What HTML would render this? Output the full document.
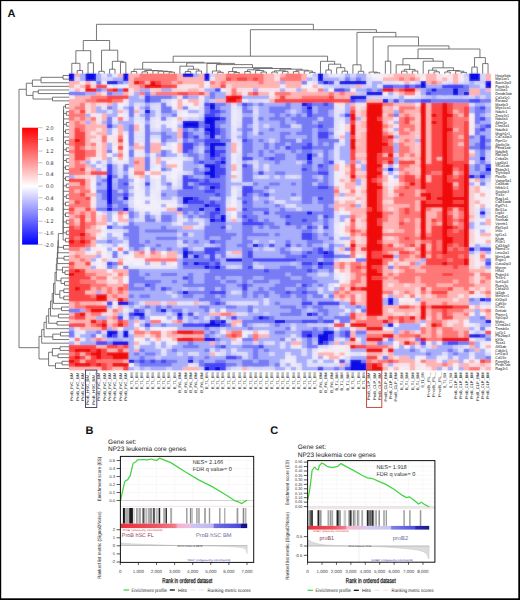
<!DOCTYPE html>
<html><head><meta charset="utf-8"><style>
html,body{margin:0;padding:0;background:#fff;}
body{width:520px;height:600px;overflow:hidden;position:relative;}
svg{position:absolute;left:0;top:0;}
text{font-family:"Liberation Sans",sans-serif;text-rendering:geometricPrecision;}
</style></head><body>
<svg width="520" height="600" viewBox="0 0 520 600">
<rect x="0" y="0" width="520" height="600" fill="#fff"/>
<defs><filter id="bl" x="-1%" y="-1%" width="102%" height="102%"><feGaussianBlur stdDeviation="0.8"/></filter></defs>
<g id="hm">
<path fill="#0a0ae6" d="M69.10 73.70h5.41v3.62h-5.41zM85.32 73.70h10.81v3.62h-10.81zM123.16 73.70h5.41v3.62h-5.41zM182.63 73.70h10.81v3.62h-10.81zM204.25 73.70h5.41v3.62h-5.41zM317.78 73.70h5.41v3.62h-5.41zM469.14 73.70h10.81v3.62h-10.81zM69.10 77.32h5.41v3.62h-5.41zM85.32 77.32h10.81v3.62h-10.81zM123.16 77.32h5.41v3.62h-5.41zM204.25 77.32h5.41v3.62h-5.41zM317.78 77.32h5.41v3.62h-5.41zM469.14 77.32h10.81v3.62h-10.81zM106.94 80.93h10.81v3.62h-10.81zM323.18 80.93h5.41v3.62h-5.41zM339.40 80.93h27.03v3.62h-27.03zM420.49 80.93h5.41v3.62h-5.41zM485.36 80.93h5.41v3.62h-5.41zM420.49 84.55h5.41v3.62h-5.41zM485.36 84.55h5.41v3.62h-5.41zM431.30 88.17h5.41v3.62h-5.41zM452.93 88.17h5.41v3.62h-5.41zM366.43 91.78h16.22v3.62h-16.22zM452.93 91.78h5.41v3.62h-5.41zM463.74 91.78h5.41v3.62h-5.41zM350.21 95.40h16.22v3.62h-16.22zM382.65 99.02h5.41v3.62h-5.41zM209.66 102.64h5.41v3.62h-5.41zM301.56 102.64h5.41v3.62h-5.41zM209.66 106.25h5.41v3.62h-5.41zM306.96 106.25h5.41v3.62h-5.41zM144.78 109.87h5.41v3.62h-5.41zM204.25 117.10h16.22v3.62h-16.22zM182.63 120.72h16.22v3.62h-16.22zM204.25 120.72h10.81v3.62h-10.81zM182.63 124.34h16.22v3.62h-16.22zM209.66 124.34h5.41v3.62h-5.41zM204.25 127.96h10.81v3.62h-10.81zM209.66 131.57h5.41v3.62h-5.41zM209.66 135.19h5.41v3.62h-5.41zM209.66 142.42h16.22v3.62h-16.22zM209.66 146.04h5.41v3.62h-5.41zM209.66 149.66h5.41v3.62h-5.41zM209.66 153.27h5.41v3.62h-5.41zM306.96 153.27h5.41v3.62h-5.41zM306.96 156.89h5.41v3.62h-5.41zM479.96 156.89h5.41v3.62h-5.41zM220.47 160.51h5.41v3.62h-5.41zM204.25 164.12h10.81v3.62h-10.81zM209.66 167.74h5.41v3.62h-5.41zM388.05 167.74h5.41v3.62h-5.41zM485.36 167.74h5.41v3.62h-5.41zM204.25 171.36h10.81v3.62h-10.81zM106.94 174.98h5.41v3.62h-5.41zM209.66 174.98h5.41v3.62h-5.41zM469.14 174.98h5.41v3.62h-5.41zM479.96 174.98h5.41v3.62h-5.41zM106.94 178.59h5.41v3.62h-5.41zM106.94 182.21h5.41v3.62h-5.41zM106.94 185.83h5.41v3.62h-5.41zM209.66 185.83h5.41v3.62h-5.41zM106.94 189.44h5.41v3.62h-5.41zM106.94 193.06h5.41v3.62h-5.41zM106.94 196.68h5.41v3.62h-5.41zM123.16 196.68h5.41v3.62h-5.41zM182.63 196.68h10.81v3.62h-10.81zM106.94 200.30h5.41v3.62h-5.41zM182.63 200.30h5.41v3.62h-5.41zM204.25 203.91h5.41v3.62h-5.41zM106.94 207.53h5.41v3.62h-5.41zM123.16 207.53h5.41v3.62h-5.41zM198.84 207.53h5.41v3.62h-5.41zM215.06 207.53h5.41v3.62h-5.41zM306.96 211.15h5.41v3.62h-5.41zM479.96 211.15h5.41v3.62h-5.41zM220.47 214.76h5.41v3.62h-5.41zM209.66 218.38h5.41v3.62h-5.41zM220.47 218.38h5.41v3.62h-5.41zM252.90 243.70h5.41v3.62h-5.41zM469.14 247.32h5.41v3.62h-5.41zM182.63 250.93h5.41v3.62h-5.41zM323.18 250.93h5.41v3.62h-5.41zM182.63 254.55h5.41v3.62h-5.41zM193.44 254.55h5.41v3.62h-5.41zM225.87 258.17h16.22v3.62h-16.22zM193.44 261.78h5.41v3.62h-5.41zM317.78 261.78h5.41v3.62h-5.41zM204.25 265.40h5.41v3.62h-5.41zM215.06 265.40h5.41v3.62h-5.41zM182.63 290.72h5.41v3.62h-5.41zM388.05 297.95h5.41v3.62h-5.41zM479.96 297.95h5.41v3.62h-5.41zM117.75 301.57h10.81v3.62h-10.81zM388.05 301.57h5.41v3.62h-5.41zM161.00 308.81h5.41v3.62h-5.41zM133.97 312.42h10.81v3.62h-10.81zM177.22 312.42h5.41v3.62h-5.41zM306.96 312.42h5.41v3.62h-5.41zM258.31 316.04h5.41v3.62h-5.41zM209.66 319.66h5.41v3.62h-5.41zM220.47 319.66h5.41v3.62h-5.41zM274.53 319.66h10.81v3.62h-10.81zM485.36 319.66h5.41v3.62h-5.41zM204.25 323.27h16.22v3.62h-16.22zM388.05 323.27h5.41v3.62h-5.41zM106.94 330.51h10.81v3.62h-10.81zM123.16 330.51h5.41v3.62h-5.41zM323.18 330.51h10.81v3.62h-10.81zM106.94 334.12h5.41v3.62h-5.41zM123.16 334.12h5.41v3.62h-5.41zM306.96 334.12h5.41v3.62h-5.41zM317.78 334.12h10.81v3.62h-10.81zM469.14 334.12h10.81v3.62h-10.81zM204.25 337.74h10.81v3.62h-10.81zM317.78 337.74h10.81v3.62h-10.81zM112.35 341.36h16.22v3.62h-16.22zM317.78 341.36h5.41v3.62h-5.41zM128.57 359.44h5.41v3.62h-5.41zM188.03 359.44h5.41v3.62h-5.41zM350.21 359.44h10.81v3.62h-10.81zM350.21 363.06h16.22v3.62h-16.22zM204.25 366.68h5.41v3.62h-5.41zM215.06 366.68h5.41v3.62h-5.41zM350.21 366.68h16.22v3.62h-16.22z"/>
<path fill="#ffb3b3" d="M74.51 73.70h5.41v3.62h-5.41zM117.75 73.70h5.41v3.62h-5.41zM128.57 73.70h10.81v3.62h-10.81zM177.22 73.70h5.41v3.62h-5.41zM198.84 73.70h5.41v3.62h-5.41zM215.06 73.70h10.81v3.62h-10.81zM263.72 73.70h10.81v3.62h-10.81zM279.93 73.70h5.41v3.62h-5.41zM301.56 73.70h5.41v3.62h-5.41zM393.46 73.70h21.62v3.62h-21.62zM425.90 73.70h10.81v3.62h-10.81zM452.93 73.70h5.41v3.62h-5.41zM485.36 73.70h5.41v3.62h-5.41zM128.57 77.32h5.41v3.62h-5.41zM177.22 77.32h27.03v3.62h-27.03zM215.06 77.32h10.81v3.62h-10.81zM263.72 77.32h10.81v3.62h-10.81zM301.56 77.32h5.41v3.62h-5.41zM382.65 77.32h16.22v3.62h-16.22zM404.27 77.32h5.41v3.62h-5.41zM415.08 77.32h5.41v3.62h-5.41zM425.90 77.32h10.81v3.62h-10.81zM442.11 77.32h5.41v3.62h-5.41zM452.93 77.32h5.41v3.62h-5.41zM485.36 77.32h5.41v3.62h-5.41zM69.10 80.93h10.81v3.62h-10.81zM85.32 80.93h5.41v3.62h-5.41zM128.57 80.93h5.41v3.62h-5.41zM144.78 80.93h5.41v3.62h-5.41zM171.81 80.93h5.41v3.62h-5.41zM182.63 80.93h21.62v3.62h-21.62zM215.06 80.93h5.41v3.62h-5.41zM225.87 80.93h32.44v3.62h-32.44zM263.72 80.93h16.22v3.62h-16.22zM285.34 80.93h16.22v3.62h-16.22zM404.27 80.93h5.41v3.62h-5.41zM425.90 80.93h5.41v3.62h-5.41zM436.71 80.93h5.41v3.62h-5.41zM452.93 80.93h5.41v3.62h-5.41zM69.10 84.55h5.41v3.62h-5.41zM79.91 84.55h5.41v3.62h-5.41zM128.57 84.55h10.81v3.62h-10.81zM198.84 84.55h5.41v3.62h-5.41zM209.66 84.55h10.81v3.62h-10.81zM231.28 84.55h48.65v3.62h-48.65zM285.34 84.55h16.22v3.62h-16.22zM312.37 84.55h5.41v3.62h-5.41zM355.62 84.55h5.41v3.62h-5.41zM74.51 88.17h5.41v3.62h-5.41zM133.97 88.17h5.41v3.62h-5.41zM188.03 88.17h10.81v3.62h-10.81zM301.56 88.17h5.41v3.62h-5.41zM415.08 88.17h5.41v3.62h-5.41zM469.14 88.17h10.81v3.62h-10.81zM485.36 88.17h5.41v3.62h-5.41zM96.13 91.78h5.41v3.62h-5.41zM123.16 91.78h5.41v3.62h-5.41zM150.19 91.78h5.41v3.62h-5.41zM204.25 91.78h5.41v3.62h-5.41zM236.69 91.78h5.41v3.62h-5.41zM258.31 91.78h10.81v3.62h-10.81zM290.75 91.78h37.84v3.62h-37.84zM333.99 91.78h5.41v3.62h-5.41zM344.81 91.78h10.81v3.62h-10.81zM398.87 91.78h5.41v3.62h-5.41zM469.14 91.78h10.81v3.62h-10.81zM74.51 95.40h16.22v3.62h-16.22zM274.53 95.40h5.41v3.62h-5.41zM285.34 95.40h16.22v3.62h-16.22zM333.99 95.40h16.22v3.62h-16.22zM69.10 99.02h16.22v3.62h-16.22zM177.22 99.02h5.41v3.62h-5.41zM188.03 99.02h10.81v3.62h-10.81zM215.06 99.02h10.81v3.62h-10.81zM269.12 99.02h5.41v3.62h-5.41zM366.43 99.02h16.22v3.62h-16.22zM69.10 102.64h10.81v3.62h-10.81zM90.72 102.64h5.41v3.62h-5.41zM106.94 102.64h5.41v3.62h-5.41zM177.22 102.64h5.41v3.62h-5.41zM193.44 102.64h5.41v3.62h-5.41zM350.21 102.64h5.41v3.62h-5.41zM393.46 102.64h21.62v3.62h-21.62zM425.90 102.64h5.41v3.62h-5.41zM69.10 106.25h5.41v3.62h-5.41zM90.72 106.25h5.41v3.62h-5.41zM177.22 106.25h5.41v3.62h-5.41zM388.05 106.25h5.41v3.62h-5.41zM415.08 106.25h5.41v3.62h-5.41zM425.90 106.25h5.41v3.62h-5.41zM74.51 109.87h5.41v3.62h-5.41zM90.72 109.87h5.41v3.62h-5.41zM117.75 109.87h5.41v3.62h-5.41zM133.97 109.87h5.41v3.62h-5.41zM361.02 109.87h5.41v3.62h-5.41zM382.65 109.87h10.81v3.62h-10.81zM404.27 109.87h16.22v3.62h-16.22zM425.90 109.87h5.41v3.62h-5.41zM452.93 109.87h5.41v3.62h-5.41zM101.54 113.49h5.41v3.62h-5.41zM361.02 113.49h5.41v3.62h-5.41zM398.87 113.49h5.41v3.62h-5.41zM409.68 113.49h5.41v3.62h-5.41zM425.90 113.49h5.41v3.62h-5.41zM458.33 113.49h5.41v3.62h-5.41zM74.51 117.10h5.41v3.62h-5.41zM85.32 117.10h5.41v3.62h-5.41zM101.54 117.10h5.41v3.62h-5.41zM177.22 117.10h5.41v3.62h-5.41zM382.65 117.10h10.81v3.62h-10.81zM425.90 117.10h5.41v3.62h-5.41zM69.10 120.72h5.41v3.62h-5.41zM79.91 120.72h5.41v3.62h-5.41zM90.72 120.72h5.41v3.62h-5.41zM361.02 120.72h5.41v3.62h-5.41zM382.65 120.72h5.41v3.62h-5.41zM409.68 120.72h5.41v3.62h-5.41zM425.90 120.72h5.41v3.62h-5.41zM69.10 124.34h5.41v3.62h-5.41zM85.32 124.34h21.62v3.62h-21.62zM117.75 124.34h5.41v3.62h-5.41zM133.97 124.34h5.41v3.62h-5.41zM361.02 124.34h5.41v3.62h-5.41zM388.05 124.34h5.41v3.62h-5.41zM425.90 124.34h5.41v3.62h-5.41zM69.10 127.96h5.41v3.62h-5.41zM85.32 127.96h10.81v3.62h-10.81zM101.54 127.96h5.41v3.62h-5.41zM117.75 127.96h5.41v3.62h-5.41zM133.97 127.96h5.41v3.62h-5.41zM177.22 127.96h5.41v3.62h-5.41zM382.65 127.96h5.41v3.62h-5.41zM404.27 127.96h5.41v3.62h-5.41zM425.90 127.96h5.41v3.62h-5.41zM452.93 127.96h5.41v3.62h-5.41zM69.10 131.57h5.41v3.62h-5.41zM85.32 131.57h5.41v3.62h-5.41zM96.13 131.57h10.81v3.62h-10.81zM117.75 131.57h5.41v3.62h-5.41zM177.22 131.57h5.41v3.62h-5.41zM361.02 131.57h5.41v3.62h-5.41zM388.05 131.57h5.41v3.62h-5.41zM409.68 131.57h5.41v3.62h-5.41zM425.90 131.57h5.41v3.62h-5.41zM69.10 135.19h5.41v3.62h-5.41zM85.32 135.19h10.81v3.62h-10.81zM177.22 135.19h5.41v3.62h-5.41zM339.40 135.19h5.41v3.62h-5.41zM361.02 135.19h5.41v3.62h-5.41zM398.87 135.19h16.22v3.62h-16.22zM425.90 135.19h5.41v3.62h-5.41zM458.33 135.19h5.41v3.62h-5.41zM85.32 138.81h5.41v3.62h-5.41zM355.62 138.81h10.81v3.62h-10.81zM398.87 138.81h5.41v3.62h-5.41zM409.68 138.81h5.41v3.62h-5.41zM425.90 138.81h5.41v3.62h-5.41zM85.32 142.42h5.41v3.62h-5.41zM101.54 142.42h5.41v3.62h-5.41zM117.75 142.42h5.41v3.62h-5.41zM133.97 142.42h5.41v3.62h-5.41zM150.19 142.42h10.81v3.62h-10.81zM177.22 142.42h5.41v3.62h-5.41zM231.28 142.42h5.41v3.62h-5.41zM361.02 142.42h5.41v3.62h-5.41zM404.27 142.42h10.81v3.62h-10.81zM425.90 142.42h5.41v3.62h-5.41zM69.10 146.04h5.41v3.62h-5.41zM90.72 146.04h5.41v3.62h-5.41zM101.54 146.04h5.41v3.62h-5.41zM133.97 146.04h10.81v3.62h-10.81zM150.19 146.04h10.81v3.62h-10.81zM177.22 146.04h5.41v3.62h-5.41zM231.28 146.04h5.41v3.62h-5.41zM355.62 146.04h10.81v3.62h-10.81zM409.68 146.04h5.41v3.62h-5.41zM425.90 146.04h5.41v3.62h-5.41zM101.54 149.66h5.41v3.62h-5.41zM117.75 149.66h5.41v3.62h-5.41zM150.19 149.66h10.81v3.62h-10.81zM177.22 149.66h5.41v3.62h-5.41zM231.28 149.66h5.41v3.62h-5.41zM355.62 149.66h10.81v3.62h-10.81zM409.68 149.66h5.41v3.62h-5.41zM425.90 149.66h5.41v3.62h-5.41zM69.10 153.27h5.41v3.62h-5.41zM101.54 153.27h5.41v3.62h-5.41zM382.65 153.27h5.41v3.62h-5.41zM404.27 153.27h5.41v3.62h-5.41zM425.90 153.27h5.41v3.62h-5.41zM469.14 153.27h5.41v3.62h-5.41zM69.10 156.89h5.41v3.62h-5.41zM85.32 156.89h5.41v3.62h-5.41zM101.54 156.89h5.41v3.62h-5.41zM117.75 156.89h5.41v3.62h-5.41zM133.97 156.89h10.81v3.62h-10.81zM155.60 156.89h5.41v3.62h-5.41zM355.62 156.89h10.81v3.62h-10.81zM398.87 156.89h5.41v3.62h-5.41zM409.68 156.89h10.81v3.62h-10.81zM425.90 156.89h5.41v3.62h-5.41zM436.71 156.89h5.41v3.62h-5.41zM69.10 160.51h5.41v3.62h-5.41zM79.91 160.51h5.41v3.62h-5.41zM139.38 160.51h5.41v3.62h-5.41zM155.60 160.51h5.41v3.62h-5.41zM425.90 160.51h5.41v3.62h-5.41zM69.10 164.12h5.41v3.62h-5.41zM85.32 164.12h5.41v3.62h-5.41zM133.97 164.12h10.81v3.62h-10.81zM166.41 164.12h10.81v3.62h-10.81zM231.28 164.12h5.41v3.62h-5.41zM333.99 164.12h5.41v3.62h-5.41zM344.81 164.12h5.41v3.62h-5.41zM409.68 164.12h10.81v3.62h-10.81zM90.72 167.74h5.41v3.62h-5.41zM133.97 167.74h10.81v3.62h-10.81zM231.28 167.74h5.41v3.62h-5.41zM333.99 167.74h5.41v3.62h-5.41zM355.62 167.74h5.41v3.62h-5.41zM404.27 167.74h10.81v3.62h-10.81zM85.32 171.36h5.41v3.62h-5.41zM150.19 171.36h10.81v3.62h-10.81zM344.81 171.36h5.41v3.62h-5.41zM398.87 171.36h5.41v3.62h-5.41zM409.68 171.36h5.41v3.62h-5.41zM452.93 171.36h5.41v3.62h-5.41zM139.38 174.98h5.41v3.62h-5.41zM231.28 174.98h5.41v3.62h-5.41zM355.62 174.98h10.81v3.62h-10.81zM382.65 174.98h5.41v3.62h-5.41zM415.08 174.98h5.41v3.62h-5.41zM425.90 174.98h5.41v3.62h-5.41zM85.32 178.59h5.41v3.62h-5.41zM339.40 178.59h5.41v3.62h-5.41zM382.65 178.59h5.41v3.62h-5.41zM425.90 178.59h5.41v3.62h-5.41zM474.55 178.59h5.41v3.62h-5.41zM69.10 182.21h10.81v3.62h-10.81zM85.32 182.21h5.41v3.62h-5.41zM344.81 182.21h10.81v3.62h-10.81zM398.87 182.21h5.41v3.62h-5.41zM452.93 182.21h5.41v3.62h-5.41zM85.32 185.83h5.41v3.62h-5.41zM333.99 185.83h5.41v3.62h-5.41zM344.81 185.83h10.81v3.62h-10.81zM382.65 185.83h5.41v3.62h-5.41zM393.46 185.83h5.41v3.62h-5.41zM474.55 185.83h5.41v3.62h-5.41zM74.51 189.44h5.41v3.62h-5.41zM361.02 189.44h5.41v3.62h-5.41zM382.65 189.44h5.41v3.62h-5.41zM415.08 189.44h5.41v3.62h-5.41zM474.55 189.44h5.41v3.62h-5.41zM85.32 193.06h10.81v3.62h-10.81zM333.99 193.06h5.41v3.62h-5.41zM344.81 193.06h10.81v3.62h-10.81zM382.65 193.06h5.41v3.62h-5.41zM393.46 193.06h5.41v3.62h-5.41zM415.08 193.06h5.41v3.62h-5.41zM479.96 193.06h5.41v3.62h-5.41zM355.62 196.68h5.41v3.62h-5.41zM382.65 196.68h10.81v3.62h-10.81zM69.10 200.30h5.41v3.62h-5.41zM333.99 200.30h5.41v3.62h-5.41zM344.81 200.30h10.81v3.62h-10.81zM415.08 200.30h5.41v3.62h-5.41zM474.55 200.30h5.41v3.62h-5.41zM333.99 203.91h16.22v3.62h-16.22zM382.65 203.91h27.03v3.62h-27.03zM415.08 203.91h5.41v3.62h-5.41zM479.96 203.91h5.41v3.62h-5.41zM74.51 207.53h10.81v3.62h-10.81zM90.72 207.53h5.41v3.62h-5.41zM166.41 207.53h10.81v3.62h-10.81zM225.87 207.53h10.81v3.62h-10.81zM333.99 207.53h5.41v3.62h-5.41zM344.81 207.53h21.62v3.62h-21.62zM382.65 207.53h5.41v3.62h-5.41zM393.46 207.53h5.41v3.62h-5.41zM415.08 207.53h5.41v3.62h-5.41zM431.30 207.53h10.81v3.62h-10.81zM452.93 207.53h5.41v3.62h-5.41zM74.51 211.15h5.41v3.62h-5.41zM85.32 211.15h5.41v3.62h-5.41zM123.16 211.15h5.41v3.62h-5.41zM177.22 211.15h5.41v3.62h-5.41zM350.21 211.15h16.22v3.62h-16.22zM393.46 211.15h5.41v3.62h-5.41zM425.90 211.15h10.81v3.62h-10.81zM452.93 211.15h5.41v3.62h-5.41zM69.10 214.76h5.41v3.62h-5.41zM85.32 214.76h5.41v3.62h-5.41zM101.54 214.76h5.41v3.62h-5.41zM117.75 214.76h5.41v3.62h-5.41zM355.62 214.76h5.41v3.62h-5.41zM388.05 214.76h10.81v3.62h-10.81zM425.90 214.76h10.81v3.62h-10.81zM452.93 214.76h5.41v3.62h-5.41zM469.14 214.76h5.41v3.62h-5.41zM101.54 218.38h5.41v3.62h-5.41zM117.75 218.38h10.81v3.62h-10.81zM231.28 218.38h5.41v3.62h-5.41zM361.02 218.38h5.41v3.62h-5.41zM388.05 218.38h10.81v3.62h-10.81zM404.27 218.38h5.41v3.62h-5.41zM425.90 218.38h5.41v3.62h-5.41zM485.36 218.38h5.41v3.62h-5.41zM74.51 222.00h5.41v3.62h-5.41zM96.13 222.00h10.81v3.62h-10.81zM382.65 222.00h16.22v3.62h-16.22zM415.08 222.00h5.41v3.62h-5.41zM425.90 222.00h5.41v3.62h-5.41zM436.71 222.00h5.41v3.62h-5.41zM452.93 222.00h5.41v3.62h-5.41zM485.36 222.00h5.41v3.62h-5.41zM90.72 225.61h5.41v3.62h-5.41zM182.63 225.61h10.81v3.62h-10.81zM344.81 225.61h5.41v3.62h-5.41zM382.65 225.61h16.22v3.62h-16.22zM415.08 225.61h5.41v3.62h-5.41zM425.90 225.61h5.41v3.62h-5.41zM85.32 229.23h16.22v3.62h-16.22zM344.81 229.23h5.41v3.62h-5.41zM361.02 229.23h5.41v3.62h-5.41zM393.46 229.23h10.81v3.62h-10.81zM425.90 229.23h5.41v3.62h-5.41zM90.72 232.85h5.41v3.62h-5.41zM355.62 232.85h5.41v3.62h-5.41zM415.08 232.85h5.41v3.62h-5.41zM479.96 232.85h10.81v3.62h-10.81zM350.21 236.46h5.41v3.62h-5.41zM393.46 236.46h5.41v3.62h-5.41zM90.72 240.08h5.41v3.62h-5.41zM382.65 240.08h16.22v3.62h-16.22zM415.08 240.08h5.41v3.62h-5.41zM485.36 240.08h5.41v3.62h-5.41zM90.72 243.70h5.41v3.62h-5.41zM355.62 243.70h10.81v3.62h-10.81zM398.87 243.70h5.41v3.62h-5.41zM415.08 243.70h5.41v3.62h-5.41zM79.91 247.32h5.41v3.62h-5.41zM339.40 247.32h5.41v3.62h-5.41zM404.27 247.32h5.41v3.62h-5.41zM425.90 247.32h5.41v3.62h-5.41zM74.51 250.93h10.81v3.62h-10.81zM96.13 250.93h5.41v3.62h-5.41zM133.97 250.93h5.41v3.62h-5.41zM155.60 250.93h5.41v3.62h-5.41zM166.41 250.93h10.81v3.62h-10.81zM231.28 250.93h10.81v3.62h-10.81zM388.05 250.93h5.41v3.62h-5.41zM415.08 250.93h5.41v3.62h-5.41zM479.96 250.93h5.41v3.62h-5.41zM69.10 254.55h5.41v3.62h-5.41zM79.91 254.55h16.22v3.62h-16.22zM133.97 254.55h10.81v3.62h-10.81zM150.19 254.55h10.81v3.62h-10.81zM166.41 254.55h10.81v3.62h-10.81zM409.68 254.55h5.41v3.62h-5.41zM425.90 254.55h5.41v3.62h-5.41zM69.10 258.17h10.81v3.62h-10.81zM85.32 258.17h5.41v3.62h-5.41zM101.54 258.17h5.41v3.62h-5.41zM117.75 258.17h5.41v3.62h-5.41zM404.27 258.17h16.22v3.62h-16.22zM479.96 258.17h5.41v3.62h-5.41zM74.51 261.78h10.81v3.62h-10.81zM333.99 261.78h5.41v3.62h-5.41zM344.81 261.78h5.41v3.62h-5.41zM361.02 261.78h5.41v3.62h-5.41zM393.46 261.78h5.41v3.62h-5.41zM420.49 261.78h5.41v3.62h-5.41zM74.51 265.40h16.22v3.62h-16.22zM333.99 265.40h5.41v3.62h-5.41zM382.65 265.40h5.41v3.62h-5.41zM393.46 265.40h5.41v3.62h-5.41zM409.68 265.40h10.81v3.62h-10.81zM479.96 265.40h5.41v3.62h-5.41zM85.32 269.02h21.62v3.62h-21.62zM112.35 269.02h16.22v3.62h-16.22zM339.40 269.02h5.41v3.62h-5.41zM361.02 269.02h5.41v3.62h-5.41zM382.65 269.02h10.81v3.62h-10.81zM398.87 269.02h5.41v3.62h-5.41zM415.08 269.02h10.81v3.62h-10.81zM469.14 269.02h16.22v3.62h-16.22zM96.13 272.63h16.22v3.62h-16.22zM123.16 272.63h5.41v3.62h-5.41zM350.21 272.63h5.41v3.62h-5.41zM382.65 272.63h5.41v3.62h-5.41zM393.46 272.63h5.41v3.62h-5.41zM90.72 276.25h5.41v3.62h-5.41zM112.35 276.25h10.81v3.62h-10.81zM350.21 276.25h5.41v3.62h-5.41zM361.02 276.25h5.41v3.62h-5.41zM388.05 276.25h5.41v3.62h-5.41zM415.08 276.25h5.41v3.62h-5.41zM469.14 276.25h5.41v3.62h-5.41zM479.96 276.25h5.41v3.62h-5.41zM96.13 279.87h10.81v3.62h-10.81zM117.75 279.87h5.41v3.62h-5.41zM361.02 279.87h5.41v3.62h-5.41zM382.65 279.87h16.22v3.62h-16.22zM415.08 279.87h5.41v3.62h-5.41zM452.93 279.87h5.41v3.62h-5.41zM469.14 279.87h5.41v3.62h-5.41zM485.36 279.87h5.41v3.62h-5.41zM106.94 283.49h16.22v3.62h-16.22zM339.40 283.49h10.81v3.62h-10.81zM355.62 283.49h10.81v3.62h-10.81zM382.65 283.49h5.41v3.62h-5.41zM393.46 283.49h10.81v3.62h-10.81zM409.68 283.49h16.22v3.62h-16.22zM436.71 283.49h16.22v3.62h-16.22zM474.55 283.49h16.22v3.62h-16.22zM90.72 287.10h5.41v3.62h-5.41zM101.54 287.10h5.41v3.62h-5.41zM112.35 287.10h5.41v3.62h-5.41zM382.65 287.10h32.44v3.62h-32.44zM452.93 287.10h10.81v3.62h-10.81zM474.55 287.10h5.41v3.62h-5.41zM485.36 287.10h5.41v3.62h-5.41zM90.72 290.72h5.41v3.62h-5.41zM101.54 290.72h5.41v3.62h-5.41zM112.35 290.72h5.41v3.62h-5.41zM123.16 290.72h5.41v3.62h-5.41zM339.40 290.72h5.41v3.62h-5.41zM350.21 290.72h16.22v3.62h-16.22zM398.87 290.72h5.41v3.62h-5.41zM409.68 290.72h5.41v3.62h-5.41zM425.90 290.72h5.41v3.62h-5.41zM447.52 290.72h21.62v3.62h-21.62zM479.96 290.72h5.41v3.62h-5.41zM106.94 294.34h5.41v3.62h-5.41zM117.75 294.34h10.81v3.62h-10.81zM333.99 294.34h5.41v3.62h-5.41zM344.81 294.34h5.41v3.62h-5.41zM361.02 294.34h5.41v3.62h-5.41zM393.46 294.34h10.81v3.62h-10.81zM420.49 294.34h5.41v3.62h-5.41zM431.30 294.34h5.41v3.62h-5.41zM447.52 294.34h10.81v3.62h-10.81zM463.74 294.34h5.41v3.62h-5.41zM485.36 294.34h5.41v3.62h-5.41zM106.94 297.95h10.81v3.62h-10.81zM339.40 297.95h5.41v3.62h-5.41zM361.02 297.95h5.41v3.62h-5.41zM420.49 297.95h32.44v3.62h-32.44zM458.33 297.95h10.81v3.62h-10.81zM69.10 301.57h5.41v3.62h-5.41zM79.91 301.57h16.22v3.62h-16.22zM144.78 301.57h16.22v3.62h-16.22zM166.41 301.57h10.81v3.62h-10.81zM193.44 301.57h5.41v3.62h-5.41zM355.62 301.57h10.81v3.62h-10.81zM425.90 301.57h16.22v3.62h-16.22zM447.52 301.57h21.62v3.62h-21.62zM69.10 305.19h5.41v3.62h-5.41zM117.75 305.19h5.41v3.62h-5.41zM382.65 305.19h16.22v3.62h-16.22zM415.08 305.19h5.41v3.62h-5.41zM474.55 305.19h5.41v3.62h-5.41zM117.75 308.81h5.41v3.62h-5.41zM382.65 308.81h5.41v3.62h-5.41zM393.46 308.81h21.62v3.62h-21.62zM425.90 308.81h5.41v3.62h-5.41zM463.74 308.81h10.81v3.62h-10.81zM479.96 308.81h5.41v3.62h-5.41zM69.10 312.42h5.41v3.62h-5.41zM85.32 312.42h5.41v3.62h-5.41zM112.35 312.42h5.41v3.62h-5.41zM209.66 312.42h10.81v3.62h-10.81zM231.28 312.42h5.41v3.62h-5.41zM355.62 312.42h10.81v3.62h-10.81zM382.65 312.42h10.81v3.62h-10.81zM404.27 312.42h5.41v3.62h-5.41zM425.90 312.42h5.41v3.62h-5.41zM436.71 312.42h5.41v3.62h-5.41zM452.93 312.42h10.81v3.62h-10.81zM485.36 312.42h5.41v3.62h-5.41zM85.32 316.04h10.81v3.62h-10.81zM106.94 316.04h5.41v3.62h-5.41zM355.62 316.04h5.41v3.62h-5.41zM377.24 316.04h10.81v3.62h-10.81zM415.08 316.04h5.41v3.62h-5.41zM436.71 316.04h5.41v3.62h-5.41zM452.93 316.04h16.22v3.62h-16.22zM485.36 316.04h5.41v3.62h-5.41zM74.51 319.66h16.22v3.62h-16.22zM112.35 319.66h5.41v3.62h-5.41zM133.97 319.66h5.41v3.62h-5.41zM171.81 319.66h5.41v3.62h-5.41zM231.28 319.66h10.81v3.62h-10.81zM350.21 319.66h5.41v3.62h-5.41zM393.46 319.66h5.41v3.62h-5.41zM415.08 319.66h5.41v3.62h-5.41zM425.90 319.66h5.41v3.62h-5.41zM442.11 319.66h5.41v3.62h-5.41zM458.33 319.66h5.41v3.62h-5.41zM85.32 323.27h5.41v3.62h-5.41zM106.94 323.27h5.41v3.62h-5.41zM231.28 323.27h5.41v3.62h-5.41zM425.90 323.27h5.41v3.62h-5.41zM442.11 323.27h5.41v3.62h-5.41zM452.93 323.27h10.81v3.62h-10.81zM79.91 326.89h21.62v3.62h-21.62zM112.35 326.89h5.41v3.62h-5.41zM133.97 326.89h5.41v3.62h-5.41zM355.62 326.89h10.81v3.62h-10.81zM425.90 326.89h5.41v3.62h-5.41zM436.71 326.89h5.41v3.62h-5.41zM452.93 326.89h16.22v3.62h-16.22zM144.78 330.51h5.41v3.62h-5.41zM166.41 330.51h5.41v3.62h-5.41zM225.87 330.51h5.41v3.62h-5.41zM252.90 330.51h5.41v3.62h-5.41zM350.21 330.51h5.41v3.62h-5.41zM366.43 330.51h27.03v3.62h-27.03zM398.87 330.51h5.41v3.62h-5.41zM409.68 330.51h5.41v3.62h-5.41zM425.90 330.51h5.41v3.62h-5.41zM458.33 330.51h5.41v3.62h-5.41zM133.97 334.12h10.81v3.62h-10.81zM150.19 334.12h5.41v3.62h-5.41zM166.41 334.12h10.81v3.62h-10.81zM182.63 334.12h21.62v3.62h-21.62zM258.31 334.12h10.81v3.62h-10.81zM350.21 334.12h5.41v3.62h-5.41zM393.46 334.12h5.41v3.62h-5.41zM420.49 334.12h10.81v3.62h-10.81zM436.71 334.12h5.41v3.62h-5.41zM458.33 334.12h5.41v3.62h-5.41zM90.72 337.74h5.41v3.62h-5.41zM101.54 337.74h5.41v3.62h-5.41zM155.60 337.74h5.41v3.62h-5.41zM171.81 337.74h5.41v3.62h-5.41zM231.28 337.74h5.41v3.62h-5.41zM393.46 337.74h16.22v3.62h-16.22zM133.97 341.36h5.41v3.62h-5.41zM209.66 341.36h5.41v3.62h-5.41zM290.75 341.36h10.81v3.62h-10.81zM333.99 341.36h5.41v3.62h-5.41zM344.81 341.36h10.81v3.62h-10.81zM366.43 341.36h10.81v3.62h-10.81zM398.87 341.36h5.41v3.62h-5.41zM415.08 341.36h5.41v3.62h-5.41zM96.13 344.97h10.81v3.62h-10.81zM388.05 344.97h5.41v3.62h-5.41zM431.30 344.97h5.41v3.62h-5.41zM469.14 344.97h5.41v3.62h-5.41zM485.36 344.97h5.41v3.62h-5.41zM106.94 348.59h10.81v3.62h-10.81zM123.16 348.59h5.41v3.62h-5.41zM133.97 348.59h5.41v3.62h-5.41zM474.55 348.59h5.41v3.62h-5.41zM79.91 352.21h5.41v3.62h-5.41zM209.66 352.21h5.41v3.62h-5.41zM317.78 352.21h16.22v3.62h-16.22zM339.40 352.21h5.41v3.62h-5.41zM366.43 352.21h16.22v3.62h-16.22zM388.05 352.21h5.41v3.62h-5.41zM85.32 355.83h5.41v3.62h-5.41zM328.59 355.83h10.81v3.62h-10.81zM388.05 355.83h5.41v3.62h-5.41zM398.87 355.83h10.81v3.62h-10.81zM79.91 359.44h5.41v3.62h-5.41zM123.16 359.44h5.41v3.62h-5.41zM371.84 359.44h5.41v3.62h-5.41zM398.87 359.44h16.22v3.62h-16.22zM425.90 359.44h10.81v3.62h-10.81zM447.52 359.44h10.81v3.62h-10.81zM469.14 359.44h5.41v3.62h-5.41zM339.40 363.06h5.41v3.62h-5.41zM409.68 363.06h5.41v3.62h-5.41zM425.90 363.06h16.22v3.62h-16.22zM447.52 363.06h5.41v3.62h-5.41zM458.33 363.06h10.81v3.62h-10.81zM479.96 363.06h5.41v3.62h-5.41zM69.10 366.68h32.44v3.62h-32.44zM112.35 366.68h10.81v3.62h-10.81zM182.63 366.68h16.22v3.62h-16.22zM242.09 366.68h5.41v3.62h-5.41zM382.65 366.68h5.41v3.62h-5.41zM393.46 366.68h5.41v3.62h-5.41zM409.68 366.68h5.41v3.62h-5.41zM431.30 366.68h5.41v3.62h-5.41zM463.74 366.68h5.41v3.62h-5.41zM485.36 366.68h5.41v3.62h-5.41z"/>
<path fill="#a9aefc" d="M79.91 73.70h5.41v3.62h-5.41zM96.13 73.70h5.41v3.62h-5.41zM106.94 73.70h5.41v3.62h-5.41zM193.44 73.70h5.41v3.62h-5.41zM344.81 73.70h5.41v3.62h-5.41zM355.62 73.70h10.81v3.62h-10.81zM79.91 77.32h5.41v3.62h-5.41zM96.13 77.32h5.41v3.62h-5.41zM112.35 77.32h10.81v3.62h-10.81zM306.96 77.32h5.41v3.62h-5.41zM323.18 77.32h16.22v3.62h-16.22zM361.02 77.32h5.41v3.62h-5.41zM123.16 80.93h5.41v3.62h-5.41zM279.93 80.93h5.41v3.62h-5.41zM371.84 80.93h10.81v3.62h-10.81zM469.14 80.93h5.41v3.62h-5.41zM371.84 84.55h5.41v3.62h-5.41zM425.90 84.55h16.22v3.62h-16.22zM469.14 84.55h10.81v3.62h-10.81zM101.54 88.17h5.41v3.62h-5.41zM139.38 88.17h10.81v3.62h-10.81zM161.00 88.17h10.81v3.62h-10.81zM204.25 88.17h10.81v3.62h-10.81zM252.90 88.17h5.41v3.62h-5.41zM279.93 88.17h5.41v3.62h-5.41zM296.15 88.17h5.41v3.62h-5.41zM323.18 88.17h5.41v3.62h-5.41zM355.62 88.17h10.81v3.62h-10.81zM371.84 88.17h5.41v3.62h-5.41zM420.49 88.17h5.41v3.62h-5.41zM479.96 88.17h5.41v3.62h-5.41zM85.32 91.78h10.81v3.62h-10.81zM112.35 91.78h10.81v3.62h-10.81zM133.97 91.78h5.41v3.62h-5.41zM215.06 91.78h10.81v3.62h-10.81zM388.05 91.78h5.41v3.62h-5.41zM420.49 91.78h5.41v3.62h-5.41zM479.96 91.78h10.81v3.62h-10.81zM128.57 95.40h10.81v3.62h-10.81zM171.81 95.40h5.41v3.62h-5.41zM188.03 95.40h10.81v3.62h-10.81zM204.25 95.40h5.41v3.62h-5.41zM215.06 95.40h10.81v3.62h-10.81zM242.09 95.40h27.03v3.62h-27.03zM398.87 95.40h5.41v3.62h-5.41zM431.30 95.40h5.41v3.62h-5.41zM474.55 95.40h5.41v3.62h-5.41zM485.36 95.40h5.41v3.62h-5.41zM128.57 99.02h16.22v3.62h-16.22zM204.25 99.02h5.41v3.62h-5.41zM388.05 99.02h5.41v3.62h-5.41zM398.87 99.02h5.41v3.62h-5.41zM112.35 102.64h5.41v3.62h-5.41zM128.57 102.64h5.41v3.62h-5.41zM144.78 102.64h5.41v3.62h-5.41zM225.87 102.64h5.41v3.62h-5.41zM236.69 102.64h5.41v3.62h-5.41zM252.90 102.64h5.41v3.62h-5.41zM263.72 102.64h21.62v3.62h-21.62zM290.75 102.64h10.81v3.62h-10.81zM344.81 102.64h5.41v3.62h-5.41zM474.55 102.64h10.81v3.62h-10.81zM96.13 106.25h5.41v3.62h-5.41zM112.35 106.25h5.41v3.62h-5.41zM123.16 106.25h5.41v3.62h-5.41zM139.38 106.25h5.41v3.62h-5.41zM220.47 106.25h10.81v3.62h-10.81zM247.50 106.25h5.41v3.62h-5.41zM258.31 106.25h10.81v3.62h-10.81zM290.75 106.25h10.81v3.62h-10.81zM312.37 106.25h5.41v3.62h-5.41zM344.81 106.25h5.41v3.62h-5.41zM469.14 106.25h5.41v3.62h-5.41zM485.36 106.25h5.41v3.62h-5.41zM96.13 109.87h10.81v3.62h-10.81zM112.35 109.87h5.41v3.62h-5.41zM150.19 109.87h5.41v3.62h-5.41zM171.81 109.87h5.41v3.62h-5.41zM188.03 109.87h10.81v3.62h-10.81zM225.87 109.87h5.41v3.62h-5.41zM258.31 109.87h10.81v3.62h-10.81zM285.34 109.87h5.41v3.62h-5.41zM296.15 109.87h5.41v3.62h-5.41zM312.37 109.87h5.41v3.62h-5.41zM328.59 109.87h5.41v3.62h-5.41zM344.81 109.87h5.41v3.62h-5.41zM393.46 109.87h5.41v3.62h-5.41zM469.14 109.87h5.41v3.62h-5.41zM485.36 109.87h5.41v3.62h-5.41zM85.32 113.49h5.41v3.62h-5.41zM106.94 113.49h10.81v3.62h-10.81zM139.38 113.49h5.41v3.62h-5.41zM150.19 113.49h5.41v3.62h-5.41zM161.00 113.49h10.81v3.62h-10.81zM220.47 113.49h10.81v3.62h-10.81zM242.09 113.49h10.81v3.62h-10.81zM258.31 113.49h16.22v3.62h-16.22zM279.93 113.49h5.41v3.62h-5.41zM290.75 113.49h5.41v3.62h-5.41zM301.56 113.49h5.41v3.62h-5.41zM328.59 113.49h5.41v3.62h-5.41zM339.40 113.49h5.41v3.62h-5.41zM479.96 113.49h5.41v3.62h-5.41zM128.57 117.10h5.41v3.62h-5.41zM225.87 117.10h5.41v3.62h-5.41zM263.72 117.10h5.41v3.62h-5.41zM285.34 117.10h5.41v3.62h-5.41zM344.81 117.10h5.41v3.62h-5.41zM355.62 117.10h5.41v3.62h-5.41zM485.36 117.10h5.41v3.62h-5.41zM85.32 120.72h5.41v3.62h-5.41zM101.54 120.72h5.41v3.62h-5.41zM117.75 120.72h16.22v3.62h-16.22zM144.78 120.72h5.41v3.62h-5.41zM225.87 120.72h5.41v3.62h-5.41zM258.31 120.72h21.62v3.62h-21.62zM285.34 120.72h10.81v3.62h-10.81zM312.37 120.72h5.41v3.62h-5.41zM344.81 120.72h5.41v3.62h-5.41zM393.46 120.72h5.41v3.62h-5.41zM479.96 120.72h10.81v3.62h-10.81zM112.35 124.34h5.41v3.62h-5.41zM123.16 124.34h5.41v3.62h-5.41zM161.00 124.34h5.41v3.62h-5.41zM177.22 124.34h5.41v3.62h-5.41zM220.47 124.34h10.81v3.62h-10.81zM247.50 124.34h5.41v3.62h-5.41zM258.31 124.34h5.41v3.62h-5.41zM269.12 124.34h10.81v3.62h-10.81zM474.55 124.34h5.41v3.62h-5.41zM106.94 127.96h5.41v3.62h-5.41zM123.16 127.96h5.41v3.62h-5.41zM161.00 127.96h10.81v3.62h-10.81zM188.03 127.96h5.41v3.62h-5.41zM225.87 127.96h5.41v3.62h-5.41zM236.69 127.96h5.41v3.62h-5.41zM258.31 127.96h10.81v3.62h-10.81zM274.53 127.96h27.03v3.62h-27.03zM312.37 127.96h5.41v3.62h-5.41zM328.59 127.96h5.41v3.62h-5.41zM393.46 127.96h5.41v3.62h-5.41zM485.36 127.96h5.41v3.62h-5.41zM106.94 131.57h5.41v3.62h-5.41zM150.19 131.57h10.81v3.62h-10.81zM166.41 131.57h10.81v3.62h-10.81zM193.44 131.57h10.81v3.62h-10.81zM225.87 131.57h5.41v3.62h-5.41zM247.50 131.57h5.41v3.62h-5.41zM263.72 131.57h16.22v3.62h-16.22zM290.75 131.57h5.41v3.62h-5.41zM312.37 131.57h5.41v3.62h-5.41zM344.81 131.57h5.41v3.62h-5.41zM479.96 131.57h10.81v3.62h-10.81zM171.81 135.19h5.41v3.62h-5.41zM198.84 135.19h5.41v3.62h-5.41zM215.06 135.19h5.41v3.62h-5.41zM225.87 135.19h5.41v3.62h-5.41zM236.69 135.19h5.41v3.62h-5.41zM247.50 135.19h32.44v3.62h-32.44zM285.34 135.19h21.62v3.62h-21.62zM312.37 135.19h5.41v3.62h-5.41zM328.59 135.19h5.41v3.62h-5.41zM344.81 135.19h5.41v3.62h-5.41zM393.46 135.19h5.41v3.62h-5.41zM474.55 135.19h5.41v3.62h-5.41zM485.36 135.19h5.41v3.62h-5.41zM166.41 138.81h10.81v3.62h-10.81zM188.03 138.81h5.41v3.62h-5.41zM252.90 138.81h5.41v3.62h-5.41zM263.72 138.81h5.41v3.62h-5.41zM274.53 138.81h5.41v3.62h-5.41zM312.37 138.81h5.41v3.62h-5.41zM344.81 138.81h5.41v3.62h-5.41zM415.08 138.81h5.41v3.62h-5.41zM469.14 138.81h10.81v3.62h-10.81zM106.94 142.42h5.41v3.62h-5.41zM161.00 142.42h5.41v3.62h-5.41zM198.84 142.42h5.41v3.62h-5.41zM225.87 142.42h5.41v3.62h-5.41zM252.90 142.42h10.81v3.62h-10.81zM269.12 142.42h5.41v3.62h-5.41zM285.34 142.42h5.41v3.62h-5.41zM312.37 142.42h5.41v3.62h-5.41zM323.18 142.42h5.41v3.62h-5.41zM344.81 142.42h5.41v3.62h-5.41zM393.46 142.42h5.41v3.62h-5.41zM469.14 142.42h5.41v3.62h-5.41zM485.36 142.42h5.41v3.62h-5.41zM106.94 146.04h5.41v3.62h-5.41zM128.57 146.04h5.41v3.62h-5.41zM193.44 146.04h5.41v3.62h-5.41zM225.87 146.04h5.41v3.62h-5.41zM252.90 146.04h10.81v3.62h-10.81zM269.12 146.04h5.41v3.62h-5.41zM279.93 146.04h5.41v3.62h-5.41zM339.40 146.04h10.81v3.62h-10.81zM393.46 146.04h5.41v3.62h-5.41zM166.41 149.66h5.41v3.62h-5.41zM193.44 149.66h5.41v3.62h-5.41zM225.87 149.66h5.41v3.62h-5.41zM252.90 149.66h5.41v3.62h-5.41zM263.72 149.66h5.41v3.62h-5.41zM274.53 149.66h16.22v3.62h-16.22zM296.15 149.66h5.41v3.62h-5.41zM312.37 149.66h10.81v3.62h-10.81zM328.59 149.66h5.41v3.62h-5.41zM339.40 149.66h10.81v3.62h-10.81zM393.46 149.66h5.41v3.62h-5.41zM474.55 149.66h5.41v3.62h-5.41zM112.35 153.27h5.41v3.62h-5.41zM144.78 153.27h5.41v3.62h-5.41zM155.60 153.27h5.41v3.62h-5.41zM166.41 153.27h10.81v3.62h-10.81zM182.63 153.27h5.41v3.62h-5.41zM198.84 153.27h5.41v3.62h-5.41zM225.87 153.27h5.41v3.62h-5.41zM247.50 153.27h10.81v3.62h-10.81zM263.72 153.27h10.81v3.62h-10.81zM285.34 153.27h10.81v3.62h-10.81zM328.59 153.27h5.41v3.62h-5.41zM339.40 153.27h10.81v3.62h-10.81zM474.55 153.27h5.41v3.62h-5.41zM106.94 156.89h5.41v3.62h-5.41zM128.57 156.89h5.41v3.62h-5.41zM198.84 156.89h5.41v3.62h-5.41zM225.87 156.89h5.41v3.62h-5.41zM252.90 156.89h10.81v3.62h-10.81zM285.34 156.89h10.81v3.62h-10.81zM312.37 156.89h10.81v3.62h-10.81zM328.59 156.89h5.41v3.62h-5.41zM339.40 156.89h10.81v3.62h-10.81zM393.46 156.89h5.41v3.62h-5.41zM469.14 156.89h10.81v3.62h-10.81zM85.32 160.51h5.41v3.62h-5.41zM96.13 160.51h5.41v3.62h-5.41zM106.94 160.51h5.41v3.62h-5.41zM128.57 160.51h5.41v3.62h-5.41zM161.00 160.51h5.41v3.62h-5.41zM182.63 160.51h10.81v3.62h-10.81zM225.87 160.51h5.41v3.62h-5.41zM242.09 160.51h5.41v3.62h-5.41zM258.31 160.51h16.22v3.62h-16.22zM279.93 160.51h16.22v3.62h-16.22zM301.56 160.51h5.41v3.62h-5.41zM312.37 160.51h10.81v3.62h-10.81zM344.81 160.51h5.41v3.62h-5.41zM355.62 160.51h5.41v3.62h-5.41zM393.46 160.51h5.41v3.62h-5.41zM474.55 160.51h5.41v3.62h-5.41zM90.72 164.12h5.41v3.62h-5.41zM112.35 164.12h5.41v3.62h-5.41zM128.57 164.12h5.41v3.62h-5.41zM161.00 164.12h5.41v3.62h-5.41zM182.63 164.12h16.22v3.62h-16.22zM225.87 164.12h5.41v3.62h-5.41zM258.31 164.12h5.41v3.62h-5.41zM269.12 164.12h32.44v3.62h-32.44zM312.37 164.12h5.41v3.62h-5.41zM328.59 164.12h5.41v3.62h-5.41zM361.02 164.12h5.41v3.62h-5.41zM388.05 164.12h5.41v3.62h-5.41zM469.14 164.12h5.41v3.62h-5.41zM479.96 164.12h5.41v3.62h-5.41zM96.13 167.74h5.41v3.62h-5.41zM112.35 167.74h5.41v3.62h-5.41zM166.41 167.74h5.41v3.62h-5.41zM182.63 167.74h10.81v3.62h-10.81zM198.84 167.74h5.41v3.62h-5.41zM225.87 167.74h5.41v3.62h-5.41zM258.31 167.74h5.41v3.62h-5.41zM269.12 167.74h32.44v3.62h-32.44zM312.37 167.74h5.41v3.62h-5.41zM328.59 167.74h5.41v3.62h-5.41zM361.02 167.74h5.41v3.62h-5.41zM382.65 167.74h5.41v3.62h-5.41zM393.46 167.74h5.41v3.62h-5.41zM469.14 167.74h5.41v3.62h-5.41zM479.96 167.74h5.41v3.62h-5.41zM112.35 171.36h5.41v3.62h-5.41zM123.16 171.36h5.41v3.62h-5.41zM225.87 171.36h5.41v3.62h-5.41zM252.90 171.36h5.41v3.62h-5.41zM263.72 171.36h10.81v3.62h-10.81zM285.34 171.36h16.22v3.62h-16.22zM328.59 171.36h5.41v3.62h-5.41zM388.05 171.36h5.41v3.62h-5.41zM469.14 171.36h10.81v3.62h-10.81zM69.10 174.98h5.41v3.62h-5.41zM96.13 174.98h5.41v3.62h-5.41zM144.78 174.98h5.41v3.62h-5.41zM161.00 174.98h5.41v3.62h-5.41zM193.44 174.98h10.81v3.62h-10.81zM225.87 174.98h5.41v3.62h-5.41zM269.12 174.98h5.41v3.62h-5.41zM279.93 174.98h5.41v3.62h-5.41zM312.37 174.98h5.41v3.62h-5.41zM328.59 174.98h5.41v3.62h-5.41zM393.46 174.98h5.41v3.62h-5.41zM485.36 174.98h5.41v3.62h-5.41zM96.13 178.59h5.41v3.62h-5.41zM128.57 178.59h5.41v3.62h-5.41zM144.78 178.59h5.41v3.62h-5.41zM161.00 178.59h5.41v3.62h-5.41zM225.87 178.59h5.41v3.62h-5.41zM252.90 178.59h48.65v3.62h-48.65zM317.78 178.59h5.41v3.62h-5.41zM328.59 178.59h5.41v3.62h-5.41zM355.62 178.59h5.41v3.62h-5.41zM479.96 178.59h5.41v3.62h-5.41zM101.54 182.21h5.41v3.62h-5.41zM112.35 182.21h5.41v3.62h-5.41zM161.00 182.21h5.41v3.62h-5.41zM188.03 182.21h5.41v3.62h-5.41zM225.87 182.21h16.22v3.62h-16.22zM258.31 182.21h10.81v3.62h-10.81zM279.93 182.21h10.81v3.62h-10.81zM296.15 182.21h5.41v3.62h-5.41zM328.59 182.21h5.41v3.62h-5.41zM355.62 182.21h5.41v3.62h-5.41zM469.14 182.21h5.41v3.62h-5.41zM96.13 185.83h10.81v3.62h-10.81zM112.35 185.83h5.41v3.62h-5.41zM128.57 185.83h5.41v3.62h-5.41zM144.78 185.83h5.41v3.62h-5.41zM166.41 185.83h5.41v3.62h-5.41zM198.84 185.83h5.41v3.62h-5.41zM225.87 185.83h5.41v3.62h-5.41zM252.90 185.83h10.81v3.62h-10.81zM269.12 185.83h32.44v3.62h-32.44zM144.78 189.44h5.41v3.62h-5.41zM161.00 189.44h16.22v3.62h-16.22zM225.87 189.44h5.41v3.62h-5.41zM263.72 189.44h5.41v3.62h-5.41zM274.53 189.44h27.03v3.62h-27.03zM96.13 193.06h5.41v3.62h-5.41zM128.57 193.06h5.41v3.62h-5.41zM144.78 193.06h5.41v3.62h-5.41zM166.41 193.06h10.81v3.62h-10.81zM225.87 193.06h5.41v3.62h-5.41zM252.90 193.06h5.41v3.62h-5.41zM269.12 193.06h21.62v3.62h-21.62zM296.15 193.06h5.41v3.62h-5.41zM339.40 193.06h5.41v3.62h-5.41zM96.13 196.68h5.41v3.62h-5.41zM117.75 196.68h5.41v3.62h-5.41zM161.00 196.68h10.81v3.62h-10.81zM177.22 196.68h5.41v3.62h-5.41zM209.66 196.68h10.81v3.62h-10.81zM236.69 196.68h5.41v3.62h-5.41zM258.31 196.68h10.81v3.62h-10.81zM274.53 196.68h16.22v3.62h-16.22zM312.37 196.68h5.41v3.62h-5.41zM96.13 200.30h10.81v3.62h-10.81zM123.16 200.30h5.41v3.62h-5.41zM144.78 200.30h5.41v3.62h-5.41zM177.22 200.30h5.41v3.62h-5.41zM252.90 200.30h10.81v3.62h-10.81zM269.12 200.30h5.41v3.62h-5.41zM285.34 200.30h16.22v3.62h-16.22zM312.37 200.30h5.41v3.62h-5.41zM96.13 203.91h10.81v3.62h-10.81zM112.35 203.91h5.41v3.62h-5.41zM161.00 203.91h5.41v3.62h-5.41zM182.63 203.91h5.41v3.62h-5.41zM252.90 203.91h21.62v3.62h-21.62zM279.93 203.91h5.41v3.62h-5.41zM296.15 203.91h27.03v3.62h-27.03zM328.59 203.91h5.41v3.62h-5.41zM355.62 203.91h5.41v3.62h-5.41zM128.57 207.53h5.41v3.62h-5.41zM269.12 207.53h10.81v3.62h-10.81zM285.34 207.53h10.81v3.62h-10.81zM301.56 207.53h21.62v3.62h-21.62zM479.96 207.53h5.41v3.62h-5.41zM106.94 211.15h5.41v3.62h-5.41zM133.97 211.15h5.41v3.62h-5.41zM144.78 211.15h5.41v3.62h-5.41zM161.00 211.15h16.22v3.62h-16.22zM188.03 211.15h5.41v3.62h-5.41zM198.84 211.15h5.41v3.62h-5.41zM236.69 211.15h5.41v3.62h-5.41zM252.90 211.15h10.81v3.62h-10.81zM269.12 211.15h5.41v3.62h-5.41zM106.94 214.76h5.41v3.62h-5.41zM133.97 214.76h5.41v3.62h-5.41zM150.19 214.76h5.41v3.62h-5.41zM171.81 214.76h5.41v3.62h-5.41zM182.63 214.76h5.41v3.62h-5.41zM193.44 214.76h5.41v3.62h-5.41zM236.69 214.76h5.41v3.62h-5.41zM258.31 214.76h21.62v3.62h-21.62zM339.40 214.76h10.81v3.62h-10.81zM479.96 214.76h5.41v3.62h-5.41zM106.94 218.38h5.41v3.62h-5.41zM128.57 218.38h5.41v3.62h-5.41zM171.81 218.38h5.41v3.62h-5.41zM188.03 218.38h5.41v3.62h-5.41zM204.25 218.38h5.41v3.62h-5.41zM258.31 218.38h5.41v3.62h-5.41zM269.12 218.38h16.22v3.62h-16.22zM317.78 218.38h5.41v3.62h-5.41zM328.59 218.38h5.41v3.62h-5.41zM339.40 218.38h5.41v3.62h-5.41zM112.35 222.00h5.41v3.62h-5.41zM133.97 222.00h37.84v3.62h-37.84zM182.63 222.00h16.22v3.62h-16.22zM204.25 222.00h5.41v3.62h-5.41zM225.87 222.00h16.22v3.62h-16.22zM274.53 222.00h10.81v3.62h-10.81zM312.37 222.00h10.81v3.62h-10.81zM328.59 222.00h5.41v3.62h-5.41zM469.14 222.00h5.41v3.62h-5.41zM479.96 222.00h5.41v3.62h-5.41zM112.35 225.61h10.81v3.62h-10.81zM139.38 225.61h21.62v3.62h-21.62zM166.41 225.61h16.22v3.62h-16.22zM231.28 225.61h10.81v3.62h-10.81zM252.90 225.61h5.41v3.62h-5.41zM263.72 225.61h5.41v3.62h-5.41zM279.93 225.61h16.22v3.62h-16.22zM301.56 225.61h5.41v3.62h-5.41zM328.59 225.61h5.41v3.62h-5.41zM469.14 225.61h5.41v3.62h-5.41zM139.38 229.23h5.41v3.62h-5.41zM177.22 229.23h27.03v3.62h-27.03zM225.87 229.23h16.22v3.62h-16.22zM252.90 229.23h48.65v3.62h-48.65zM312.37 229.23h5.41v3.62h-5.41zM323.18 229.23h10.81v3.62h-10.81zM479.96 229.23h5.41v3.62h-5.41zM106.94 232.85h5.41v3.62h-5.41zM139.38 232.85h37.84v3.62h-37.84zM193.44 232.85h10.81v3.62h-10.81zM236.69 232.85h5.41v3.62h-5.41zM269.12 232.85h5.41v3.62h-5.41zM279.93 232.85h21.62v3.62h-21.62zM317.78 232.85h5.41v3.62h-5.41zM328.59 232.85h5.41v3.62h-5.41zM106.94 236.46h10.81v3.62h-10.81zM123.16 236.46h5.41v3.62h-5.41zM139.38 236.46h16.22v3.62h-16.22zM177.22 236.46h27.03v3.62h-27.03zM209.66 236.46h10.81v3.62h-10.81zM231.28 236.46h10.81v3.62h-10.81zM247.50 236.46h54.06v3.62h-54.06zM317.78 236.46h10.81v3.62h-10.81zM339.40 236.46h10.81v3.62h-10.81zM96.13 240.08h10.81v3.62h-10.81zM112.35 240.08h10.81v3.62h-10.81zM139.38 240.08h5.41v3.62h-5.41zM150.19 240.08h27.03v3.62h-27.03zM188.03 240.08h5.41v3.62h-5.41zM198.84 240.08h10.81v3.62h-10.81zM225.87 240.08h16.22v3.62h-16.22zM258.31 240.08h10.81v3.62h-10.81zM274.53 240.08h10.81v3.62h-10.81zM290.75 240.08h16.22v3.62h-16.22zM323.18 240.08h10.81v3.62h-10.81zM112.35 243.70h5.41v3.62h-5.41zM144.78 243.70h10.81v3.62h-10.81zM161.00 243.70h16.22v3.62h-16.22zM188.03 243.70h16.22v3.62h-16.22zM215.06 243.70h5.41v3.62h-5.41zM225.87 243.70h10.81v3.62h-10.81zM247.50 243.70h5.41v3.62h-5.41zM263.72 243.70h5.41v3.62h-5.41zM274.53 243.70h10.81v3.62h-10.81zM290.75 243.70h5.41v3.62h-5.41zM301.56 243.70h5.41v3.62h-5.41zM312.37 243.70h10.81v3.62h-10.81zM333.99 243.70h10.81v3.62h-10.81zM474.55 243.70h5.41v3.62h-5.41zM85.32 247.32h5.41v3.62h-5.41zM106.94 247.32h5.41v3.62h-5.41zM128.57 247.32h5.41v3.62h-5.41zM139.38 247.32h5.41v3.62h-5.41zM155.60 247.32h10.81v3.62h-10.81zM171.81 247.32h10.81v3.62h-10.81zM188.03 247.32h5.41v3.62h-5.41zM225.87 247.32h16.22v3.62h-16.22zM258.31 247.32h5.41v3.62h-5.41zM274.53 247.32h5.41v3.62h-5.41zM285.34 247.32h5.41v3.62h-5.41zM301.56 247.32h10.81v3.62h-10.81zM323.18 247.32h5.41v3.62h-5.41zM474.55 247.32h5.41v3.62h-5.41zM177.22 250.93h5.41v3.62h-5.41zM252.90 250.93h27.03v3.62h-27.03zM290.75 250.93h10.81v3.62h-10.81zM469.14 250.93h5.41v3.62h-5.41zM485.36 250.93h5.41v3.62h-5.41zM96.13 254.55h5.41v3.62h-5.41zM188.03 254.55h5.41v3.62h-5.41zM204.25 254.55h5.41v3.62h-5.41zM252.90 254.55h32.44v3.62h-32.44zM393.46 254.55h5.41v3.62h-5.41zM90.72 258.17h5.41v3.62h-5.41zM177.22 258.17h5.41v3.62h-5.41zM220.47 258.17h5.41v3.62h-5.41zM420.49 258.17h5.41v3.62h-5.41zM144.78 261.78h5.41v3.62h-5.41zM161.00 261.78h5.41v3.62h-5.41zM177.22 261.78h5.41v3.62h-5.41zM220.47 261.78h21.62v3.62h-21.62zM258.31 261.78h32.44v3.62h-32.44zM296.15 261.78h5.41v3.62h-5.41zM415.08 261.78h5.41v3.62h-5.41zM90.72 265.40h5.41v3.62h-5.41zM112.35 265.40h5.41v3.62h-5.41zM177.22 265.40h5.41v3.62h-5.41zM263.72 265.40h16.22v3.62h-16.22zM296.15 265.40h5.41v3.62h-5.41zM312.37 265.40h5.41v3.62h-5.41zM485.36 265.40h5.41v3.62h-5.41zM139.38 269.02h70.28v3.62h-70.28zM317.78 269.02h10.81v3.62h-10.81zM139.38 272.63h5.41v3.62h-5.41zM150.19 272.63h10.81v3.62h-10.81zM177.22 272.63h10.81v3.62h-10.81zM193.44 272.63h10.81v3.62h-10.81zM285.34 272.63h5.41v3.62h-5.41zM306.96 272.63h10.81v3.62h-10.81zM328.59 272.63h5.41v3.62h-5.41zM144.78 276.25h37.84v3.62h-37.84zM193.44 276.25h10.81v3.62h-10.81zM215.06 276.25h5.41v3.62h-5.41zM225.87 276.25h16.22v3.62h-16.22zM252.90 276.25h10.81v3.62h-10.81zM290.75 276.25h10.81v3.62h-10.81zM312.37 276.25h21.62v3.62h-21.62zM161.00 279.87h10.81v3.62h-10.81zM177.22 279.87h10.81v3.62h-10.81zM193.44 279.87h10.81v3.62h-10.81zM220.47 279.87h5.41v3.62h-5.41zM236.69 279.87h5.41v3.62h-5.41zM247.50 279.87h5.41v3.62h-5.41zM269.12 279.87h10.81v3.62h-10.81zM317.78 279.87h21.62v3.62h-21.62zM133.97 283.49h10.81v3.62h-10.81zM155.60 283.49h27.03v3.62h-27.03zM225.87 283.49h10.81v3.62h-10.81zM252.90 283.49h21.62v3.62h-21.62zM296.15 283.49h5.41v3.62h-5.41zM312.37 283.49h5.41v3.62h-5.41zM323.18 283.49h5.41v3.62h-5.41zM144.78 287.10h5.41v3.62h-5.41zM155.60 287.10h5.41v3.62h-5.41zM171.81 287.10h10.81v3.62h-10.81zM188.03 287.10h10.81v3.62h-10.81zM225.87 287.10h16.22v3.62h-16.22zM247.50 287.10h10.81v3.62h-10.81zM263.72 287.10h5.41v3.62h-5.41zM285.34 287.10h10.81v3.62h-10.81zM306.96 287.10h10.81v3.62h-10.81zM323.18 287.10h5.41v3.62h-5.41zM333.99 287.10h5.41v3.62h-5.41zM96.13 290.72h5.41v3.62h-5.41zM128.57 290.72h37.84v3.62h-37.84zM171.81 290.72h5.41v3.62h-5.41zM225.87 290.72h5.41v3.62h-5.41zM247.50 290.72h5.41v3.62h-5.41zM269.12 290.72h5.41v3.62h-5.41zM323.18 290.72h10.81v3.62h-10.81zM133.97 294.34h5.41v3.62h-5.41zM150.19 294.34h21.62v3.62h-21.62zM177.22 294.34h5.41v3.62h-5.41zM193.44 294.34h10.81v3.62h-10.81zM215.06 294.34h5.41v3.62h-5.41zM225.87 294.34h16.22v3.62h-16.22zM247.50 294.34h5.41v3.62h-5.41zM258.31 294.34h5.41v3.62h-5.41zM269.12 294.34h10.81v3.62h-10.81zM290.75 294.34h5.41v3.62h-5.41zM306.96 294.34h5.41v3.62h-5.41zM388.05 294.34h5.41v3.62h-5.41zM128.57 297.95h70.28v3.62h-70.28zM220.47 297.95h43.25v3.62h-43.25zM269.12 297.95h32.44v3.62h-32.44zM306.96 297.95h27.03v3.62h-27.03zM382.65 297.95h5.41v3.62h-5.41zM393.46 297.95h5.41v3.62h-5.41zM415.08 297.95h5.41v3.62h-5.41zM474.55 297.95h5.41v3.62h-5.41zM133.97 301.57h5.41v3.62h-5.41zM258.31 301.57h5.41v3.62h-5.41zM269.12 301.57h5.41v3.62h-5.41zM279.93 301.57h21.62v3.62h-21.62zM312.37 301.57h5.41v3.62h-5.41zM339.40 301.57h10.81v3.62h-10.81zM382.65 301.57h5.41v3.62h-5.41zM393.46 301.57h5.41v3.62h-5.41zM469.14 301.57h10.81v3.62h-10.81zM106.94 305.19h5.41v3.62h-5.41zM128.57 305.19h5.41v3.62h-5.41zM139.38 305.19h5.41v3.62h-5.41zM150.19 305.19h5.41v3.62h-5.41zM161.00 305.19h5.41v3.62h-5.41zM171.81 305.19h27.03v3.62h-27.03zM209.66 305.19h16.22v3.62h-16.22zM236.69 305.19h10.81v3.62h-10.81zM252.90 305.19h27.03v3.62h-27.03zM296.15 305.19h5.41v3.62h-5.41zM306.96 305.19h5.41v3.62h-5.41zM323.18 305.19h16.22v3.62h-16.22zM344.81 305.19h10.81v3.62h-10.81zM361.02 305.19h5.41v3.62h-5.41zM79.91 308.81h5.41v3.62h-5.41zM150.19 308.81h5.41v3.62h-5.41zM166.41 308.81h5.41v3.62h-5.41zM188.03 308.81h16.22v3.62h-16.22zM215.06 308.81h5.41v3.62h-5.41zM225.87 308.81h21.62v3.62h-21.62zM258.31 308.81h32.44v3.62h-32.44zM301.56 308.81h5.41v3.62h-5.41zM312.37 308.81h5.41v3.62h-5.41zM328.59 308.81h16.22v3.62h-16.22zM350.21 308.81h5.41v3.62h-5.41zM474.55 308.81h5.41v3.62h-5.41zM117.75 312.42h5.41v3.62h-5.41zM150.19 312.42h16.22v3.62h-16.22zM171.81 312.42h5.41v3.62h-5.41zM182.63 312.42h5.41v3.62h-5.41zM198.84 312.42h10.81v3.62h-10.81zM247.50 312.42h16.22v3.62h-16.22zM269.12 312.42h10.81v3.62h-10.81zM301.56 312.42h5.41v3.62h-5.41zM317.78 312.42h5.41v3.62h-5.41zM328.59 312.42h10.81v3.62h-10.81zM344.81 312.42h5.41v3.62h-5.41zM474.55 312.42h5.41v3.62h-5.41zM96.13 316.04h10.81v3.62h-10.81zM133.97 316.04h5.41v3.62h-5.41zM144.78 316.04h5.41v3.62h-5.41zM166.41 316.04h5.41v3.62h-5.41zM188.03 316.04h5.41v3.62h-5.41zM198.84 316.04h5.41v3.62h-5.41zM209.66 316.04h5.41v3.62h-5.41zM225.87 316.04h5.41v3.62h-5.41zM236.69 316.04h16.22v3.62h-16.22zM274.53 316.04h43.25v3.62h-43.25zM323.18 316.04h10.81v3.62h-10.81zM469.14 316.04h10.81v3.62h-10.81zM128.57 319.66h5.41v3.62h-5.41zM144.78 319.66h5.41v3.62h-5.41zM188.03 319.66h5.41v3.62h-5.41zM198.84 319.66h5.41v3.62h-5.41zM420.49 319.66h5.41v3.62h-5.41zM469.14 319.66h16.22v3.62h-16.22zM128.57 323.27h5.41v3.62h-5.41zM139.38 323.27h5.41v3.62h-5.41zM150.19 323.27h10.81v3.62h-10.81zM166.41 323.27h16.22v3.62h-16.22zM247.50 323.27h5.41v3.62h-5.41zM269.12 323.27h5.41v3.62h-5.41zM279.93 323.27h10.81v3.62h-10.81zM296.15 323.27h10.81v3.62h-10.81zM382.65 323.27h5.41v3.62h-5.41zM398.87 323.27h21.62v3.62h-21.62zM479.96 323.27h10.81v3.62h-10.81zM69.10 326.89h5.41v3.62h-5.41zM106.94 326.89h5.41v3.62h-5.41zM123.16 326.89h10.81v3.62h-10.81zM144.78 326.89h5.41v3.62h-5.41zM177.22 326.89h27.03v3.62h-27.03zM215.06 326.89h5.41v3.62h-5.41zM225.87 326.89h21.62v3.62h-21.62zM252.90 326.89h32.44v3.62h-32.44zM296.15 326.89h16.22v3.62h-16.22zM317.78 326.89h5.41v3.62h-5.41zM328.59 326.89h5.41v3.62h-5.41zM339.40 326.89h10.81v3.62h-10.81zM393.46 326.89h27.03v3.62h-27.03zM469.14 326.89h5.41v3.62h-5.41zM85.32 330.51h10.81v3.62h-10.81zM204.25 330.51h5.41v3.62h-5.41zM215.06 330.51h5.41v3.62h-5.41zM269.12 330.51h5.41v3.62h-5.41zM285.34 330.51h16.22v3.62h-16.22zM333.99 330.51h5.41v3.62h-5.41zM393.46 330.51h5.41v3.62h-5.41zM79.91 334.12h10.81v3.62h-10.81zM101.54 334.12h5.41v3.62h-5.41zM128.57 334.12h5.41v3.62h-5.41zM209.66 334.12h5.41v3.62h-5.41zM220.47 334.12h5.41v3.62h-5.41zM247.50 334.12h5.41v3.62h-5.41zM269.12 334.12h21.62v3.62h-21.62zM296.15 334.12h5.41v3.62h-5.41zM333.99 334.12h5.41v3.62h-5.41zM355.62 334.12h10.81v3.62h-10.81zM485.36 334.12h5.41v3.62h-5.41zM85.32 337.74h5.41v3.62h-5.41zM112.35 337.74h10.81v3.62h-10.81zM128.57 337.74h5.41v3.62h-5.41zM144.78 337.74h5.41v3.62h-5.41zM220.47 337.74h10.81v3.62h-10.81zM258.31 337.74h21.62v3.62h-21.62zM290.75 337.74h5.41v3.62h-5.41zM301.56 337.74h5.41v3.62h-5.41zM344.81 337.74h5.41v3.62h-5.41zM361.02 337.74h5.41v3.62h-5.41zM69.10 341.36h5.41v3.62h-5.41zM79.91 341.36h16.22v3.62h-16.22zM128.57 341.36h5.41v3.62h-5.41zM150.19 341.36h5.41v3.62h-5.41zM161.00 341.36h5.41v3.62h-5.41zM177.22 341.36h10.81v3.62h-10.81zM193.44 341.36h16.22v3.62h-16.22zM215.06 341.36h5.41v3.62h-5.41zM225.87 341.36h5.41v3.62h-5.41zM242.09 341.36h10.81v3.62h-10.81zM258.31 341.36h5.41v3.62h-5.41zM274.53 341.36h5.41v3.62h-5.41zM285.34 341.36h5.41v3.62h-5.41zM301.56 341.36h5.41v3.62h-5.41zM328.59 341.36h5.41v3.62h-5.41zM339.40 341.36h5.41v3.62h-5.41zM361.02 341.36h5.41v3.62h-5.41zM382.65 341.36h10.81v3.62h-10.81zM431.30 341.36h5.41v3.62h-5.41zM474.55 341.36h5.41v3.62h-5.41zM128.57 344.97h5.41v3.62h-5.41zM139.38 344.97h16.22v3.62h-16.22zM161.00 344.97h5.41v3.62h-5.41zM171.81 344.97h10.81v3.62h-10.81zM198.84 344.97h16.22v3.62h-16.22zM225.87 344.97h16.22v3.62h-16.22zM263.72 344.97h16.22v3.62h-16.22zM285.34 344.97h5.41v3.62h-5.41zM301.56 344.97h5.41v3.62h-5.41zM398.87 344.97h5.41v3.62h-5.41zM409.68 344.97h5.41v3.62h-5.41zM420.49 344.97h5.41v3.62h-5.41zM436.71 344.97h16.22v3.62h-16.22zM474.55 344.97h5.41v3.62h-5.41zM128.57 348.59h5.41v3.62h-5.41zM144.78 348.59h16.22v3.62h-16.22zM166.41 348.59h5.41v3.62h-5.41zM177.22 348.59h27.03v3.62h-27.03zM215.06 348.59h5.41v3.62h-5.41zM225.87 348.59h5.41v3.62h-5.41zM236.69 348.59h16.22v3.62h-16.22zM258.31 348.59h5.41v3.62h-5.41zM269.12 348.59h32.44v3.62h-32.44zM306.96 348.59h5.41v3.62h-5.41zM350.21 348.59h16.22v3.62h-16.22zM393.46 348.59h16.22v3.62h-16.22zM415.08 348.59h5.41v3.62h-5.41zM425.90 348.59h21.62v3.62h-21.62zM452.93 348.59h5.41v3.62h-5.41zM469.14 348.59h5.41v3.62h-5.41zM479.96 348.59h5.41v3.62h-5.41zM128.57 352.21h5.41v3.62h-5.41zM139.38 352.21h5.41v3.62h-5.41zM155.60 352.21h5.41v3.62h-5.41zM166.41 352.21h10.81v3.62h-10.81zM182.63 352.21h5.41v3.62h-5.41zM198.84 352.21h10.81v3.62h-10.81zM225.87 352.21h5.41v3.62h-5.41zM247.50 352.21h5.41v3.62h-5.41zM258.31 352.21h10.81v3.62h-10.81zM274.53 352.21h10.81v3.62h-10.81zM290.75 352.21h10.81v3.62h-10.81zM306.96 352.21h5.41v3.62h-5.41zM393.46 352.21h32.44v3.62h-32.44zM431.30 352.21h10.81v3.62h-10.81zM447.52 352.21h5.41v3.62h-5.41zM458.33 352.21h10.81v3.62h-10.81zM474.55 352.21h10.81v3.62h-10.81zM128.57 355.83h10.81v3.62h-10.81zM144.78 355.83h10.81v3.62h-10.81zM161.00 355.83h27.03v3.62h-27.03zM193.44 355.83h10.81v3.62h-10.81zM209.66 355.83h16.22v3.62h-16.22zM247.50 355.83h5.41v3.62h-5.41zM258.31 355.83h27.03v3.62h-27.03zM296.15 355.83h16.22v3.62h-16.22zM317.78 355.83h5.41v3.62h-5.41zM350.21 355.83h16.22v3.62h-16.22zM409.68 355.83h5.41v3.62h-5.41zM425.90 355.83h10.81v3.62h-10.81zM447.52 355.83h5.41v3.62h-5.41zM458.33 355.83h10.81v3.62h-10.81zM474.55 355.83h10.81v3.62h-10.81zM177.22 359.44h10.81v3.62h-10.81zM193.44 359.44h5.41v3.62h-5.41zM204.25 359.44h10.81v3.62h-10.81zM225.87 359.44h16.22v3.62h-16.22zM252.90 359.44h5.41v3.62h-5.41zM269.12 359.44h10.81v3.62h-10.81zM296.15 359.44h10.81v3.62h-10.81zM312.37 359.44h5.41v3.62h-5.41zM323.18 359.44h10.81v3.62h-10.81zM442.11 359.44h5.41v3.62h-5.41zM458.33 359.44h5.41v3.62h-5.41zM133.97 363.06h5.41v3.62h-5.41zM171.81 363.06h16.22v3.62h-16.22zM236.69 363.06h5.41v3.62h-5.41zM269.12 363.06h5.41v3.62h-5.41zM285.34 363.06h5.41v3.62h-5.41zM301.56 363.06h5.41v3.62h-5.41zM344.81 363.06h5.41v3.62h-5.41zM388.05 363.06h5.41v3.62h-5.41zM128.57 366.68h5.41v3.62h-5.41zM139.38 366.68h5.41v3.62h-5.41zM150.19 366.68h16.22v3.62h-16.22zM171.81 366.68h10.81v3.62h-10.81zM274.53 366.68h10.81v3.62h-10.81zM290.75 366.68h5.41v3.62h-5.41zM301.56 366.68h16.22v3.62h-16.22zM323.18 366.68h10.81v3.62h-10.81zM339.40 366.68h5.41v3.62h-5.41zM436.71 366.68h5.41v3.62h-5.41zM447.52 366.68h5.41v3.62h-5.41zM458.33 366.68h5.41v3.62h-5.41z"/>
<path fill="#e5e4fa" d="M101.54 73.70h5.41v3.62h-5.41zM328.59 73.70h5.41v3.62h-5.41zM485.36 182.21h5.41v3.62h-5.41zM285.34 366.68h5.41v3.62h-5.41zM296.15 366.68h5.41v3.62h-5.41z"/>
<path fill="#eae8fa" d="M112.35 73.70h5.41v3.62h-5.41zM333.99 73.70h5.41v3.62h-5.41zM366.43 73.70h5.41v3.62h-5.41zM69.10 88.17h5.41v3.62h-5.41zM485.36 185.83h5.41v3.62h-5.41z"/>
<path fill="#ff7878" d="M139.38 73.70h37.84v3.62h-37.84zM225.87 73.70h37.84v3.62h-37.84zM285.34 73.70h16.22v3.62h-16.22zM133.97 77.32h43.25v3.62h-43.25zM231.28 77.32h5.41v3.62h-5.41zM247.50 77.32h5.41v3.62h-5.41zM258.31 77.32h5.41v3.62h-5.41zM279.93 77.32h21.62v3.62h-21.62zM398.87 77.32h5.41v3.62h-5.41zM409.68 77.32h5.41v3.62h-5.41zM161.00 80.93h10.81v3.62h-10.81zM177.22 80.93h5.41v3.62h-5.41zM209.66 80.93h5.41v3.62h-5.41zM220.47 80.93h5.41v3.62h-5.41zM258.31 80.93h5.41v3.62h-5.41zM431.30 80.93h5.41v3.62h-5.41zM139.38 84.55h5.41v3.62h-5.41zM231.28 88.17h5.41v3.62h-5.41zM317.78 88.17h5.41v3.62h-5.41zM393.46 88.17h5.41v3.62h-5.41zM139.38 91.78h5.41v3.62h-5.41zM155.60 91.78h21.62v3.62h-21.62zM188.03 91.78h10.81v3.62h-10.81zM231.28 91.78h5.41v3.62h-5.41zM247.50 91.78h5.41v3.62h-5.41zM274.53 91.78h16.22v3.62h-16.22zM328.59 91.78h5.41v3.62h-5.41zM339.40 91.78h5.41v3.62h-5.41zM404.27 91.78h10.81v3.62h-10.81zM90.72 95.40h16.22v3.62h-16.22zM301.56 95.40h27.03v3.62h-27.03zM85.32 99.02h10.81v3.62h-10.81zM112.35 99.02h10.81v3.62h-10.81zM79.91 102.64h5.41v3.62h-5.41zM382.65 102.64h10.81v3.62h-10.81zM452.93 102.64h16.22v3.62h-16.22zM74.51 106.25h10.81v3.62h-10.81zM350.21 106.25h5.41v3.62h-5.41zM398.87 106.25h16.22v3.62h-16.22zM452.93 106.25h10.81v3.62h-10.81zM69.10 109.87h5.41v3.62h-5.41zM398.87 109.87h5.41v3.62h-5.41zM458.33 109.87h5.41v3.62h-5.41zM69.10 113.49h16.22v3.62h-16.22zM388.05 113.49h5.41v3.62h-5.41zM404.27 113.49h5.41v3.62h-5.41zM452.93 113.49h5.41v3.62h-5.41zM69.10 117.10h5.41v3.62h-5.41zM79.91 117.10h5.41v3.62h-5.41zM90.72 117.10h5.41v3.62h-5.41zM117.75 117.10h5.41v3.62h-5.41zM398.87 117.10h5.41v3.62h-5.41zM409.68 117.10h5.41v3.62h-5.41zM452.93 117.10h16.22v3.62h-16.22zM74.51 120.72h5.41v3.62h-5.41zM398.87 120.72h5.41v3.62h-5.41zM452.93 120.72h10.81v3.62h-10.81zM74.51 124.34h10.81v3.62h-10.81zM382.65 124.34h5.41v3.62h-5.41zM398.87 124.34h16.22v3.62h-16.22zM452.93 124.34h10.81v3.62h-10.81zM79.91 127.96h5.41v3.62h-5.41zM398.87 127.96h5.41v3.62h-5.41zM409.68 127.96h5.41v3.62h-5.41zM458.33 127.96h5.41v3.62h-5.41zM382.65 131.57h5.41v3.62h-5.41zM398.87 131.57h10.81v3.62h-10.81zM452.93 131.57h10.81v3.62h-10.81zM101.54 135.19h5.41v3.62h-5.41zM117.75 135.19h5.41v3.62h-5.41zM452.93 135.19h5.41v3.62h-5.41zM69.10 138.81h5.41v3.62h-5.41zM101.54 138.81h5.41v3.62h-5.41zM388.05 138.81h5.41v3.62h-5.41zM404.27 138.81h5.41v3.62h-5.41zM452.93 138.81h10.81v3.62h-10.81zM69.10 142.42h5.41v3.62h-5.41zM90.72 142.42h5.41v3.62h-5.41zM388.05 142.42h5.41v3.62h-5.41zM398.87 142.42h5.41v3.62h-5.41zM452.93 142.42h5.41v3.62h-5.41zM79.91 146.04h5.41v3.62h-5.41zM398.87 146.04h10.81v3.62h-10.81zM452.93 146.04h10.81v3.62h-10.81zM69.10 149.66h5.41v3.62h-5.41zM85.32 149.66h10.81v3.62h-10.81zM398.87 149.66h10.81v3.62h-10.81zM452.93 149.66h10.81v3.62h-10.81zM85.32 153.27h10.81v3.62h-10.81zM117.75 153.27h5.41v3.62h-5.41zM398.87 153.27h5.41v3.62h-5.41zM409.68 153.27h5.41v3.62h-5.41zM452.93 153.27h10.81v3.62h-10.81zM452.93 156.89h10.81v3.62h-10.81zM74.51 160.51h5.41v3.62h-5.41zM133.97 160.51h5.41v3.62h-5.41zM350.21 160.51h5.41v3.62h-5.41zM382.65 160.51h5.41v3.62h-5.41zM74.51 164.12h10.81v3.62h-10.81zM398.87 164.12h10.81v3.62h-10.81zM69.10 167.74h10.81v3.62h-10.81zM398.87 167.74h5.41v3.62h-5.41zM452.93 167.74h5.41v3.62h-5.41zM69.10 171.36h16.22v3.62h-16.22zM133.97 171.36h10.81v3.62h-10.81zM404.27 171.36h5.41v3.62h-5.41zM431.30 171.36h10.81v3.62h-10.81zM458.33 171.36h5.41v3.62h-5.41zM398.87 174.98h5.41v3.62h-5.41zM452.93 174.98h5.41v3.62h-5.41zM350.21 178.59h5.41v3.62h-5.41zM377.24 178.59h5.41v3.62h-5.41zM398.87 178.59h5.41v3.62h-5.41zM415.08 178.59h5.41v3.62h-5.41zM404.27 182.21h5.41v3.62h-5.41zM415.08 182.21h5.41v3.62h-5.41zM69.10 185.83h16.22v3.62h-16.22zM398.87 185.83h5.41v3.62h-5.41zM409.68 185.83h10.81v3.62h-10.81zM452.93 185.83h5.41v3.62h-5.41zM69.10 189.44h5.41v3.62h-5.41zM79.91 189.44h10.81v3.62h-10.81zM333.99 189.44h5.41v3.62h-5.41zM350.21 189.44h5.41v3.62h-5.41zM393.46 189.44h21.62v3.62h-21.62zM420.49 189.44h5.41v3.62h-5.41zM69.10 193.06h10.81v3.62h-10.81zM404.27 193.06h10.81v3.62h-10.81zM69.10 196.68h16.22v3.62h-16.22zM393.46 196.68h32.44v3.62h-32.44zM79.91 200.30h10.81v3.62h-10.81zM393.46 200.30h21.62v3.62h-21.62zM69.10 203.91h21.62v3.62h-21.62zM350.21 203.91h5.41v3.62h-5.41zM409.68 203.91h5.41v3.62h-5.41zM398.87 207.53h5.41v3.62h-5.41zM409.68 207.53h5.41v3.62h-5.41zM425.90 207.53h5.41v3.62h-5.41zM69.10 211.15h5.41v3.62h-5.41zM79.91 211.15h5.41v3.62h-5.41zM90.72 211.15h5.41v3.62h-5.41zM117.75 211.15h5.41v3.62h-5.41zM382.65 211.15h10.81v3.62h-10.81zM398.87 211.15h5.41v3.62h-5.41zM409.68 211.15h10.81v3.62h-10.81zM436.71 211.15h5.41v3.62h-5.41zM447.52 211.15h5.41v3.62h-5.41zM458.33 211.15h5.41v3.62h-5.41zM74.51 214.76h5.41v3.62h-5.41zM90.72 214.76h5.41v3.62h-5.41zM350.21 214.76h5.41v3.62h-5.41zM382.65 214.76h5.41v3.62h-5.41zM398.87 214.76h21.62v3.62h-21.62zM436.71 214.76h5.41v3.62h-5.41zM458.33 214.76h5.41v3.62h-5.41zM69.10 218.38h5.41v3.62h-5.41zM90.72 218.38h5.41v3.62h-5.41zM382.65 218.38h5.41v3.62h-5.41zM398.87 218.38h5.41v3.62h-5.41zM409.68 218.38h5.41v3.62h-5.41zM436.71 218.38h5.41v3.62h-5.41zM452.93 218.38h5.41v3.62h-5.41zM69.10 222.00h5.41v3.62h-5.41zM85.32 222.00h10.81v3.62h-10.81zM350.21 222.00h5.41v3.62h-5.41zM404.27 222.00h10.81v3.62h-10.81zM431.30 222.00h5.41v3.62h-5.41zM458.33 222.00h5.41v3.62h-5.41zM74.51 225.61h5.41v3.62h-5.41zM85.32 225.61h5.41v3.62h-5.41zM350.21 225.61h5.41v3.62h-5.41zM398.87 225.61h16.22v3.62h-16.22zM458.33 225.61h5.41v3.62h-5.41zM355.62 229.23h5.41v3.62h-5.41zM404.27 229.23h10.81v3.62h-10.81zM452.93 229.23h5.41v3.62h-5.41zM85.32 232.85h5.41v3.62h-5.41zM350.21 232.85h5.41v3.62h-5.41zM361.02 232.85h5.41v3.62h-5.41zM382.65 232.85h32.44v3.62h-32.44zM425.90 232.85h5.41v3.62h-5.41zM74.51 236.46h5.41v3.62h-5.41zM85.32 236.46h10.81v3.62h-10.81zM398.87 236.46h5.41v3.62h-5.41zM409.68 236.46h10.81v3.62h-10.81zM350.21 240.08h5.41v3.62h-5.41zM398.87 240.08h16.22v3.62h-16.22zM420.49 240.08h10.81v3.62h-10.81zM436.71 240.08h5.41v3.62h-5.41zM85.32 243.70h5.41v3.62h-5.41zM382.65 243.70h5.41v3.62h-5.41zM404.27 243.70h5.41v3.62h-5.41zM436.71 243.70h5.41v3.62h-5.41zM452.93 243.70h5.41v3.62h-5.41zM69.10 247.32h10.81v3.62h-10.81zM117.75 247.32h5.41v3.62h-5.41zM382.65 247.32h21.62v3.62h-21.62zM415.08 247.32h5.41v3.62h-5.41zM436.71 247.32h5.41v3.62h-5.41zM447.52 247.32h5.41v3.62h-5.41zM458.33 247.32h5.41v3.62h-5.41zM139.38 250.93h5.41v3.62h-5.41zM150.19 250.93h5.41v3.62h-5.41zM350.21 250.93h5.41v3.62h-5.41zM382.65 250.93h5.41v3.62h-5.41zM409.68 250.93h5.41v3.62h-5.41zM425.90 250.93h5.41v3.62h-5.41zM74.51 254.55h5.41v3.62h-5.41zM350.21 254.55h5.41v3.62h-5.41zM398.87 254.55h10.81v3.62h-10.81zM415.08 254.55h5.41v3.62h-5.41zM436.71 254.55h5.41v3.62h-5.41zM458.33 254.55h5.41v3.62h-5.41zM479.96 254.55h5.41v3.62h-5.41zM79.91 258.17h5.41v3.62h-5.41zM144.78 258.17h32.44v3.62h-32.44zM382.65 258.17h10.81v3.62h-10.81zM398.87 258.17h5.41v3.62h-5.41zM447.52 258.17h5.41v3.62h-5.41zM117.75 261.78h5.41v3.62h-5.41zM339.40 261.78h5.41v3.62h-5.41zM350.21 261.78h10.81v3.62h-10.81zM382.65 261.78h5.41v3.62h-5.41zM409.68 261.78h5.41v3.62h-5.41zM69.10 265.40h5.41v3.62h-5.41zM339.40 265.40h5.41v3.62h-5.41zM350.21 265.40h5.41v3.62h-5.41zM361.02 265.40h5.41v3.62h-5.41zM398.87 265.40h10.81v3.62h-10.81zM420.49 265.40h32.44v3.62h-32.44zM458.33 265.40h10.81v3.62h-10.81zM350.21 269.02h10.81v3.62h-10.81zM404.27 269.02h10.81v3.62h-10.81zM425.90 269.02h43.25v3.62h-43.25zM85.32 272.63h10.81v3.62h-10.81zM117.75 272.63h5.41v3.62h-5.41zM355.62 272.63h10.81v3.62h-10.81zM388.05 272.63h5.41v3.62h-5.41zM398.87 272.63h43.25v3.62h-43.25zM452.93 272.63h21.62v3.62h-21.62zM479.96 272.63h10.81v3.62h-10.81zM96.13 276.25h10.81v3.62h-10.81zM355.62 276.25h5.41v3.62h-5.41zM382.65 276.25h5.41v3.62h-5.41zM393.46 276.25h21.62v3.62h-21.62zM420.49 276.25h48.65v3.62h-48.65zM485.36 276.25h5.41v3.62h-5.41zM79.91 279.87h16.22v3.62h-16.22zM350.21 279.87h10.81v3.62h-10.81zM398.87 279.87h16.22v3.62h-16.22zM420.49 279.87h32.44v3.62h-32.44zM458.33 279.87h10.81v3.62h-10.81zM479.96 279.87h5.41v3.62h-5.41zM90.72 283.49h16.22v3.62h-16.22zM123.16 283.49h5.41v3.62h-5.41zM350.21 283.49h5.41v3.62h-5.41zM425.90 283.49h10.81v3.62h-10.81zM452.93 283.49h21.62v3.62h-21.62zM96.13 287.10h5.41v3.62h-5.41zM106.94 287.10h5.41v3.62h-5.41zM123.16 287.10h5.41v3.62h-5.41zM339.40 287.10h5.41v3.62h-5.41zM431.30 287.10h16.22v3.62h-16.22zM463.74 287.10h5.41v3.62h-5.41zM106.94 290.72h5.41v3.62h-5.41zM117.75 290.72h5.41v3.62h-5.41zM333.99 290.72h5.41v3.62h-5.41zM344.81 290.72h5.41v3.62h-5.41zM382.65 290.72h10.81v3.62h-10.81zM404.27 290.72h5.41v3.62h-5.41zM420.49 290.72h5.41v3.62h-5.41zM485.36 290.72h5.41v3.62h-5.41zM90.72 294.34h5.41v3.62h-5.41zM112.35 294.34h5.41v3.62h-5.41zM339.40 294.34h5.41v3.62h-5.41zM350.21 294.34h5.41v3.62h-5.41zM409.68 294.34h5.41v3.62h-5.41zM436.71 294.34h10.81v3.62h-10.81zM123.16 297.95h5.41v3.62h-5.41zM350.21 297.95h5.41v3.62h-5.41zM74.51 301.57h5.41v3.62h-5.41zM442.11 301.57h5.41v3.62h-5.41zM74.51 305.19h10.81v3.62h-10.81zM409.68 305.19h5.41v3.62h-5.41zM425.90 305.19h5.41v3.62h-5.41zM85.32 308.81h5.41v3.62h-5.41zM112.35 308.81h5.41v3.62h-5.41zM431.30 308.81h10.81v3.62h-10.81zM447.52 308.81h16.22v3.62h-16.22zM485.36 308.81h5.41v3.62h-5.41zM90.72 312.42h10.81v3.62h-10.81zM220.47 312.42h10.81v3.62h-10.81zM431.30 312.42h5.41v3.62h-5.41zM447.52 312.42h5.41v3.62h-5.41zM463.74 312.42h5.41v3.62h-5.41zM69.10 316.04h5.41v3.62h-5.41zM112.35 316.04h5.41v3.62h-5.41zM366.43 316.04h10.81v3.62h-10.81zM393.46 316.04h5.41v3.62h-5.41zM404.27 316.04h5.41v3.62h-5.41zM431.30 316.04h5.41v3.62h-5.41zM96.13 319.66h5.41v3.62h-5.41zM123.16 319.66h5.41v3.62h-5.41zM150.19 319.66h10.81v3.62h-10.81zM177.22 319.66h5.41v3.62h-5.41zM355.62 319.66h27.03v3.62h-27.03zM388.05 319.66h5.41v3.62h-5.41zM404.27 319.66h10.81v3.62h-10.81zM431.30 319.66h10.81v3.62h-10.81zM90.72 323.27h5.41v3.62h-5.41zM112.35 323.27h5.41v3.62h-5.41zM123.16 323.27h5.41v3.62h-5.41zM366.43 323.27h16.22v3.62h-16.22zM420.49 326.89h5.41v3.62h-5.41zM431.30 326.89h5.41v3.62h-5.41zM442.11 326.89h10.81v3.62h-10.81zM133.97 330.51h10.81v3.62h-10.81zM150.19 330.51h10.81v3.62h-10.81zM171.81 330.51h5.41v3.62h-5.41zM231.28 330.51h10.81v3.62h-10.81zM404.27 330.51h5.41v3.62h-5.41zM420.49 330.51h5.41v3.62h-5.41zM431.30 330.51h5.41v3.62h-5.41zM442.11 330.51h16.22v3.62h-16.22zM463.74 330.51h5.41v3.62h-5.41zM155.60 334.12h5.41v3.62h-5.41zM225.87 334.12h5.41v3.62h-5.41zM236.69 334.12h5.41v3.62h-5.41zM252.90 334.12h5.41v3.62h-5.41zM366.43 334.12h16.22v3.62h-16.22zM398.87 334.12h16.22v3.62h-16.22zM431.30 334.12h5.41v3.62h-5.41zM442.11 334.12h16.22v3.62h-16.22zM463.74 334.12h5.41v3.62h-5.41zM74.51 337.74h5.41v3.62h-5.41zM96.13 337.74h5.41v3.62h-5.41zM252.90 337.74h5.41v3.62h-5.41zM425.90 337.74h16.22v3.62h-16.22zM409.68 341.36h5.41v3.62h-5.41zM469.14 341.36h5.41v3.62h-5.41zM117.75 344.97h5.41v3.62h-5.41zM366.43 344.97h21.62v3.62h-21.62zM69.10 352.21h5.41v3.62h-5.41zM96.13 359.44h27.03v3.62h-27.03zM366.43 359.44h5.41v3.62h-5.41zM377.24 359.44h10.81v3.62h-10.81zM393.46 359.44h5.41v3.62h-5.41zM420.49 359.44h5.41v3.62h-5.41zM485.36 359.44h5.41v3.62h-5.41zM106.94 363.06h5.41v3.62h-5.41zM442.11 363.06h5.41v3.62h-5.41zM106.94 366.68h5.41v3.62h-5.41zM469.14 366.68h10.81v3.62h-10.81z"/>
<path fill="#d5d5fb" d="M209.66 73.70h5.41v3.62h-5.41zM350.21 73.70h5.41v3.62h-5.41zM479.96 73.70h5.41v3.62h-5.41zM485.36 211.15h5.41v3.62h-5.41zM252.90 366.68h10.81v3.62h-10.81zM269.12 366.68h5.41v3.62h-5.41z"/>
<path fill="#f8dce1" d="M274.53 73.70h5.41v3.62h-5.41zM236.69 88.17h5.41v3.62h-5.41zM393.46 91.78h5.41v3.62h-5.41zM231.28 102.64h5.41v3.62h-5.41zM85.32 109.87h5.41v3.62h-5.41zM393.46 131.57h5.41v3.62h-5.41zM96.13 138.81h5.41v3.62h-5.41zM96.13 146.04h5.41v3.62h-5.41zM96.13 149.66h5.41v3.62h-5.41zM96.13 214.76h5.41v3.62h-5.41zM355.62 222.00h5.41v3.62h-5.41zM355.62 236.46h5.41v3.62h-5.41zM361.02 254.55h5.41v3.62h-5.41zM344.81 269.02h5.41v3.62h-5.41zM393.46 269.02h5.41v3.62h-5.41zM485.36 269.02h5.41v3.62h-5.41zM106.94 279.87h5.41v3.62h-5.41zM388.05 283.49h5.41v3.62h-5.41zM479.96 287.10h5.41v3.62h-5.41zM404.27 301.57h5.41v3.62h-5.41zM452.93 319.66h5.41v3.62h-5.41zM447.52 323.27h5.41v3.62h-5.41zM382.65 337.74h5.41v3.62h-5.41zM377.24 355.83h5.41v3.62h-5.41z"/>
<path fill="#f6eef5" d="M306.96 73.70h5.41v3.62h-5.41zM377.24 73.70h5.41v3.62h-5.41zM442.11 73.70h5.41v3.62h-5.41zM485.36 189.44h5.41v3.62h-5.41zM485.36 193.06h5.41v3.62h-5.41zM485.36 196.68h5.41v3.62h-5.41zM485.36 200.30h5.41v3.62h-5.41zM485.36 229.23h5.41v3.62h-5.41zM485.36 254.55h5.41v3.62h-5.41zM388.05 366.68h5.41v3.62h-5.41zM398.87 366.68h5.41v3.62h-5.41zM420.49 366.68h5.41v3.62h-5.41z"/>
<path fill="#c5c7fb" d="M312.37 73.70h5.41v3.62h-5.41zM485.36 102.64h5.41v3.62h-5.41zM485.36 149.66h5.41v3.62h-5.41z"/>
<path fill="#c0c2fb" d="M323.18 73.70h5.41v3.62h-5.41zM339.40 84.55h5.41v3.62h-5.41zM361.02 91.78h5.41v3.62h-5.41zM458.33 95.40h5.41v3.62h-5.41zM485.36 160.51h5.41v3.62h-5.41zM317.78 174.98h5.41v3.62h-5.41zM312.37 182.21h5.41v3.62h-5.41zM117.75 189.44h5.41v3.62h-5.41zM317.78 214.76h5.41v3.62h-5.41zM209.66 243.70h5.41v3.62h-5.41zM123.16 337.74h5.41v3.62h-5.41zM312.37 341.36h5.41v3.62h-5.41zM225.87 366.68h5.41v3.62h-5.41z"/>
<path fill="#e0dffb" d="M339.40 73.70h5.41v3.62h-5.41zM485.36 207.53h5.41v3.62h-5.41zM485.36 214.76h5.41v3.62h-5.41zM236.69 366.68h5.41v3.62h-5.41z"/>
<path fill="#f5f2fa" d="M371.84 73.70h5.41v3.62h-5.41zM420.49 77.32h5.41v3.62h-5.41zM301.56 84.55h10.81v3.62h-10.81zM328.59 88.17h5.41v3.62h-5.41zM350.21 88.17h5.41v3.62h-5.41zM182.63 99.02h5.41v3.62h-5.41zM182.63 113.49h5.41v3.62h-5.41zM171.81 120.72h5.41v3.62h-5.41zM123.16 135.19h5.41v3.62h-5.41zM123.16 138.81h5.41v3.62h-5.41zM171.81 142.42h5.41v3.62h-5.41zM123.16 146.04h5.41v3.62h-5.41zM112.35 156.89h5.41v3.62h-5.41zM166.41 160.51h5.41v3.62h-5.41zM150.19 174.98h10.81v3.62h-10.81zM171.81 174.98h5.41v3.62h-5.41zM388.05 174.98h5.41v3.62h-5.41zM133.97 178.59h5.41v3.62h-5.41zM479.96 185.83h5.41v3.62h-5.41zM133.97 200.30h5.41v3.62h-5.41zM485.36 203.91h5.41v3.62h-5.41zM231.28 211.15h5.41v3.62h-5.41zM339.40 211.15h5.41v3.62h-5.41zM479.96 218.38h5.41v3.62h-5.41zM339.40 222.00h5.41v3.62h-5.41zM101.54 225.61h5.41v3.62h-5.41zM474.55 232.85h5.41v3.62h-5.41zM479.96 240.08h5.41v3.62h-5.41zM96.13 243.70h5.41v3.62h-5.41zM101.54 247.32h5.41v3.62h-5.41zM161.00 250.93h5.41v3.62h-5.41zM128.57 254.55h5.41v3.62h-5.41zM355.62 254.55h5.41v3.62h-5.41zM96.13 258.17h5.41v3.62h-5.41zM133.97 261.78h5.41v3.62h-5.41zM117.75 265.40h5.41v3.62h-5.41zM333.99 283.49h5.41v3.62h-5.41zM398.87 297.95h5.41v3.62h-5.41zM479.96 312.42h5.41v3.62h-5.41zM150.19 316.04h5.41v3.62h-5.41zM117.75 326.89h5.41v3.62h-5.41zM155.60 326.89h5.41v3.62h-5.41zM133.97 337.74h5.41v3.62h-5.41zM393.46 341.36h5.41v3.62h-5.41zM317.78 348.59h5.41v3.62h-5.41zM463.74 359.44h5.41v3.62h-5.41zM128.57 363.06h5.41v3.62h-5.41zM452.93 366.68h5.41v3.62h-5.41z"/>
<path fill="#f6e9f0" d="M382.65 73.70h5.41v3.62h-5.41zM458.33 73.70h5.41v3.62h-5.41zM404.27 366.68h5.41v3.62h-5.41zM415.08 366.68h5.41v3.62h-5.41zM442.11 366.68h5.41v3.62h-5.41z"/>
<path fill="#f8e0e6" d="M388.05 73.70h5.41v3.62h-5.41zM415.08 73.70h5.41v3.62h-5.41zM479.96 366.68h5.41v3.62h-5.41z"/>
<path fill="#f7e5eb" d="M420.49 73.70h5.41v3.62h-5.41zM436.71 73.70h5.41v3.62h-5.41zM447.52 73.70h5.41v3.62h-5.41zM485.36 236.46h5.41v3.62h-5.41zM485.36 305.19h5.41v3.62h-5.41zM425.90 366.68h5.41v3.62h-5.41z"/>
<path fill="#caccfb" d="M463.74 73.70h5.41v3.62h-5.41zM485.36 113.49h5.41v3.62h-5.41zM485.36 153.27h5.41v3.62h-5.41zM485.36 156.89h5.41v3.62h-5.41zM485.36 178.59h5.41v3.62h-5.41zM144.78 366.68h5.41v3.62h-5.41zM198.84 366.68h5.41v3.62h-5.41z"/>
<path fill="#deddfb" d="M74.51 77.32h5.41v3.62h-5.41zM366.43 77.32h5.41v3.62h-5.41zM366.43 80.93h5.41v3.62h-5.41zM166.41 99.02h5.41v3.62h-5.41zM258.31 99.02h5.41v3.62h-5.41zM133.97 102.64h5.41v3.62h-5.41zM469.14 102.64h5.41v3.62h-5.41zM155.60 106.25h5.41v3.62h-5.41zM198.84 106.25h5.41v3.62h-5.41zM155.60 109.87h5.41v3.62h-5.41zM252.90 109.87h5.41v3.62h-5.41zM155.60 113.49h5.41v3.62h-5.41zM182.63 117.10h5.41v3.62h-5.41zM236.69 124.34h5.41v3.62h-5.41zM236.69 138.81h5.41v3.62h-5.41zM333.99 146.04h5.41v3.62h-5.41zM333.99 149.66h5.41v3.62h-5.41zM333.99 156.89h5.41v3.62h-5.41zM252.90 164.12h5.41v3.62h-5.41zM263.72 164.12h5.41v3.62h-5.41zM182.63 171.36h5.41v3.62h-5.41zM171.81 185.83h5.41v3.62h-5.41zM171.81 196.68h5.41v3.62h-5.41zM225.87 196.68h5.41v3.62h-5.41zM128.57 200.30h5.41v3.62h-5.41zM274.53 200.30h10.81v3.62h-10.81zM236.69 203.91h5.41v3.62h-5.41zM285.34 203.91h5.41v3.62h-5.41zM236.69 207.53h5.41v3.62h-5.41zM112.35 211.15h5.41v3.62h-5.41zM139.38 214.76h5.41v3.62h-5.41zM333.99 214.76h5.41v3.62h-5.41zM171.81 222.00h5.41v3.62h-5.41zM479.96 243.70h5.41v3.62h-5.41zM225.87 250.93h5.41v3.62h-5.41zM339.40 250.93h5.41v3.62h-5.41zM231.28 290.72h5.41v3.62h-5.41zM236.69 301.57h16.22v3.62h-16.22zM263.72 301.57h5.41v3.62h-5.41zM236.69 312.42h5.41v3.62h-5.41zM474.55 323.27h5.41v3.62h-5.41zM128.57 330.51h5.41v3.62h-5.41zM479.96 330.51h5.41v3.62h-5.41zM269.12 341.36h5.41v3.62h-5.41zM279.93 341.36h5.41v3.62h-5.41zM279.93 344.97h5.41v3.62h-5.41zM209.66 348.59h5.41v3.62h-5.41zM301.56 348.59h5.41v3.62h-5.41zM420.49 348.59h5.41v3.62h-5.41zM458.33 348.59h5.41v3.62h-5.41zM236.69 352.21h10.81v3.62h-10.81zM301.56 352.21h5.41v3.62h-5.41zM442.11 352.21h5.41v3.62h-5.41zM344.81 355.83h5.41v3.62h-5.41zM193.44 363.06h5.41v3.62h-5.41zM317.78 363.06h10.81v3.62h-10.81zM333.99 363.06h5.41v3.62h-5.41z"/>
<path fill="#d7d7fb" d="M101.54 77.32h5.41v3.62h-5.41zM463.74 77.32h5.41v3.62h-5.41zM333.99 80.93h5.41v3.62h-5.41zM371.84 95.40h5.41v3.62h-5.41zM382.65 95.40h10.81v3.62h-10.81zM247.50 99.02h5.41v3.62h-5.41zM139.38 102.64h5.41v3.62h-5.41zM139.38 109.87h5.41v3.62h-5.41zM252.90 113.49h5.41v3.62h-5.41zM252.90 117.10h5.41v3.62h-5.41zM252.90 120.72h5.41v3.62h-5.41zM263.72 124.34h5.41v3.62h-5.41zM290.75 124.34h5.41v3.62h-5.41zM252.90 131.57h5.41v3.62h-5.41zM333.99 142.42h5.41v3.62h-5.41zM252.90 160.51h5.41v3.62h-5.41zM101.54 164.12h5.41v3.62h-5.41zM263.72 167.74h5.41v3.62h-5.41zM117.75 171.36h5.41v3.62h-5.41zM101.54 174.98h5.41v3.62h-5.41zM263.72 174.98h5.41v3.62h-5.41zM177.22 178.59h5.41v3.62h-5.41zM128.57 182.21h5.41v3.62h-5.41zM177.22 182.21h5.41v3.62h-5.41zM128.57 189.44h5.41v3.62h-5.41zM236.69 189.44h5.41v3.62h-5.41zM236.69 193.06h5.41v3.62h-5.41zM128.57 196.68h5.41v3.62h-5.41zM101.54 211.15h5.41v3.62h-5.41zM225.87 214.76h5.41v3.62h-5.41zM188.03 232.85h5.41v3.62h-5.41zM177.22 243.70h10.81v3.62h-10.81zM269.12 247.32h5.41v3.62h-5.41zM296.15 247.32h5.41v3.62h-5.41zM333.99 258.17h5.41v3.62h-5.41zM231.28 265.40h5.41v3.62h-5.41zM317.78 287.10h5.41v3.62h-5.41zM317.78 290.72h5.41v3.62h-5.41zM323.18 294.34h5.41v3.62h-5.41zM198.84 301.57h5.41v3.62h-5.41zM123.16 305.19h5.41v3.62h-5.41zM339.40 305.19h5.41v3.62h-5.41zM139.38 319.66h5.41v3.62h-5.41zM258.31 323.27h5.41v3.62h-5.41zM263.72 341.36h5.41v3.62h-5.41zM317.78 344.97h5.41v3.62h-5.41zM220.47 348.59h5.41v3.62h-5.41zM177.22 352.21h5.41v3.62h-5.41zM269.12 352.21h5.41v3.62h-5.41zM242.09 355.83h5.41v3.62h-5.41z"/>
<path fill="#d4d4fb" d="M106.94 77.32h5.41v3.62h-5.41zM479.96 77.32h5.41v3.62h-5.41zM415.08 80.93h5.41v3.62h-5.41zM366.43 84.55h5.41v3.62h-5.41zM139.38 95.40h5.41v3.62h-5.41zM377.24 95.40h5.41v3.62h-5.41zM479.96 95.40h5.41v3.62h-5.41zM161.00 99.02h5.41v3.62h-5.41zM150.19 102.64h5.41v3.62h-5.41zM252.90 106.25h5.41v3.62h-5.41zM198.84 113.49h5.41v3.62h-5.41zM193.44 117.10h5.41v3.62h-5.41zM269.12 138.81h5.41v3.62h-5.41zM117.75 174.98h5.41v3.62h-5.41zM274.53 174.98h5.41v3.62h-5.41zM296.15 174.98h5.41v3.62h-5.41zM269.12 196.68h5.41v3.62h-5.41zM177.22 203.91h5.41v3.62h-5.41zM296.15 207.53h5.41v3.62h-5.41zM155.60 218.38h5.41v3.62h-5.41zM236.69 218.38h5.41v3.62h-5.41zM269.12 240.08h5.41v3.62h-5.41zM263.72 247.32h5.41v3.62h-5.41zM231.28 254.55h5.41v3.62h-5.41zM258.31 265.40h5.41v3.62h-5.41zM166.41 290.72h5.41v3.62h-5.41zM225.87 301.57h5.41v3.62h-5.41zM133.97 305.19h5.41v3.62h-5.41zM252.90 308.81h5.41v3.62h-5.41zM166.41 312.42h5.41v3.62h-5.41zM339.40 312.42h5.41v3.62h-5.41zM182.63 319.66h5.41v3.62h-5.41zM263.72 323.27h5.41v3.62h-5.41zM333.99 337.74h5.41v3.62h-5.41zM474.55 337.74h5.41v3.62h-5.41zM252.90 341.36h5.41v3.62h-5.41zM458.33 344.97h5.41v3.62h-5.41z"/>
<path fill="#ebe9fa" d="M209.66 77.32h5.41v3.62h-5.41zM393.46 80.93h5.41v3.62h-5.41zM409.68 80.93h5.41v3.62h-5.41zM123.16 102.64h5.41v3.62h-5.41zM117.75 106.25h5.41v3.62h-5.41zM171.81 106.25h5.41v3.62h-5.41zM188.03 106.25h5.41v3.62h-5.41zM339.40 106.25h5.41v3.62h-5.41zM231.28 109.87h5.41v3.62h-5.41zM231.28 113.49h5.41v3.62h-5.41zM231.28 117.10h5.41v3.62h-5.41zM133.97 120.72h5.41v3.62h-5.41zM155.60 120.72h16.22v3.62h-16.22zM231.28 120.72h5.41v3.62h-5.41zM139.38 124.34h5.41v3.62h-5.41zM166.41 124.34h5.41v3.62h-5.41zM112.35 127.96h5.41v3.62h-5.41zM123.16 131.57h5.41v3.62h-5.41zM333.99 131.57h5.41v3.62h-5.41zM155.60 138.81h5.41v3.62h-5.41zM139.38 142.42h5.41v3.62h-5.41zM236.69 146.04h5.41v3.62h-5.41zM133.97 149.66h10.81v3.62h-10.81zM133.97 153.27h10.81v3.62h-10.81zM150.19 153.27h5.41v3.62h-5.41zM161.00 156.89h5.41v3.62h-5.41zM177.22 156.89h5.41v3.62h-5.41zM231.28 156.89h5.41v3.62h-5.41zM155.60 164.12h5.41v3.62h-5.41zM161.00 171.36h5.41v3.62h-5.41zM155.60 178.59h5.41v3.62h-5.41zM171.81 182.21h5.41v3.62h-5.41zM139.38 189.44h5.41v3.62h-5.41zM150.19 189.44h10.81v3.62h-10.81zM231.28 189.44h5.41v3.62h-5.41zM231.28 193.06h5.41v3.62h-5.41zM155.60 196.68h5.41v3.62h-5.41zM161.00 200.30h16.22v3.62h-16.22zM117.75 222.00h5.41v3.62h-5.41zM177.22 222.00h5.41v3.62h-5.41zM474.55 222.00h5.41v3.62h-5.41zM333.99 225.61h5.41v3.62h-5.41zM101.54 229.23h5.41v3.62h-5.41zM333.99 229.23h5.41v3.62h-5.41zM112.35 232.85h5.41v3.62h-5.41zM123.16 247.32h5.41v3.62h-5.41zM144.78 247.32h5.41v3.62h-5.41zM128.57 250.93h5.41v3.62h-5.41zM106.94 254.55h5.41v3.62h-5.41zM101.54 265.40h5.41v3.62h-5.41zM333.99 272.63h5.41v3.62h-5.41zM328.59 287.10h5.41v3.62h-5.41zM474.55 294.34h5.41v3.62h-5.41zM123.16 308.81h5.41v3.62h-5.41zM161.00 319.66h5.41v3.62h-5.41zM333.99 326.89h5.41v3.62h-5.41zM263.72 330.51h5.41v3.62h-5.41zM74.51 334.12h5.41v3.62h-5.41zM79.91 337.74h5.41v3.62h-5.41zM469.14 337.74h5.41v3.62h-5.41zM155.60 341.36h5.41v3.62h-5.41zM479.96 341.36h5.41v3.62h-5.41zM290.75 344.97h5.41v3.62h-5.41zM328.59 344.97h5.41v3.62h-5.41zM215.06 352.21h5.41v3.62h-5.41zM312.37 352.21h5.41v3.62h-5.41zM285.34 355.83h5.41v3.62h-5.41zM312.37 355.83h5.41v3.62h-5.41zM436.71 355.83h10.81v3.62h-10.81zM469.14 355.83h5.41v3.62h-5.41zM290.75 359.44h5.41v3.62h-5.41zM317.78 359.44h5.41v3.62h-5.41zM290.75 363.06h5.41v3.62h-5.41z"/>
<path fill="#fa4646" d="M225.87 77.32h5.41v3.62h-5.41zM236.69 77.32h10.81v3.62h-10.81zM252.90 77.32h5.41v3.62h-5.41zM139.38 80.93h5.41v3.62h-5.41zM155.60 80.93h5.41v3.62h-5.41zM85.32 84.55h5.41v3.62h-5.41zM96.13 84.55h10.81v3.62h-10.81zM161.00 84.55h16.22v3.62h-16.22zM220.47 84.55h5.41v3.62h-5.41zM106.94 88.17h5.41v3.62h-5.41zM398.87 88.17h5.41v3.62h-5.41zM177.22 91.78h10.81v3.62h-10.81zM198.84 91.78h5.41v3.62h-5.41zM252.90 91.78h5.41v3.62h-5.41zM106.94 95.40h21.62v3.62h-21.62zM279.93 95.40h5.41v3.62h-5.41zM328.59 95.40h5.41v3.62h-5.41zM96.13 99.02h16.22v3.62h-16.22zM236.69 99.02h5.41v3.62h-5.41zM274.53 99.02h75.68v3.62h-75.68zM431.30 102.64h10.81v3.62h-10.81zM447.52 102.64h5.41v3.62h-5.41zM431.30 106.25h10.81v3.62h-10.81zM447.52 106.25h5.41v3.62h-5.41zM463.74 106.25h5.41v3.62h-5.41zM79.91 109.87h5.41v3.62h-5.41zM350.21 109.87h5.41v3.62h-5.41zM431.30 109.87h10.81v3.62h-10.81zM447.52 109.87h5.41v3.62h-5.41zM463.74 109.87h5.41v3.62h-5.41zM436.71 113.49h5.41v3.62h-5.41zM463.74 113.49h5.41v3.62h-5.41zM377.24 117.10h5.41v3.62h-5.41zM404.27 117.10h5.41v3.62h-5.41zM431.30 117.10h10.81v3.62h-10.81zM447.52 117.10h5.41v3.62h-5.41zM350.21 120.72h5.41v3.62h-5.41zM404.27 120.72h5.41v3.62h-5.41zM436.71 120.72h5.41v3.62h-5.41zM447.52 120.72h5.41v3.62h-5.41zM463.74 120.72h5.41v3.62h-5.41zM431.30 124.34h10.81v3.62h-10.81zM447.52 124.34h5.41v3.62h-5.41zM463.74 124.34h5.41v3.62h-5.41zM74.51 127.96h5.41v3.62h-5.41zM431.30 127.96h10.81v3.62h-10.81zM463.74 127.96h5.41v3.62h-5.41zM74.51 131.57h10.81v3.62h-10.81zM431.30 131.57h10.81v3.62h-10.81zM447.52 131.57h5.41v3.62h-5.41zM463.74 131.57h5.41v3.62h-5.41zM74.51 135.19h10.81v3.62h-10.81zM350.21 135.19h5.41v3.62h-5.41zM382.65 135.19h5.41v3.62h-5.41zM431.30 135.19h10.81v3.62h-10.81zM447.52 135.19h5.41v3.62h-5.41zM463.74 135.19h5.41v3.62h-5.41zM79.91 138.81h5.41v3.62h-5.41zM117.75 138.81h5.41v3.62h-5.41zM382.65 138.81h5.41v3.62h-5.41zM431.30 138.81h10.81v3.62h-10.81zM447.52 138.81h5.41v3.62h-5.41zM463.74 138.81h5.41v3.62h-5.41zM74.51 142.42h10.81v3.62h-10.81zM431.30 142.42h10.81v3.62h-10.81zM447.52 142.42h5.41v3.62h-5.41zM463.74 142.42h5.41v3.62h-5.41zM74.51 146.04h5.41v3.62h-5.41zM117.75 146.04h5.41v3.62h-5.41zM382.65 146.04h10.81v3.62h-10.81zM431.30 146.04h10.81v3.62h-10.81zM447.52 146.04h5.41v3.62h-5.41zM463.74 146.04h5.41v3.62h-5.41zM74.51 149.66h10.81v3.62h-10.81zM350.21 149.66h5.41v3.62h-5.41zM382.65 149.66h10.81v3.62h-10.81zM431.30 149.66h10.81v3.62h-10.81zM447.52 149.66h5.41v3.62h-5.41zM463.74 149.66h5.41v3.62h-5.41zM74.51 153.27h10.81v3.62h-10.81zM350.21 153.27h5.41v3.62h-5.41zM377.24 153.27h5.41v3.62h-5.41zM431.30 153.27h10.81v3.62h-10.81zM447.52 153.27h5.41v3.62h-5.41zM463.74 153.27h5.41v3.62h-5.41zM74.51 156.89h10.81v3.62h-10.81zM350.21 156.89h5.41v3.62h-5.41zM377.24 156.89h16.22v3.62h-16.22zM431.30 156.89h5.41v3.62h-5.41zM447.52 156.89h5.41v3.62h-5.41zM463.74 156.89h5.41v3.62h-5.41zM377.24 160.51h5.41v3.62h-5.41zM398.87 160.51h16.22v3.62h-16.22zM431.30 160.51h10.81v3.62h-10.81zM447.52 160.51h21.62v3.62h-21.62zM350.21 164.12h5.41v3.62h-5.41zM425.90 164.12h16.22v3.62h-16.22zM452.93 164.12h10.81v3.62h-10.81zM79.91 167.74h5.41v3.62h-5.41zM350.21 167.74h5.41v3.62h-5.41zM377.24 167.74h5.41v3.62h-5.41zM425.90 167.74h16.22v3.62h-16.22zM458.33 167.74h5.41v3.62h-5.41zM90.72 171.36h16.22v3.62h-16.22zM350.21 171.36h5.41v3.62h-5.41zM425.90 171.36h5.41v3.62h-5.41zM377.24 174.98h5.41v3.62h-5.41zM404.27 174.98h10.81v3.62h-10.81zM431.30 174.98h10.81v3.62h-10.81zM447.52 174.98h5.41v3.62h-5.41zM458.33 174.98h5.41v3.62h-5.41zM69.10 178.59h16.22v3.62h-16.22zM371.84 178.59h5.41v3.62h-5.41zM404.27 178.59h10.81v3.62h-10.81zM431.30 178.59h10.81v3.62h-10.81zM447.52 178.59h16.22v3.62h-16.22zM79.91 182.21h5.41v3.62h-5.41zM377.24 182.21h5.41v3.62h-5.41zM425.90 182.21h16.22v3.62h-16.22zM458.33 182.21h5.41v3.62h-5.41zM404.27 185.83h5.41v3.62h-5.41zM425.90 185.83h16.22v3.62h-16.22zM458.33 185.83h5.41v3.62h-5.41zM377.24 189.44h5.41v3.62h-5.41zM425.90 189.44h16.22v3.62h-16.22zM452.93 189.44h10.81v3.62h-10.81zM79.91 193.06h5.41v3.62h-5.41zM377.24 193.06h5.41v3.62h-5.41zM398.87 193.06h5.41v3.62h-5.41zM431.30 193.06h10.81v3.62h-10.81zM452.93 193.06h10.81v3.62h-10.81zM85.32 196.68h5.41v3.62h-5.41zM377.24 196.68h5.41v3.62h-5.41zM431.30 196.68h5.41v3.62h-5.41zM74.51 200.30h5.41v3.62h-5.41zM377.24 200.30h5.41v3.62h-5.41zM425.90 200.30h16.22v3.62h-16.22zM452.93 200.30h10.81v3.62h-10.81zM377.24 203.91h5.41v3.62h-5.41zM69.10 207.53h5.41v3.62h-5.41zM85.32 207.53h5.41v3.62h-5.41zM366.43 207.53h5.41v3.62h-5.41zM377.24 207.53h5.41v3.62h-5.41zM404.27 207.53h5.41v3.62h-5.41zM447.52 207.53h5.41v3.62h-5.41zM458.33 207.53h5.41v3.62h-5.41zM404.27 211.15h5.41v3.62h-5.41zM79.91 214.76h5.41v3.62h-5.41zM447.52 214.76h5.41v3.62h-5.41zM79.91 218.38h5.41v3.62h-5.41zM350.21 218.38h5.41v3.62h-5.41zM377.24 218.38h5.41v3.62h-5.41zM431.30 218.38h5.41v3.62h-5.41zM447.52 218.38h5.41v3.62h-5.41zM458.33 218.38h5.41v3.62h-5.41zM79.91 222.00h5.41v3.62h-5.41zM377.24 222.00h5.41v3.62h-5.41zM398.87 222.00h5.41v3.62h-5.41zM447.52 222.00h5.41v3.62h-5.41zM69.10 225.61h5.41v3.62h-5.41zM79.91 225.61h5.41v3.62h-5.41zM431.30 225.61h10.81v3.62h-10.81zM452.93 225.61h5.41v3.62h-5.41zM69.10 229.23h16.22v3.62h-16.22zM350.21 229.23h5.41v3.62h-5.41zM431.30 229.23h10.81v3.62h-10.81zM447.52 229.23h5.41v3.62h-5.41zM458.33 229.23h5.41v3.62h-5.41zM69.10 232.85h10.81v3.62h-10.81zM431.30 232.85h10.81v3.62h-10.81zM447.52 232.85h16.22v3.62h-16.22zM69.10 236.46h5.41v3.62h-5.41zM79.91 236.46h5.41v3.62h-5.41zM404.27 236.46h5.41v3.62h-5.41zM425.90 236.46h16.22v3.62h-16.22zM452.93 236.46h10.81v3.62h-10.81zM74.51 240.08h5.41v3.62h-5.41zM85.32 240.08h5.41v3.62h-5.41zM377.24 240.08h5.41v3.62h-5.41zM431.30 240.08h5.41v3.62h-5.41zM452.93 240.08h10.81v3.62h-10.81zM69.10 243.70h16.22v3.62h-16.22zM388.05 243.70h5.41v3.62h-5.41zM409.68 243.70h5.41v3.62h-5.41zM431.30 243.70h5.41v3.62h-5.41zM447.52 243.70h5.41v3.62h-5.41zM458.33 243.70h5.41v3.62h-5.41zM350.21 247.32h5.41v3.62h-5.41zM361.02 247.32h5.41v3.62h-5.41zM431.30 247.32h5.41v3.62h-5.41zM452.93 247.32h5.41v3.62h-5.41zM463.74 247.32h5.41v3.62h-5.41zM371.84 250.93h10.81v3.62h-10.81zM398.87 250.93h10.81v3.62h-10.81zM431.30 250.93h10.81v3.62h-10.81zM447.52 250.93h21.62v3.62h-21.62zM371.84 254.55h10.81v3.62h-10.81zM431.30 254.55h5.41v3.62h-5.41zM442.11 254.55h16.22v3.62h-16.22zM463.74 254.55h5.41v3.62h-5.41zM425.90 258.17h21.62v3.62h-21.62zM452.93 258.17h10.81v3.62h-10.81zM69.10 261.78h5.41v3.62h-5.41zM85.32 261.78h5.41v3.62h-5.41zM425.90 261.78h16.22v3.62h-16.22zM447.52 261.78h16.22v3.62h-16.22zM355.62 265.40h5.41v3.62h-5.41zM371.84 265.40h10.81v3.62h-10.81zM452.93 265.40h5.41v3.62h-5.41zM69.10 269.02h5.41v3.62h-5.41zM79.91 269.02h5.41v3.62h-5.41zM377.24 269.02h5.41v3.62h-5.41zM74.51 272.63h10.81v3.62h-10.81zM442.11 272.63h10.81v3.62h-10.81zM69.10 276.25h21.62v3.62h-21.62zM371.84 276.25h10.81v3.62h-10.81zM69.10 279.87h10.81v3.62h-10.81zM69.10 283.49h21.62v3.62h-21.62zM69.10 287.10h5.41v3.62h-5.41zM79.91 287.10h10.81v3.62h-10.81zM117.75 287.10h5.41v3.62h-5.41zM355.62 287.10h5.41v3.62h-5.41zM420.49 287.10h5.41v3.62h-5.41zM447.52 287.10h5.41v3.62h-5.41zM69.10 290.72h16.22v3.62h-16.22zM431.30 290.72h16.22v3.62h-16.22zM469.14 290.72h5.41v3.62h-5.41zM69.10 294.34h21.62v3.62h-21.62zM69.10 297.95h27.03v3.62h-27.03zM350.21 301.57h5.41v3.62h-5.41zM420.49 301.57h5.41v3.62h-5.41zM85.32 305.19h21.62v3.62h-21.62zM398.87 305.19h10.81v3.62h-10.81zM452.93 305.19h16.22v3.62h-16.22zM442.11 308.81h5.41v3.62h-5.41zM74.51 312.42h5.41v3.62h-5.41zM350.21 312.42h5.41v3.62h-5.41zM442.11 312.42h5.41v3.62h-5.41zM74.51 316.04h10.81v3.62h-10.81zM350.21 316.04h5.41v3.62h-5.41zM388.05 316.04h5.41v3.62h-5.41zM398.87 316.04h5.41v3.62h-5.41zM442.11 316.04h10.81v3.62h-10.81zM101.54 319.66h5.41v3.62h-5.41zM117.75 319.66h5.41v3.62h-5.41zM398.87 319.66h5.41v3.62h-5.41zM69.10 323.27h16.22v3.62h-16.22zM96.13 323.27h5.41v3.62h-5.41zM333.99 323.27h10.81v3.62h-10.81zM436.71 323.27h5.41v3.62h-5.41zM101.54 326.89h5.41v3.62h-5.41zM193.44 330.51h10.81v3.62h-10.81zM485.36 330.51h5.41v3.62h-5.41zM231.28 334.12h5.41v3.62h-5.41zM415.08 334.12h5.41v3.62h-5.41zM193.44 337.74h10.81v3.62h-10.81zM69.10 344.97h27.03v3.62h-27.03zM106.94 344.97h10.81v3.62h-10.81zM123.16 344.97h5.41v3.62h-5.41zM355.62 344.97h10.81v3.62h-10.81zM69.10 348.59h5.41v3.62h-5.41zM90.72 348.59h5.41v3.62h-5.41zM101.54 348.59h5.41v3.62h-5.41zM117.75 348.59h5.41v3.62h-5.41zM74.51 352.21h5.41v3.62h-5.41zM85.32 352.21h5.41v3.62h-5.41zM101.54 352.21h5.41v3.62h-5.41zM69.10 355.83h5.41v3.62h-5.41zM79.91 355.83h5.41v3.62h-5.41zM90.72 355.83h5.41v3.62h-5.41zM101.54 355.83h10.81v3.62h-10.81zM366.43 355.83h10.81v3.62h-10.81zM74.51 359.44h5.41v3.62h-5.41zM85.32 359.44h10.81v3.62h-10.81zM388.05 359.44h5.41v3.62h-5.41zM479.96 359.44h5.41v3.62h-5.41zM69.10 363.06h5.41v3.62h-5.41zM90.72 363.06h5.41v3.62h-5.41zM101.54 363.06h5.41v3.62h-5.41zM366.43 363.06h5.41v3.62h-5.41zM377.24 363.06h5.41v3.62h-5.41zM101.54 366.68h5.41v3.62h-5.41zM123.16 366.68h5.41v3.62h-5.41zM366.43 366.68h5.41v3.62h-5.41z"/>
<path fill="#f8e1e7" d="M274.53 77.32h5.41v3.62h-5.41zM436.71 77.32h5.41v3.62h-5.41zM193.44 84.55h5.41v3.62h-5.41zM242.09 88.17h5.41v3.62h-5.41zM269.12 88.17h5.41v3.62h-5.41zM285.34 88.17h10.81v3.62h-10.81zM312.37 88.17h5.41v3.62h-5.41zM101.54 91.78h5.41v3.62h-5.41zM128.57 91.78h5.41v3.62h-5.41zM177.22 95.40h5.41v3.62h-5.41zM96.13 120.72h5.41v3.62h-5.41zM388.05 127.96h5.41v3.62h-5.41zM90.72 131.57h5.41v3.62h-5.41zM90.72 138.81h5.41v3.62h-5.41zM355.62 164.12h5.41v3.62h-5.41zM90.72 174.98h5.41v3.62h-5.41zM469.14 178.59h5.41v3.62h-5.41zM393.46 182.21h5.41v3.62h-5.41zM106.94 276.25h5.41v3.62h-5.41zM112.35 279.87h5.41v3.62h-5.41zM415.08 294.34h5.41v3.62h-5.41zM161.00 330.51h5.41v3.62h-5.41zM144.78 334.12h5.41v3.62h-5.41zM393.46 363.06h5.41v3.62h-5.41z"/>
<path fill="#d0d1fb" d="M312.37 77.32h5.41v3.62h-5.41zM463.74 80.93h5.41v3.62h-5.41zM474.55 80.93h5.41v3.62h-5.41zM328.59 84.55h5.41v3.62h-5.41zM361.02 84.55h5.41v3.62h-5.41zM469.14 95.40h5.41v3.62h-5.41zM290.75 109.87h5.41v3.62h-5.41zM296.15 124.34h5.41v3.62h-5.41zM188.03 156.89h5.41v3.62h-5.41zM296.15 160.51h5.41v3.62h-5.41zM242.09 182.21h5.41v3.62h-5.41zM177.22 185.83h5.41v3.62h-5.41zM269.12 189.44h5.41v3.62h-5.41zM296.15 196.68h5.41v3.62h-5.41zM225.87 218.38h5.41v3.62h-5.41zM317.78 225.61h5.41v3.62h-5.41zM123.16 229.23h5.41v3.62h-5.41zM177.22 232.85h5.41v3.62h-5.41zM193.44 247.32h5.41v3.62h-5.41zM290.75 247.32h5.41v3.62h-5.41zM333.99 250.93h5.41v3.62h-5.41zM225.87 265.40h5.41v3.62h-5.41zM236.69 290.72h5.41v3.62h-5.41zM485.36 301.57h5.41v3.62h-5.41zM128.57 308.81h5.41v3.62h-5.41zM193.44 312.42h5.41v3.62h-5.41zM182.63 316.04h5.41v3.62h-5.41zM225.87 319.66h5.41v3.62h-5.41zM252.90 323.27h5.41v3.62h-5.41zM290.75 323.27h5.41v3.62h-5.41zM220.47 326.89h5.41v3.62h-5.41zM479.96 337.74h5.41v3.62h-5.41zM231.28 352.21h5.41v3.62h-5.41zM166.41 366.68h5.41v3.62h-5.41z"/>
<path fill="#cdcefb" d="M339.40 77.32h5.41v3.62h-5.41zM479.96 80.93h5.41v3.62h-5.41zM366.43 95.40h5.41v3.62h-5.41zM420.49 95.40h5.41v3.62h-5.41zM442.11 95.40h5.41v3.62h-5.41zM463.74 95.40h5.41v3.62h-5.41zM188.03 117.10h5.41v3.62h-5.41zM198.84 149.66h5.41v3.62h-5.41zM317.78 153.27h5.41v3.62h-5.41zM252.90 167.74h5.41v3.62h-5.41zM188.03 171.36h5.41v3.62h-5.41zM252.90 174.98h5.41v3.62h-5.41zM252.90 196.68h5.41v3.62h-5.41zM225.87 225.61h5.41v3.62h-5.41zM317.78 229.23h5.41v3.62h-5.41zM204.25 243.70h5.41v3.62h-5.41zM198.84 247.32h5.41v3.62h-5.41zM225.87 254.55h5.41v3.62h-5.41zM236.69 254.55h5.41v3.62h-5.41zM236.69 265.40h5.41v3.62h-5.41zM252.90 265.40h5.41v3.62h-5.41zM144.78 308.81h5.41v3.62h-5.41zM144.78 312.42h5.41v3.62h-5.41zM312.37 323.27h5.41v3.62h-5.41zM323.18 323.27h5.41v3.62h-5.41zM215.06 334.12h5.41v3.62h-5.41zM220.47 341.36h5.41v3.62h-5.41zM452.93 344.97h5.41v3.62h-5.41zM344.81 359.44h5.41v3.62h-5.41z"/>
<path fill="#777cf5" d="M344.81 77.32h5.41v3.62h-5.41zM355.62 77.32h5.41v3.62h-5.41zM96.13 80.93h5.41v3.62h-5.41zM117.75 80.93h5.41v3.62h-5.41zM301.56 80.93h5.41v3.62h-5.41zM317.78 80.93h5.41v3.62h-5.41zM393.46 84.55h10.81v3.62h-10.81zM409.68 84.55h5.41v3.62h-5.41zM463.74 84.55h5.41v3.62h-5.41zM96.13 88.17h5.41v3.62h-5.41zM117.75 88.17h5.41v3.62h-5.41zM344.81 88.17h5.41v3.62h-5.41zM366.43 88.17h5.41v3.62h-5.41zM377.24 88.17h5.41v3.62h-5.41zM425.90 88.17h5.41v3.62h-5.41zM436.71 88.17h16.22v3.62h-16.22zM458.33 88.17h10.81v3.62h-10.81zM69.10 91.78h16.22v3.62h-16.22zM106.94 91.78h5.41v3.62h-5.41zM144.78 91.78h5.41v3.62h-5.41zM209.66 91.78h5.41v3.62h-5.41zM431.30 91.78h21.62v3.62h-21.62zM458.33 91.78h5.41v3.62h-5.41zM150.19 95.40h21.62v3.62h-21.62zM182.63 95.40h5.41v3.62h-5.41zM209.66 95.40h5.41v3.62h-5.41zM150.19 99.02h10.81v3.62h-10.81zM355.62 99.02h10.81v3.62h-10.81zM404.27 99.02h16.22v3.62h-16.22zM431.30 99.02h37.84v3.62h-37.84zM479.96 99.02h10.81v3.62h-10.81zM161.00 102.64h5.41v3.62h-5.41zM215.06 102.64h10.81v3.62h-10.81zM247.50 102.64h5.41v3.62h-5.41zM258.31 102.64h5.41v3.62h-5.41zM285.34 102.64h5.41v3.62h-5.41zM312.37 102.64h10.81v3.62h-10.81zM328.59 102.64h5.41v3.62h-5.41zM106.94 106.25h5.41v3.62h-5.41zM128.57 106.25h5.41v3.62h-5.41zM144.78 106.25h5.41v3.62h-5.41zM161.00 106.25h10.81v3.62h-10.81zM182.63 106.25h5.41v3.62h-5.41zM204.25 106.25h5.41v3.62h-5.41zM215.06 106.25h5.41v3.62h-5.41zM242.09 106.25h5.41v3.62h-5.41zM269.12 106.25h21.62v3.62h-21.62zM301.56 106.25h5.41v3.62h-5.41zM317.78 106.25h16.22v3.62h-16.22zM474.55 106.25h5.41v3.62h-5.41zM128.57 109.87h5.41v3.62h-5.41zM161.00 109.87h10.81v3.62h-10.81zM204.25 109.87h5.41v3.62h-5.41zM220.47 109.87h5.41v3.62h-5.41zM242.09 109.87h10.81v3.62h-10.81zM269.12 109.87h16.22v3.62h-16.22zM301.56 109.87h5.41v3.62h-5.41zM317.78 109.87h10.81v3.62h-10.81zM474.55 109.87h10.81v3.62h-10.81zM128.57 113.49h5.41v3.62h-5.41zM144.78 113.49h5.41v3.62h-5.41zM171.81 113.49h5.41v3.62h-5.41zM215.06 113.49h5.41v3.62h-5.41zM274.53 113.49h5.41v3.62h-5.41zM285.34 113.49h5.41v3.62h-5.41zM296.15 113.49h5.41v3.62h-5.41zM312.37 113.49h16.22v3.62h-16.22zM393.46 113.49h5.41v3.62h-5.41zM474.55 113.49h5.41v3.62h-5.41zM106.94 117.10h5.41v3.62h-5.41zM144.78 117.10h5.41v3.62h-5.41zM161.00 117.10h5.41v3.62h-5.41zM242.09 117.10h10.81v3.62h-10.81zM258.31 117.10h5.41v3.62h-5.41zM269.12 117.10h16.22v3.62h-16.22zM290.75 117.10h27.03v3.62h-27.03zM323.18 117.10h10.81v3.62h-10.81zM474.55 117.10h5.41v3.62h-5.41zM106.94 120.72h5.41v3.62h-5.41zM198.84 120.72h5.41v3.62h-5.41zM215.06 120.72h10.81v3.62h-10.81zM242.09 120.72h10.81v3.62h-10.81zM279.93 120.72h5.41v3.62h-5.41zM296.15 120.72h16.22v3.62h-16.22zM317.78 120.72h16.22v3.62h-16.22zM474.55 120.72h5.41v3.62h-5.41zM128.57 124.34h5.41v3.62h-5.41zM144.78 124.34h5.41v3.62h-5.41zM198.84 124.34h5.41v3.62h-5.41zM215.06 124.34h5.41v3.62h-5.41zM242.09 124.34h5.41v3.62h-5.41zM279.93 124.34h10.81v3.62h-10.81zM301.56 124.34h16.22v3.62h-16.22zM323.18 124.34h10.81v3.62h-10.81zM479.96 124.34h5.41v3.62h-5.41zM128.57 127.96h5.41v3.62h-5.41zM144.78 127.96h5.41v3.62h-5.41zM182.63 127.96h5.41v3.62h-5.41zM193.44 127.96h5.41v3.62h-5.41zM220.47 127.96h5.41v3.62h-5.41zM242.09 127.96h10.81v3.62h-10.81zM269.12 127.96h5.41v3.62h-5.41zM301.56 127.96h10.81v3.62h-10.81zM317.78 127.96h10.81v3.62h-10.81zM474.55 127.96h5.41v3.62h-5.41zM128.57 131.57h5.41v3.62h-5.41zM144.78 131.57h5.41v3.62h-5.41zM161.00 131.57h5.41v3.62h-5.41zM188.03 131.57h5.41v3.62h-5.41zM220.47 131.57h5.41v3.62h-5.41zM242.09 131.57h5.41v3.62h-5.41zM258.31 131.57h5.41v3.62h-5.41zM279.93 131.57h10.81v3.62h-10.81zM296.15 131.57h16.22v3.62h-16.22zM328.59 131.57h5.41v3.62h-5.41zM474.55 131.57h5.41v3.62h-5.41zM128.57 135.19h5.41v3.62h-5.41zM144.78 135.19h5.41v3.62h-5.41zM161.00 135.19h10.81v3.62h-10.81zM188.03 135.19h5.41v3.62h-5.41zM204.25 135.19h5.41v3.62h-5.41zM220.47 135.19h5.41v3.62h-5.41zM242.09 135.19h5.41v3.62h-5.41zM279.93 135.19h5.41v3.62h-5.41zM306.96 135.19h5.41v3.62h-5.41zM469.14 135.19h5.41v3.62h-5.41zM128.57 138.81h5.41v3.62h-5.41zM144.78 138.81h5.41v3.62h-5.41zM161.00 138.81h5.41v3.62h-5.41zM182.63 138.81h5.41v3.62h-5.41zM193.44 138.81h10.81v3.62h-10.81zM220.47 138.81h10.81v3.62h-10.81zM247.50 138.81h5.41v3.62h-5.41zM258.31 138.81h5.41v3.62h-5.41zM279.93 138.81h16.22v3.62h-16.22zM301.56 138.81h10.81v3.62h-10.81zM317.78 138.81h21.62v3.62h-21.62zM485.36 138.81h5.41v3.62h-5.41zM128.57 142.42h5.41v3.62h-5.41zM144.78 142.42h5.41v3.62h-5.41zM193.44 142.42h5.41v3.62h-5.41zM242.09 142.42h10.81v3.62h-10.81zM263.72 142.42h5.41v3.62h-5.41zM274.53 142.42h10.81v3.62h-10.81zM290.75 142.42h16.22v3.62h-16.22zM317.78 142.42h5.41v3.62h-5.41zM328.59 142.42h5.41v3.62h-5.41zM474.55 142.42h5.41v3.62h-5.41zM144.78 146.04h5.41v3.62h-5.41zM204.25 146.04h5.41v3.62h-5.41zM215.06 146.04h10.81v3.62h-10.81zM242.09 146.04h10.81v3.62h-10.81zM263.72 146.04h5.41v3.62h-5.41zM274.53 146.04h5.41v3.62h-5.41zM290.75 146.04h10.81v3.62h-10.81zM312.37 146.04h21.62v3.62h-21.62zM469.14 146.04h10.81v3.62h-10.81zM485.36 146.04h5.41v3.62h-5.41zM106.94 149.66h5.41v3.62h-5.41zM128.57 149.66h5.41v3.62h-5.41zM144.78 149.66h5.41v3.62h-5.41zM161.00 149.66h5.41v3.62h-5.41zM188.03 149.66h5.41v3.62h-5.41zM242.09 149.66h10.81v3.62h-10.81zM258.31 149.66h5.41v3.62h-5.41zM269.12 149.66h5.41v3.62h-5.41zM290.75 149.66h5.41v3.62h-5.41zM301.56 149.66h10.81v3.62h-10.81zM323.18 149.66h5.41v3.62h-5.41zM479.96 149.66h5.41v3.62h-5.41zM128.57 153.27h5.41v3.62h-5.41zM161.00 153.27h5.41v3.62h-5.41zM188.03 153.27h10.81v3.62h-10.81zM204.25 153.27h5.41v3.62h-5.41zM220.47 153.27h5.41v3.62h-5.41zM242.09 153.27h5.41v3.62h-5.41zM258.31 153.27h5.41v3.62h-5.41zM274.53 153.27h10.81v3.62h-10.81zM296.15 153.27h10.81v3.62h-10.81zM312.37 153.27h5.41v3.62h-5.41zM323.18 153.27h5.41v3.62h-5.41zM479.96 153.27h5.41v3.62h-5.41zM144.78 156.89h5.41v3.62h-5.41zM193.44 156.89h5.41v3.62h-5.41zM204.25 156.89h5.41v3.62h-5.41zM215.06 156.89h5.41v3.62h-5.41zM263.72 156.89h5.41v3.62h-5.41zM274.53 156.89h10.81v3.62h-10.81zM296.15 156.89h10.81v3.62h-10.81zM323.18 156.89h5.41v3.62h-5.41zM144.78 160.51h5.41v3.62h-5.41zM193.44 160.51h5.41v3.62h-5.41zM204.25 160.51h10.81v3.62h-10.81zM274.53 160.51h5.41v3.62h-5.41zM323.18 160.51h5.41v3.62h-5.41zM479.96 160.51h5.41v3.62h-5.41zM123.16 164.12h5.41v3.62h-5.41zM144.78 164.12h5.41v3.62h-5.41zM220.47 164.12h5.41v3.62h-5.41zM247.50 164.12h5.41v3.62h-5.41zM301.56 164.12h10.81v3.62h-10.81zM323.18 164.12h5.41v3.62h-5.41zM474.55 164.12h5.41v3.62h-5.41zM123.16 167.74h5.41v3.62h-5.41zM144.78 167.74h5.41v3.62h-5.41zM161.00 167.74h5.41v3.62h-5.41zM193.44 167.74h5.41v3.62h-5.41zM204.25 167.74h5.41v3.62h-5.41zM242.09 167.74h10.81v3.62h-10.81zM306.96 167.74h5.41v3.62h-5.41zM317.78 167.74h10.81v3.62h-10.81zM474.55 167.74h5.41v3.62h-5.41zM193.44 171.36h10.81v3.62h-10.81zM242.09 171.36h10.81v3.62h-10.81zM274.53 171.36h10.81v3.62h-10.81zM301.56 171.36h16.22v3.62h-16.22zM479.96 171.36h10.81v3.62h-10.81zM112.35 174.98h5.41v3.62h-5.41zM123.16 174.98h5.41v3.62h-5.41zM188.03 174.98h5.41v3.62h-5.41zM204.25 174.98h5.41v3.62h-5.41zM220.47 174.98h5.41v3.62h-5.41zM242.09 174.98h10.81v3.62h-10.81zM301.56 174.98h10.81v3.62h-10.81zM323.18 174.98h5.41v3.62h-5.41zM474.55 174.98h5.41v3.62h-5.41zM101.54 178.59h5.41v3.62h-5.41zM117.75 178.59h10.81v3.62h-10.81zM198.84 178.59h5.41v3.62h-5.41zM209.66 178.59h16.22v3.62h-16.22zM242.09 178.59h10.81v3.62h-10.81zM301.56 178.59h16.22v3.62h-16.22zM323.18 178.59h5.41v3.62h-5.41zM96.13 182.21h5.41v3.62h-5.41zM117.75 182.21h5.41v3.62h-5.41zM166.41 182.21h5.41v3.62h-5.41zM193.44 182.21h5.41v3.62h-5.41zM220.47 182.21h5.41v3.62h-5.41zM252.90 182.21h5.41v3.62h-5.41zM269.12 182.21h10.81v3.62h-10.81zM290.75 182.21h5.41v3.62h-5.41zM301.56 182.21h10.81v3.62h-10.81zM317.78 182.21h10.81v3.62h-10.81zM479.96 182.21h5.41v3.62h-5.41zM117.75 185.83h10.81v3.62h-10.81zM193.44 185.83h5.41v3.62h-5.41zM204.25 185.83h5.41v3.62h-5.41zM220.47 185.83h5.41v3.62h-5.41zM263.72 185.83h5.41v3.62h-5.41zM301.56 185.83h16.22v3.62h-16.22zM328.59 185.83h5.41v3.62h-5.41zM96.13 189.44h10.81v3.62h-10.81zM112.35 189.44h5.41v3.62h-5.41zM123.16 189.44h5.41v3.62h-5.41zM177.22 189.44h27.03v3.62h-27.03zM215.06 189.44h10.81v3.62h-10.81zM252.90 189.44h10.81v3.62h-10.81zM301.56 189.44h32.44v3.62h-32.44zM101.54 193.06h5.41v3.62h-5.41zM112.35 193.06h10.81v3.62h-10.81zM161.00 193.06h5.41v3.62h-5.41zM177.22 193.06h37.84v3.62h-37.84zM220.47 193.06h5.41v3.62h-5.41zM247.50 193.06h5.41v3.62h-5.41zM258.31 193.06h5.41v3.62h-5.41zM290.75 193.06h5.41v3.62h-5.41zM301.56 193.06h32.44v3.62h-32.44zM101.54 196.68h5.41v3.62h-5.41zM112.35 196.68h5.41v3.62h-5.41zM198.84 196.68h10.81v3.62h-10.81zM220.47 196.68h5.41v3.62h-5.41zM242.09 196.68h10.81v3.62h-10.81zM301.56 196.68h10.81v3.62h-10.81zM323.18 196.68h10.81v3.62h-10.81zM112.35 200.30h10.81v3.62h-10.81zM204.25 200.30h5.41v3.62h-5.41zM215.06 200.30h10.81v3.62h-10.81zM247.50 200.30h5.41v3.62h-5.41zM263.72 200.30h5.41v3.62h-5.41zM301.56 200.30h10.81v3.62h-10.81zM317.78 200.30h16.22v3.62h-16.22zM117.75 203.91h10.81v3.62h-10.81zM188.03 203.91h16.22v3.62h-16.22zM220.47 203.91h5.41v3.62h-5.41zM242.09 203.91h10.81v3.62h-10.81zM274.53 203.91h5.41v3.62h-5.41zM323.18 203.91h5.41v3.62h-5.41zM96.13 207.53h10.81v3.62h-10.81zM112.35 207.53h10.81v3.62h-10.81zM182.63 207.53h16.22v3.62h-16.22zM204.25 207.53h10.81v3.62h-10.81zM220.47 207.53h5.41v3.62h-5.41zM247.50 207.53h21.62v3.62h-21.62zM279.93 207.53h5.41v3.62h-5.41zM323.18 207.53h10.81v3.62h-10.81zM128.57 211.15h5.41v3.62h-5.41zM182.63 211.15h5.41v3.62h-5.41zM193.44 211.15h5.41v3.62h-5.41zM204.25 211.15h5.41v3.62h-5.41zM220.47 211.15h5.41v3.62h-5.41zM242.09 211.15h10.81v3.62h-10.81zM274.53 211.15h32.44v3.62h-32.44zM312.37 211.15h21.62v3.62h-21.62zM128.57 214.76h5.41v3.62h-5.41zM144.78 214.76h5.41v3.62h-5.41zM161.00 214.76h10.81v3.62h-10.81zM188.03 214.76h5.41v3.62h-5.41zM198.84 214.76h10.81v3.62h-10.81zM215.06 214.76h5.41v3.62h-5.41zM247.50 214.76h10.81v3.62h-10.81zM279.93 214.76h5.41v3.62h-5.41zM290.75 214.76h27.03v3.62h-27.03zM328.59 214.76h5.41v3.62h-5.41zM144.78 218.38h10.81v3.62h-10.81zM161.00 218.38h10.81v3.62h-10.81zM242.09 218.38h5.41v3.62h-5.41zM252.90 218.38h5.41v3.62h-5.41zM263.72 218.38h5.41v3.62h-5.41zM285.34 218.38h16.22v3.62h-16.22zM306.96 218.38h10.81v3.62h-10.81zM323.18 218.38h5.41v3.62h-5.41zM128.57 222.00h5.41v3.62h-5.41zM209.66 222.00h16.22v3.62h-16.22zM263.72 222.00h10.81v3.62h-10.81zM290.75 222.00h21.62v3.62h-21.62zM323.18 222.00h5.41v3.62h-5.41zM123.16 225.61h16.22v3.62h-16.22zM161.00 225.61h5.41v3.62h-5.41zM204.25 225.61h16.22v3.62h-16.22zM242.09 225.61h10.81v3.62h-10.81zM258.31 225.61h5.41v3.62h-5.41zM269.12 225.61h10.81v3.62h-10.81zM296.15 225.61h5.41v3.62h-5.41zM312.37 225.61h5.41v3.62h-5.41zM128.57 229.23h10.81v3.62h-10.81zM144.78 229.23h32.44v3.62h-32.44zM204.25 229.23h21.62v3.62h-21.62zM242.09 229.23h10.81v3.62h-10.81zM301.56 229.23h10.81v3.62h-10.81zM123.16 232.85h16.22v3.62h-16.22zM182.63 232.85h5.41v3.62h-5.41zM204.25 232.85h32.44v3.62h-32.44zM242.09 232.85h27.03v3.62h-27.03zM274.53 232.85h5.41v3.62h-5.41zM312.37 232.85h5.41v3.62h-5.41zM323.18 232.85h5.41v3.62h-5.41zM128.57 236.46h10.81v3.62h-10.81zM155.60 236.46h21.62v3.62h-21.62zM204.25 236.46h5.41v3.62h-5.41zM220.47 236.46h10.81v3.62h-10.81zM242.09 236.46h5.41v3.62h-5.41zM312.37 236.46h5.41v3.62h-5.41zM328.59 236.46h5.41v3.62h-5.41zM106.94 240.08h5.41v3.62h-5.41zM128.57 240.08h10.81v3.62h-10.81zM144.78 240.08h5.41v3.62h-5.41zM182.63 240.08h5.41v3.62h-5.41zM193.44 240.08h5.41v3.62h-5.41zM215.06 240.08h10.81v3.62h-10.81zM242.09 240.08h10.81v3.62h-10.81zM285.34 240.08h5.41v3.62h-5.41zM306.96 240.08h16.22v3.62h-16.22zM128.57 243.70h16.22v3.62h-16.22zM155.60 243.70h5.41v3.62h-5.41zM220.47 243.70h5.41v3.62h-5.41zM236.69 243.70h10.81v3.62h-10.81zM258.31 243.70h5.41v3.62h-5.41zM296.15 243.70h5.41v3.62h-5.41zM306.96 243.70h5.41v3.62h-5.41zM328.59 243.70h5.41v3.62h-5.41zM133.97 247.32h5.41v3.62h-5.41zM150.19 247.32h5.41v3.62h-5.41zM166.41 247.32h5.41v3.62h-5.41zM220.47 247.32h5.41v3.62h-5.41zM242.09 247.32h10.81v3.62h-10.81zM279.93 247.32h5.41v3.62h-5.41zM312.37 247.32h5.41v3.62h-5.41zM328.59 247.32h5.41v3.62h-5.41zM344.81 247.32h5.41v3.62h-5.41zM112.35 250.93h5.41v3.62h-5.41zM123.16 250.93h5.41v3.62h-5.41zM193.44 250.93h10.81v3.62h-10.81zM215.06 250.93h10.81v3.62h-10.81zM242.09 250.93h5.41v3.62h-5.41zM279.93 250.93h10.81v3.62h-10.81zM301.56 250.93h5.41v3.62h-5.41zM312.37 250.93h5.41v3.62h-5.41zM112.35 254.55h5.41v3.62h-5.41zM198.84 254.55h5.41v3.62h-5.41zM220.47 254.55h5.41v3.62h-5.41zM242.09 254.55h5.41v3.62h-5.41zM285.34 254.55h16.22v3.62h-16.22zM306.96 254.55h16.22v3.62h-16.22zM333.99 254.55h16.22v3.62h-16.22zM182.63 258.17h27.03v3.62h-27.03zM215.06 258.17h5.41v3.62h-5.41zM242.09 258.17h10.81v3.62h-10.81zM296.15 258.17h21.62v3.62h-21.62zM323.18 258.17h10.81v3.62h-10.81zM355.62 258.17h10.81v3.62h-10.81zM485.36 258.17h5.41v3.62h-5.41zM112.35 261.78h5.41v3.62h-5.41zM188.03 261.78h5.41v3.62h-5.41zM209.66 261.78h5.41v3.62h-5.41zM242.09 261.78h10.81v3.62h-10.81zM312.37 261.78h5.41v3.62h-5.41zM106.94 265.40h5.41v3.62h-5.41zM123.16 265.40h5.41v3.62h-5.41zM182.63 265.40h21.62v3.62h-21.62zM220.47 265.40h5.41v3.62h-5.41zM242.09 265.40h5.41v3.62h-5.41zM279.93 265.40h16.22v3.62h-16.22zM301.56 265.40h10.81v3.62h-10.81zM323.18 265.40h10.81v3.62h-10.81zM388.05 265.40h5.41v3.62h-5.41zM128.57 269.02h10.81v3.62h-10.81zM209.66 269.02h54.06v3.62h-54.06zM269.12 269.02h37.84v3.62h-37.84zM312.37 269.02h5.41v3.62h-5.41zM328.59 269.02h5.41v3.62h-5.41zM128.57 272.63h10.81v3.62h-10.81zM144.78 272.63h5.41v3.62h-5.41zM161.00 272.63h16.22v3.62h-16.22zM188.03 272.63h5.41v3.62h-5.41zM204.25 272.63h81.09v3.62h-81.09zM290.75 272.63h16.22v3.62h-16.22zM128.57 276.25h16.22v3.62h-16.22zM188.03 276.25h5.41v3.62h-5.41zM204.25 276.25h10.81v3.62h-10.81zM220.47 276.25h5.41v3.62h-5.41zM242.09 276.25h10.81v3.62h-10.81zM263.72 276.25h27.03v3.62h-27.03zM301.56 276.25h10.81v3.62h-10.81zM128.57 279.87h32.44v3.62h-32.44zM171.81 279.87h5.41v3.62h-5.41zM188.03 279.87h5.41v3.62h-5.41zM204.25 279.87h16.22v3.62h-16.22zM225.87 279.87h10.81v3.62h-10.81zM242.09 279.87h5.41v3.62h-5.41zM252.90 279.87h16.22v3.62h-16.22zM279.93 279.87h37.84v3.62h-37.84zM128.57 283.49h5.41v3.62h-5.41zM150.19 283.49h5.41v3.62h-5.41zM182.63 283.49h43.25v3.62h-43.25zM236.69 283.49h5.41v3.62h-5.41zM247.50 283.49h5.41v3.62h-5.41zM274.53 283.49h21.62v3.62h-21.62zM306.96 283.49h5.41v3.62h-5.41zM317.78 283.49h5.41v3.62h-5.41zM128.57 287.10h16.22v3.62h-16.22zM150.19 287.10h5.41v3.62h-5.41zM166.41 287.10h5.41v3.62h-5.41zM204.25 287.10h10.81v3.62h-10.81zM220.47 287.10h5.41v3.62h-5.41zM258.31 287.10h5.41v3.62h-5.41zM269.12 287.10h16.22v3.62h-16.22zM296.15 287.10h10.81v3.62h-10.81zM177.22 290.72h5.41v3.62h-5.41zM188.03 290.72h21.62v3.62h-21.62zM242.09 290.72h5.41v3.62h-5.41zM252.90 290.72h16.22v3.62h-16.22zM274.53 290.72h10.81v3.62h-10.81zM290.75 290.72h10.81v3.62h-10.81zM306.96 290.72h10.81v3.62h-10.81zM128.57 294.34h5.41v3.62h-5.41zM139.38 294.34h10.81v3.62h-10.81zM182.63 294.34h10.81v3.62h-10.81zM204.25 294.34h10.81v3.62h-10.81zM220.47 294.34h5.41v3.62h-5.41zM242.09 294.34h5.41v3.62h-5.41zM252.90 294.34h5.41v3.62h-5.41zM263.72 294.34h5.41v3.62h-5.41zM279.93 294.34h10.81v3.62h-10.81zM296.15 294.34h10.81v3.62h-10.81zM312.37 294.34h10.81v3.62h-10.81zM328.59 294.34h5.41v3.62h-5.41zM198.84 297.95h21.62v3.62h-21.62zM301.56 297.95h5.41v3.62h-5.41zM469.14 297.95h5.41v3.62h-5.41zM128.57 301.57h5.41v3.62h-5.41zM209.66 301.57h5.41v3.62h-5.41zM220.47 301.57h5.41v3.62h-5.41zM274.53 301.57h5.41v3.62h-5.41zM144.78 305.19h5.41v3.62h-5.41zM155.60 305.19h5.41v3.62h-5.41zM166.41 305.19h5.41v3.62h-5.41zM198.84 305.19h10.81v3.62h-10.81zM225.87 305.19h10.81v3.62h-10.81zM247.50 305.19h5.41v3.62h-5.41zM279.93 305.19h16.22v3.62h-16.22zM301.56 305.19h5.41v3.62h-5.41zM312.37 305.19h10.81v3.62h-10.81zM355.62 305.19h5.41v3.62h-5.41zM69.10 308.81h10.81v3.62h-10.81zM139.38 308.81h5.41v3.62h-5.41zM155.60 308.81h5.41v3.62h-5.41zM171.81 308.81h10.81v3.62h-10.81zM204.25 308.81h5.41v3.62h-5.41zM247.50 308.81h5.41v3.62h-5.41zM290.75 308.81h10.81v3.62h-10.81zM317.78 308.81h10.81v3.62h-10.81zM361.02 308.81h5.41v3.62h-5.41zM279.93 312.42h21.62v3.62h-21.62zM323.18 312.42h5.41v3.62h-5.41zM128.57 316.04h5.41v3.62h-5.41zM193.44 316.04h5.41v3.62h-5.41zM215.06 316.04h5.41v3.62h-5.41zM252.90 316.04h5.41v3.62h-5.41zM269.12 316.04h5.41v3.62h-5.41zM317.78 316.04h5.41v3.62h-5.41zM333.99 316.04h16.22v3.62h-16.22zM479.96 316.04h5.41v3.62h-5.41zM242.09 319.66h32.44v3.62h-32.44zM285.34 319.66h16.22v3.62h-16.22zM317.78 319.66h5.41v3.62h-5.41zM339.40 319.66h10.81v3.62h-10.81zM161.00 323.27h5.41v3.62h-5.41zM225.87 323.27h5.41v3.62h-5.41zM242.09 323.27h5.41v3.62h-5.41zM274.53 323.27h5.41v3.62h-5.41zM204.25 326.89h5.41v3.62h-5.41zM247.50 326.89h5.41v3.62h-5.41zM285.34 326.89h5.41v3.62h-5.41zM312.37 326.89h5.41v3.62h-5.41zM323.18 326.89h5.41v3.62h-5.41zM479.96 326.89h5.41v3.62h-5.41zM69.10 330.51h5.41v3.62h-5.41zM96.13 330.51h5.41v3.62h-5.41zM209.66 330.51h5.41v3.62h-5.41zM274.53 330.51h10.81v3.62h-10.81zM312.37 330.51h10.81v3.62h-10.81zM339.40 330.51h5.41v3.62h-5.41zM355.62 330.51h10.81v3.62h-10.81zM69.10 334.12h5.41v3.62h-5.41zM90.72 334.12h5.41v3.62h-5.41zM204.25 334.12h5.41v3.62h-5.41zM312.37 334.12h5.41v3.62h-5.41zM339.40 334.12h5.41v3.62h-5.41zM215.06 337.74h5.41v3.62h-5.41zM242.09 337.74h10.81v3.62h-10.81zM279.93 337.74h5.41v3.62h-5.41zM306.96 337.74h5.41v3.62h-5.41zM388.05 337.74h5.41v3.62h-5.41zM415.08 337.74h5.41v3.62h-5.41zM485.36 337.74h5.41v3.62h-5.41zM106.94 341.36h5.41v3.62h-5.41zM188.03 341.36h5.41v3.62h-5.41zM306.96 341.36h5.41v3.62h-5.41zM377.24 341.36h5.41v3.62h-5.41zM442.11 341.36h5.41v3.62h-5.41zM458.33 341.36h10.81v3.62h-10.81zM182.63 344.97h16.22v3.62h-16.22zM215.06 344.97h5.41v3.62h-5.41zM242.09 344.97h16.22v3.62h-16.22zM306.96 344.97h10.81v3.62h-10.81zM139.38 348.59h5.41v3.62h-5.41zM171.81 348.59h5.41v3.62h-5.41zM204.25 348.59h5.41v3.62h-5.41zM252.90 348.59h5.41v3.62h-5.41zM263.72 348.59h5.41v3.62h-5.41zM409.68 348.59h5.41v3.62h-5.41zM447.52 348.59h5.41v3.62h-5.41zM463.74 348.59h5.41v3.62h-5.41zM133.97 352.21h5.41v3.62h-5.41zM144.78 352.21h10.81v3.62h-10.81zM252.90 352.21h5.41v3.62h-5.41zM425.90 352.21h5.41v3.62h-5.41zM452.93 352.21h5.41v3.62h-5.41zM139.38 355.83h5.41v3.62h-5.41zM188.03 355.83h5.41v3.62h-5.41zM204.25 355.83h5.41v3.62h-5.41zM236.69 355.83h5.41v3.62h-5.41zM252.90 355.83h5.41v3.62h-5.41zM382.65 355.83h5.41v3.62h-5.41zM485.36 355.83h5.41v3.62h-5.41zM133.97 359.44h5.41v3.62h-5.41zM144.78 359.44h5.41v3.62h-5.41zM155.60 359.44h5.41v3.62h-5.41zM166.41 359.44h10.81v3.62h-10.81zM198.84 359.44h5.41v3.62h-5.41zM215.06 359.44h10.81v3.62h-10.81zM242.09 359.44h10.81v3.62h-10.81zM258.31 359.44h10.81v3.62h-10.81zM361.02 359.44h5.41v3.62h-5.41zM139.38 363.06h32.44v3.62h-32.44zM198.84 363.06h5.41v3.62h-5.41zM225.87 363.06h10.81v3.62h-10.81zM242.09 363.06h27.03v3.62h-27.03zM274.53 363.06h5.41v3.62h-5.41zM333.99 366.68h5.41v3.62h-5.41z"/>
<path fill="#b9bcfc" d="M350.21 77.32h5.41v3.62h-5.41zM215.06 254.55h5.41v3.62h-5.41zM204.25 319.66h5.41v3.62h-5.41z"/>
<path fill="#eeecfa" d="M371.84 77.32h5.41v3.62h-5.41zM398.87 80.93h5.41v3.62h-5.41zM409.68 95.40h5.41v3.62h-5.41zM182.63 109.87h5.41v3.62h-5.41zM123.16 113.49h5.41v3.62h-5.41zM177.22 113.49h5.41v3.62h-5.41zM188.03 113.49h10.81v3.62h-10.81zM171.81 117.10h5.41v3.62h-5.41zM339.40 120.72h5.41v3.62h-5.41zM155.60 124.34h5.41v3.62h-5.41zM171.81 127.96h5.41v3.62h-5.41zM231.28 153.27h5.41v3.62h-5.41zM171.81 156.89h5.41v3.62h-5.41zM117.75 160.51h5.41v3.62h-5.41zM231.28 160.51h5.41v3.62h-5.41zM96.13 164.12h5.41v3.62h-5.41zM177.22 164.12h5.41v3.62h-5.41zM128.57 167.74h5.41v3.62h-5.41zM150.19 167.74h5.41v3.62h-5.41zM128.57 171.36h5.41v3.62h-5.41zM333.99 171.36h5.41v3.62h-5.41zM393.46 171.36h5.41v3.62h-5.41zM166.41 174.98h5.41v3.62h-5.41zM333.99 174.98h5.41v3.62h-5.41zM90.72 178.59h5.41v3.62h-5.41zM171.81 178.59h5.41v3.62h-5.41zM333.99 178.59h5.41v3.62h-5.41zM133.97 182.21h5.41v3.62h-5.41zM155.60 182.21h5.41v3.62h-5.41zM333.99 182.21h5.41v3.62h-5.41zM474.55 182.21h5.41v3.62h-5.41zM155.60 185.83h5.41v3.62h-5.41zM133.97 189.44h5.41v3.62h-5.41zM139.38 193.06h5.41v3.62h-5.41zM150.19 193.06h5.41v3.62h-5.41zM139.38 196.68h16.22v3.62h-16.22zM231.28 196.68h5.41v3.62h-5.41zM155.60 200.30h5.41v3.62h-5.41zM171.81 203.91h5.41v3.62h-5.41zM139.38 207.53h5.41v3.62h-5.41zM155.60 207.53h10.81v3.62h-10.81zM474.55 218.38h5.41v3.62h-5.41zM112.35 247.32h5.41v3.62h-5.41zM339.40 258.17h5.41v3.62h-5.41zM128.57 261.78h5.41v3.62h-5.41zM344.81 308.81h5.41v3.62h-5.41zM355.62 308.81h5.41v3.62h-5.41zM133.97 323.27h5.41v3.62h-5.41zM469.14 323.27h5.41v3.62h-5.41zM247.50 330.51h5.41v3.62h-5.41zM96.13 334.12h5.41v3.62h-5.41zM139.38 341.36h5.41v3.62h-5.41zM166.41 341.36h5.41v3.62h-5.41zM296.15 344.97h5.41v3.62h-5.41zM420.49 355.83h5.41v3.62h-5.41zM285.34 359.44h5.41v3.62h-5.41z"/>
<path fill="#f2effa" d="M377.24 77.32h5.41v3.62h-5.41zM101.54 80.93h5.41v3.62h-5.41zM306.96 80.93h5.41v3.62h-5.41zM117.75 84.55h5.41v3.62h-5.41zM220.47 88.17h5.41v3.62h-5.41zM404.27 95.40h5.41v3.62h-5.41zM171.81 99.02h5.41v3.62h-5.41zM242.09 99.02h5.41v3.62h-5.41zM193.44 106.25h5.41v3.62h-5.41zM171.81 124.34h5.41v3.62h-5.41zM339.40 124.34h5.41v3.62h-5.41zM339.40 127.96h5.41v3.62h-5.41zM339.40 131.57h5.41v3.62h-5.41zM161.00 146.04h5.41v3.62h-5.41zM171.81 149.66h5.41v3.62h-5.41zM106.94 153.27h5.41v3.62h-5.41zM123.16 153.27h5.41v3.62h-5.41zM123.16 156.89h5.41v3.62h-5.41zM90.72 160.51h5.41v3.62h-5.41zM177.22 160.51h5.41v3.62h-5.41zM339.40 160.51h5.41v3.62h-5.41zM155.60 167.74h5.41v3.62h-5.41zM177.22 167.74h5.41v3.62h-5.41zM171.81 171.36h5.41v3.62h-5.41zM231.28 171.36h5.41v3.62h-5.41zM90.72 182.21h5.41v3.62h-5.41zM90.72 185.83h5.41v3.62h-5.41zM133.97 185.83h5.41v3.62h-5.41zM133.97 193.06h5.41v3.62h-5.41zM133.97 196.68h5.41v3.62h-5.41zM139.38 200.30h5.41v3.62h-5.41zM150.19 200.30h5.41v3.62h-5.41zM231.28 200.30h5.41v3.62h-5.41zM133.97 203.91h27.03v3.62h-27.03zM144.78 207.53h10.81v3.62h-10.81zM231.28 214.76h5.41v3.62h-5.41zM112.35 218.38h5.41v3.62h-5.41zM479.96 225.61h5.41v3.62h-5.41zM474.55 229.23h5.41v3.62h-5.41zM101.54 232.85h5.41v3.62h-5.41zM339.40 232.85h5.41v3.62h-5.41zM474.55 240.08h5.41v3.62h-5.41zM117.75 243.70h5.41v3.62h-5.41zM101.54 250.93h5.41v3.62h-5.41zM123.16 254.55h5.41v3.62h-5.41zM96.13 261.78h5.41v3.62h-5.41zM333.99 269.02h5.41v3.62h-5.41zM123.16 276.25h5.41v3.62h-5.41zM339.40 276.25h5.41v3.62h-5.41zM123.16 279.87h5.41v3.62h-5.41zM112.35 301.57h5.41v3.62h-5.41zM220.47 308.81h5.41v3.62h-5.41zM161.00 316.04h5.41v3.62h-5.41zM393.46 323.27h5.41v3.62h-5.41zM150.19 326.89h5.41v3.62h-5.41zM161.00 326.89h10.81v3.62h-10.81zM79.91 330.51h5.41v3.62h-5.41zM220.47 330.51h5.41v3.62h-5.41zM242.09 330.51h5.41v3.62h-5.41zM242.09 334.12h5.41v3.62h-5.41zM333.99 344.97h5.41v3.62h-5.41zM479.96 344.97h5.41v3.62h-5.41zM344.81 352.21h5.41v3.62h-5.41zM339.40 355.83h5.41v3.62h-5.41zM415.08 355.83h5.41v3.62h-5.41zM333.99 359.44h5.41v3.62h-5.41z"/>
<path fill="#f7e7ee" d="M447.52 77.32h5.41v3.62h-5.41zM79.91 88.17h5.41v3.62h-5.41zM198.84 95.40h5.41v3.62h-5.41zM96.13 117.10h5.41v3.62h-5.41zM469.14 124.34h5.41v3.62h-5.41zM469.14 127.96h5.41v3.62h-5.41zM106.94 135.19h5.41v3.62h-5.41zM106.94 138.81h5.41v3.62h-5.41zM469.14 149.66h5.41v3.62h-5.41zM469.14 160.51h5.41v3.62h-5.41zM393.46 164.12h5.41v3.62h-5.41zM339.40 167.74h5.41v3.62h-5.41zM133.97 174.98h5.41v3.62h-5.41zM393.46 178.59h5.41v3.62h-5.41zM339.40 182.21h5.41v3.62h-5.41zM355.62 185.83h5.41v3.62h-5.41zM90.72 196.68h5.41v3.62h-5.41zM90.72 200.30h5.41v3.62h-5.41zM90.72 203.91h5.41v3.62h-5.41zM344.81 218.38h5.41v3.62h-5.41zM344.81 240.08h5.41v3.62h-5.41zM85.32 250.93h5.41v3.62h-5.41zM474.55 265.40h5.41v3.62h-5.41zM344.81 276.25h5.41v3.62h-5.41zM469.14 305.19h5.41v3.62h-5.41zM350.21 326.89h5.41v3.62h-5.41zM382.65 326.89h5.41v3.62h-5.41zM425.90 341.36h5.41v3.62h-5.41zM436.71 341.36h5.41v3.62h-5.41zM344.81 344.97h5.41v3.62h-5.41zM344.81 348.59h5.41v3.62h-5.41zM333.99 352.21h5.41v3.62h-5.41zM361.02 352.21h5.41v3.62h-5.41zM420.49 363.06h5.41v3.62h-5.41z"/>
<path fill="#f6eaf1" d="M458.33 77.32h5.41v3.62h-5.41zM204.25 84.55h5.41v3.62h-5.41zM269.12 91.78h5.41v3.62h-5.41zM96.13 113.49h5.41v3.62h-5.41zM469.14 120.72h5.41v3.62h-5.41zM90.72 156.89h10.81v3.62h-10.81zM388.05 182.21h5.41v3.62h-5.41zM479.96 189.44h5.41v3.62h-5.41zM339.40 196.68h10.81v3.62h-10.81zM355.62 200.30h5.41v3.62h-5.41zM344.81 211.15h5.41v3.62h-5.41zM479.96 236.46h5.41v3.62h-5.41zM90.72 247.32h5.41v3.62h-5.41zM144.78 250.93h5.41v3.62h-5.41zM474.55 254.55h5.41v3.62h-5.41zM123.16 258.17h5.41v3.62h-5.41zM139.38 258.17h5.41v3.62h-5.41zM344.81 258.17h10.81v3.62h-10.81zM474.55 258.17h5.41v3.62h-5.41zM90.72 261.78h5.41v3.62h-5.41zM469.14 294.34h5.41v3.62h-5.41zM404.27 297.95h5.41v3.62h-5.41zM420.49 323.27h5.41v3.62h-5.41zM171.81 326.89h5.41v3.62h-5.41zM161.00 337.74h5.41v3.62h-5.41zM236.69 337.74h5.41v3.62h-5.41zM323.18 348.59h5.41v3.62h-5.41zM415.08 359.44h5.41v3.62h-5.41zM436.71 359.44h5.41v3.62h-5.41zM474.55 359.44h5.41v3.62h-5.41z"/>
<path fill="#f5eff7" d="M79.91 80.93h5.41v3.62h-5.41zM106.94 84.55h5.41v3.62h-5.41zM123.16 84.55h5.41v3.62h-5.41zM382.65 91.78h5.41v3.62h-5.41zM117.75 102.64h5.41v3.62h-5.41zM171.81 102.64h5.41v3.62h-5.41zM188.03 102.64h5.41v3.62h-5.41zM117.75 113.49h5.41v3.62h-5.41zM469.14 113.49h5.41v3.62h-5.41zM112.35 146.04h5.41v3.62h-5.41zM123.16 149.66h5.41v3.62h-5.41zM171.81 167.74h5.41v3.62h-5.41zM388.05 178.59h5.41v3.62h-5.41zM90.72 189.44h5.41v3.62h-5.41zM166.41 203.91h5.41v3.62h-5.41zM474.55 203.91h5.41v3.62h-5.41zM112.35 214.76h5.41v3.62h-5.41zM123.16 214.76h5.41v3.62h-5.41zM474.55 236.46h5.41v3.62h-5.41zM90.72 250.93h5.41v3.62h-5.41zM101.54 254.55h5.41v3.62h-5.41zM128.57 258.17h5.41v3.62h-5.41zM123.16 261.78h5.41v3.62h-5.41zM139.38 261.78h5.41v3.62h-5.41zM171.81 261.78h5.41v3.62h-5.41zM106.94 269.02h5.41v3.62h-5.41zM339.40 272.63h5.41v3.62h-5.41zM339.40 279.87h5.41v3.62h-5.41zM409.68 297.95h5.41v3.62h-5.41zM469.14 312.42h5.41v3.62h-5.41zM155.60 316.04h5.41v3.62h-5.41zM139.38 326.89h5.41v3.62h-5.41zM339.40 344.97h5.41v3.62h-5.41zM404.27 344.97h5.41v3.62h-5.41zM339.40 348.59h5.41v3.62h-5.41zM323.18 355.83h5.41v3.62h-5.41zM452.93 363.06h5.41v3.62h-5.41z"/>
<path fill="#e8e6fa" d="M90.72 80.93h5.41v3.62h-5.41zM317.78 84.55h5.41v3.62h-5.41zM198.84 99.02h5.41v3.62h-5.41zM198.84 102.64h5.41v3.62h-5.41zM355.62 102.64h5.41v3.62h-5.41zM101.54 106.25h5.41v3.62h-5.41zM231.28 106.25h5.41v3.62h-5.41zM177.22 109.87h5.41v3.62h-5.41zM123.16 117.10h5.41v3.62h-5.41zM155.60 117.10h5.41v3.62h-5.41zM139.38 120.72h5.41v3.62h-5.41zM231.28 124.34h5.41v3.62h-5.41zM139.38 127.96h5.41v3.62h-5.41zM231.28 127.96h5.41v3.62h-5.41zM150.19 138.81h5.41v3.62h-5.41zM231.28 138.81h5.41v3.62h-5.41zM339.40 138.81h5.41v3.62h-5.41zM166.41 146.04h5.41v3.62h-5.41zM236.69 149.66h5.41v3.62h-5.41zM177.22 153.27h5.41v3.62h-5.41zM150.19 156.89h5.41v3.62h-5.41zM123.16 160.51h5.41v3.62h-5.41zM150.19 160.51h5.41v3.62h-5.41zM236.69 164.12h5.41v3.62h-5.41zM101.54 167.74h5.41v3.62h-5.41zM166.41 171.36h5.41v3.62h-5.41zM177.22 171.36h5.41v3.62h-5.41zM236.69 171.36h5.41v3.62h-5.41zM128.57 174.98h5.41v3.62h-5.41zM139.38 178.59h5.41v3.62h-5.41zM231.28 178.59h5.41v3.62h-5.41zM155.60 193.06h5.41v3.62h-5.41zM225.87 203.91h5.41v3.62h-5.41zM133.97 207.53h5.41v3.62h-5.41zM474.55 207.53h5.41v3.62h-5.41zM150.19 211.15h10.81v3.62h-10.81zM474.55 214.76h5.41v3.62h-5.41zM177.22 218.38h5.41v3.62h-5.41zM106.94 222.00h5.41v3.62h-5.41zM333.99 222.00h5.41v3.62h-5.41zM193.44 225.61h5.41v3.62h-5.41zM474.55 225.61h5.41v3.62h-5.41zM117.75 232.85h5.41v3.62h-5.41zM339.40 240.08h5.41v3.62h-5.41zM123.16 243.70h5.41v3.62h-5.41zM117.75 250.93h5.41v3.62h-5.41zM112.35 258.17h5.41v3.62h-5.41zM101.54 261.78h5.41v3.62h-5.41zM479.96 261.78h5.41v3.62h-5.41zM144.78 265.40h27.03v3.62h-27.03zM333.99 276.25h5.41v3.62h-5.41zM479.96 294.34h5.41v3.62h-5.41zM112.35 305.19h5.41v3.62h-5.41zM166.41 319.66h5.41v3.62h-5.41zM333.99 319.66h5.41v3.62h-5.41zM236.69 323.27h5.41v3.62h-5.41zM474.55 326.89h5.41v3.62h-5.41zM469.14 330.51h5.41v3.62h-5.41zM231.28 341.36h5.41v3.62h-5.41zM133.97 344.97h5.41v3.62h-5.41zM463.74 344.97h5.41v3.62h-5.41zM350.21 352.21h5.41v3.62h-5.41zM290.75 355.83h5.41v3.62h-5.41zM188.03 363.06h5.41v3.62h-5.41z"/>
<path fill="#f00a0a" d="M133.97 80.93h5.41v3.62h-5.41zM150.19 80.93h5.41v3.62h-5.41zM144.78 84.55h16.22v3.62h-16.22zM85.32 88.17h10.81v3.62h-10.81zM112.35 88.17h5.41v3.62h-5.41zM123.16 88.17h5.41v3.62h-5.41zM382.65 88.17h10.81v3.62h-10.81zM404.27 88.17h10.81v3.62h-10.81zM225.87 95.40h16.22v3.62h-16.22zM225.87 99.02h10.81v3.62h-10.81zM366.43 102.64h16.22v3.62h-16.22zM420.49 102.64h5.41v3.62h-5.41zM442.11 102.64h5.41v3.62h-5.41zM366.43 106.25h16.22v3.62h-16.22zM420.49 106.25h5.41v3.62h-5.41zM442.11 106.25h5.41v3.62h-5.41zM366.43 109.87h16.22v3.62h-16.22zM420.49 109.87h5.41v3.62h-5.41zM442.11 109.87h5.41v3.62h-5.41zM350.21 113.49h5.41v3.62h-5.41zM366.43 113.49h16.22v3.62h-16.22zM420.49 113.49h5.41v3.62h-5.41zM431.30 113.49h5.41v3.62h-5.41zM442.11 113.49h10.81v3.62h-10.81zM350.21 117.10h5.41v3.62h-5.41zM366.43 117.10h10.81v3.62h-10.81zM420.49 117.10h5.41v3.62h-5.41zM442.11 117.10h5.41v3.62h-5.41zM366.43 120.72h16.22v3.62h-16.22zM420.49 120.72h5.41v3.62h-5.41zM431.30 120.72h5.41v3.62h-5.41zM442.11 120.72h5.41v3.62h-5.41zM350.21 124.34h5.41v3.62h-5.41zM366.43 124.34h16.22v3.62h-16.22zM420.49 124.34h5.41v3.62h-5.41zM442.11 124.34h5.41v3.62h-5.41zM350.21 127.96h5.41v3.62h-5.41zM366.43 127.96h16.22v3.62h-16.22zM420.49 127.96h5.41v3.62h-5.41zM442.11 127.96h10.81v3.62h-10.81zM350.21 131.57h5.41v3.62h-5.41zM366.43 131.57h16.22v3.62h-16.22zM420.49 131.57h5.41v3.62h-5.41zM442.11 131.57h5.41v3.62h-5.41zM366.43 135.19h16.22v3.62h-16.22zM388.05 135.19h5.41v3.62h-5.41zM420.49 135.19h5.41v3.62h-5.41zM442.11 135.19h5.41v3.62h-5.41zM74.51 138.81h5.41v3.62h-5.41zM350.21 138.81h5.41v3.62h-5.41zM366.43 138.81h16.22v3.62h-16.22zM420.49 138.81h5.41v3.62h-5.41zM442.11 138.81h5.41v3.62h-5.41zM350.21 142.42h5.41v3.62h-5.41zM366.43 142.42h21.62v3.62h-21.62zM420.49 142.42h5.41v3.62h-5.41zM442.11 142.42h5.41v3.62h-5.41zM350.21 146.04h5.41v3.62h-5.41zM366.43 146.04h16.22v3.62h-16.22zM420.49 146.04h5.41v3.62h-5.41zM442.11 146.04h5.41v3.62h-5.41zM366.43 149.66h16.22v3.62h-16.22zM420.49 149.66h5.41v3.62h-5.41zM442.11 149.66h5.41v3.62h-5.41zM366.43 153.27h10.81v3.62h-10.81zM388.05 153.27h5.41v3.62h-5.41zM420.49 153.27h5.41v3.62h-5.41zM442.11 153.27h5.41v3.62h-5.41zM366.43 156.89h10.81v3.62h-10.81zM420.49 156.89h5.41v3.62h-5.41zM442.11 156.89h5.41v3.62h-5.41zM366.43 160.51h10.81v3.62h-10.81zM388.05 160.51h5.41v3.62h-5.41zM420.49 160.51h5.41v3.62h-5.41zM442.11 160.51h5.41v3.62h-5.41zM366.43 164.12h16.22v3.62h-16.22zM420.49 164.12h5.41v3.62h-5.41zM442.11 164.12h10.81v3.62h-10.81zM463.74 164.12h5.41v3.62h-5.41zM366.43 167.74h10.81v3.62h-10.81zM420.49 167.74h5.41v3.62h-5.41zM442.11 167.74h10.81v3.62h-10.81zM463.74 167.74h5.41v3.62h-5.41zM366.43 171.36h16.22v3.62h-16.22zM420.49 171.36h5.41v3.62h-5.41zM442.11 171.36h10.81v3.62h-10.81zM463.74 171.36h5.41v3.62h-5.41zM350.21 174.98h5.41v3.62h-5.41zM366.43 174.98h10.81v3.62h-10.81zM420.49 174.98h5.41v3.62h-5.41zM442.11 174.98h5.41v3.62h-5.41zM463.74 174.98h5.41v3.62h-5.41zM366.43 178.59h5.41v3.62h-5.41zM420.49 178.59h5.41v3.62h-5.41zM442.11 178.59h5.41v3.62h-5.41zM463.74 178.59h5.41v3.62h-5.41zM366.43 182.21h10.81v3.62h-10.81zM409.68 182.21h5.41v3.62h-5.41zM420.49 182.21h5.41v3.62h-5.41zM442.11 182.21h10.81v3.62h-10.81zM463.74 182.21h5.41v3.62h-5.41zM366.43 185.83h16.22v3.62h-16.22zM420.49 185.83h5.41v3.62h-5.41zM442.11 185.83h10.81v3.62h-10.81zM463.74 185.83h5.41v3.62h-5.41zM366.43 189.44h10.81v3.62h-10.81zM442.11 189.44h10.81v3.62h-10.81zM463.74 189.44h5.41v3.62h-5.41zM366.43 193.06h10.81v3.62h-10.81zM420.49 193.06h10.81v3.62h-10.81zM442.11 193.06h10.81v3.62h-10.81zM463.74 193.06h5.41v3.62h-5.41zM366.43 196.68h10.81v3.62h-10.81zM425.90 196.68h5.41v3.62h-5.41zM436.71 196.68h32.44v3.62h-32.44zM366.43 200.30h10.81v3.62h-10.81zM420.49 200.30h5.41v3.62h-5.41zM442.11 200.30h10.81v3.62h-10.81zM463.74 200.30h5.41v3.62h-5.41zM366.43 203.91h10.81v3.62h-10.81zM420.49 203.91h48.65v3.62h-48.65zM371.84 207.53h5.41v3.62h-5.41zM420.49 207.53h5.41v3.62h-5.41zM442.11 207.53h5.41v3.62h-5.41zM463.74 207.53h5.41v3.62h-5.41zM366.43 211.15h16.22v3.62h-16.22zM420.49 211.15h5.41v3.62h-5.41zM442.11 211.15h5.41v3.62h-5.41zM463.74 211.15h5.41v3.62h-5.41zM366.43 214.76h16.22v3.62h-16.22zM420.49 214.76h5.41v3.62h-5.41zM442.11 214.76h5.41v3.62h-5.41zM463.74 214.76h5.41v3.62h-5.41zM366.43 218.38h10.81v3.62h-10.81zM420.49 218.38h5.41v3.62h-5.41zM442.11 218.38h5.41v3.62h-5.41zM463.74 218.38h5.41v3.62h-5.41zM366.43 222.00h10.81v3.62h-10.81zM420.49 222.00h5.41v3.62h-5.41zM442.11 222.00h5.41v3.62h-5.41zM463.74 222.00h5.41v3.62h-5.41zM366.43 225.61h16.22v3.62h-16.22zM420.49 225.61h5.41v3.62h-5.41zM442.11 225.61h10.81v3.62h-10.81zM463.74 225.61h5.41v3.62h-5.41zM366.43 229.23h16.22v3.62h-16.22zM420.49 229.23h5.41v3.62h-5.41zM442.11 229.23h5.41v3.62h-5.41zM463.74 229.23h5.41v3.62h-5.41zM79.91 232.85h5.41v3.62h-5.41zM366.43 232.85h16.22v3.62h-16.22zM420.49 232.85h5.41v3.62h-5.41zM442.11 232.85h5.41v3.62h-5.41zM463.74 232.85h5.41v3.62h-5.41zM366.43 236.46h16.22v3.62h-16.22zM420.49 236.46h5.41v3.62h-5.41zM442.11 236.46h10.81v3.62h-10.81zM463.74 236.46h5.41v3.62h-5.41zM69.10 240.08h5.41v3.62h-5.41zM79.91 240.08h5.41v3.62h-5.41zM366.43 240.08h10.81v3.62h-10.81zM442.11 240.08h10.81v3.62h-10.81zM463.74 240.08h5.41v3.62h-5.41zM350.21 243.70h5.41v3.62h-5.41zM366.43 243.70h16.22v3.62h-16.22zM420.49 243.70h5.41v3.62h-5.41zM442.11 243.70h5.41v3.62h-5.41zM463.74 243.70h5.41v3.62h-5.41zM366.43 247.32h16.22v3.62h-16.22zM420.49 247.32h5.41v3.62h-5.41zM442.11 247.32h5.41v3.62h-5.41zM366.43 250.93h5.41v3.62h-5.41zM420.49 250.93h5.41v3.62h-5.41zM442.11 250.93h5.41v3.62h-5.41zM366.43 254.55h5.41v3.62h-5.41zM382.65 254.55h10.81v3.62h-10.81zM420.49 254.55h5.41v3.62h-5.41zM366.43 258.17h16.22v3.62h-16.22zM463.74 258.17h5.41v3.62h-5.41zM366.43 261.78h16.22v3.62h-16.22zM442.11 261.78h5.41v3.62h-5.41zM463.74 261.78h5.41v3.62h-5.41zM366.43 265.40h5.41v3.62h-5.41zM74.51 269.02h5.41v3.62h-5.41zM366.43 269.02h10.81v3.62h-10.81zM69.10 272.63h5.41v3.62h-5.41zM366.43 272.63h16.22v3.62h-16.22zM366.43 276.25h5.41v3.62h-5.41zM366.43 279.87h16.22v3.62h-16.22zM366.43 283.49h16.22v3.62h-16.22zM74.51 287.10h5.41v3.62h-5.41zM350.21 287.10h5.41v3.62h-5.41zM361.02 287.10h21.62v3.62h-21.62zM366.43 290.72h16.22v3.62h-16.22zM96.13 294.34h10.81v3.62h-10.81zM366.43 294.34h16.22v3.62h-16.22zM96.13 297.95h10.81v3.62h-10.81zM117.75 297.95h5.41v3.62h-5.41zM366.43 297.95h16.22v3.62h-16.22zM366.43 301.57h16.22v3.62h-16.22zM366.43 305.19h16.22v3.62h-16.22zM420.49 305.19h5.41v3.62h-5.41zM431.30 305.19h21.62v3.62h-21.62zM90.72 308.81h16.22v3.62h-16.22zM366.43 308.81h16.22v3.62h-16.22zM420.49 308.81h5.41v3.62h-5.41zM79.91 312.42h5.41v3.62h-5.41zM366.43 312.42h16.22v3.62h-16.22zM420.49 312.42h5.41v3.62h-5.41zM409.68 316.04h5.41v3.62h-5.41zM420.49 316.04h5.41v3.62h-5.41zM90.72 319.66h5.41v3.62h-5.41zM382.65 319.66h5.41v3.62h-5.41zM101.54 323.27h5.41v3.62h-5.41zM117.75 323.27h5.41v3.62h-5.41zM350.21 323.27h16.22v3.62h-16.22zM431.30 323.27h5.41v3.62h-5.41zM366.43 326.89h16.22v3.62h-16.22zM177.22 330.51h16.22v3.62h-16.22zM382.65 334.12h10.81v3.62h-10.81zM177.22 337.74h16.22v3.62h-16.22zM350.21 337.74h5.41v3.62h-5.41zM366.43 337.74h16.22v3.62h-16.22zM420.49 337.74h5.41v3.62h-5.41zM442.11 337.74h27.03v3.62h-27.03zM404.27 341.36h5.41v3.62h-5.41zM350.21 344.97h5.41v3.62h-5.41zM74.51 348.59h16.22v3.62h-16.22zM96.13 348.59h5.41v3.62h-5.41zM366.43 348.59h16.22v3.62h-16.22zM388.05 348.59h5.41v3.62h-5.41zM90.72 352.21h10.81v3.62h-10.81zM106.94 352.21h21.62v3.62h-21.62zM74.51 355.83h5.41v3.62h-5.41zM96.13 355.83h5.41v3.62h-5.41zM112.35 355.83h16.22v3.62h-16.22zM69.10 359.44h5.41v3.62h-5.41zM74.51 363.06h16.22v3.62h-16.22zM96.13 363.06h5.41v3.62h-5.41zM112.35 363.06h16.22v3.62h-16.22zM371.84 363.06h5.41v3.62h-5.41zM371.84 366.68h10.81v3.62h-10.81z"/>
<path fill="#f6ecf4" d="M204.25 80.93h5.41v3.62h-5.41zM279.93 84.55h5.41v3.62h-5.41zM182.63 102.64h5.41v3.62h-5.41zM90.72 113.49h5.41v3.62h-5.41zM469.14 117.10h5.41v3.62h-5.41zM112.35 131.57h5.41v3.62h-5.41zM469.14 131.57h5.41v3.62h-5.41zM123.16 142.42h5.41v3.62h-5.41zM171.81 146.04h5.41v3.62h-5.41zM112.35 149.66h5.41v3.62h-5.41zM171.81 160.51h5.41v3.62h-5.41zM339.40 164.12h5.41v3.62h-5.41zM144.78 171.36h5.41v3.62h-5.41zM339.40 171.36h5.41v3.62h-5.41zM339.40 174.98h5.41v3.62h-5.41zM474.55 193.06h5.41v3.62h-5.41zM474.55 196.68h10.81v3.62h-10.81zM479.96 200.30h5.41v3.62h-5.41zM231.28 203.91h5.41v3.62h-5.41zM96.13 211.15h5.41v3.62h-5.41zM339.40 225.61h5.41v3.62h-5.41zM339.40 229.23h5.41v3.62h-5.41zM96.13 236.46h5.41v3.62h-5.41zM96.13 247.32h5.41v3.62h-5.41zM344.81 250.93h5.41v3.62h-5.41zM133.97 258.17h5.41v3.62h-5.41zM474.55 261.78h5.41v3.62h-5.41zM96.13 265.40h5.41v3.62h-5.41zM479.96 305.19h5.41v3.62h-5.41zM463.74 319.66h5.41v3.62h-5.41zM344.81 323.27h5.41v3.62h-5.41zM463.74 323.27h5.41v3.62h-5.41zM258.31 330.51h5.41v3.62h-5.41zM139.38 337.74h5.41v3.62h-5.41zM150.19 337.74h5.41v3.62h-5.41zM166.41 337.74h5.41v3.62h-5.41zM355.62 337.74h5.41v3.62h-5.41zM171.81 341.36h5.41v3.62h-5.41zM393.46 344.97h5.41v3.62h-5.41zM328.59 348.59h10.81v3.62h-10.81z"/>
<path fill="#e1e0fb" d="M312.37 80.93h5.41v3.62h-5.41zM447.52 80.93h5.41v3.62h-5.41zM458.33 80.93h5.41v3.62h-5.41zM393.46 95.40h5.41v3.62h-5.41zM415.08 95.40h5.41v3.62h-5.41zM166.41 102.64h5.41v3.62h-5.41zM106.94 109.87h5.41v3.62h-5.41zM123.16 109.87h5.41v3.62h-5.41zM339.40 109.87h5.41v3.62h-5.41zM139.38 117.10h5.41v3.62h-5.41zM150.19 117.10h5.41v3.62h-5.41zM166.41 117.10h5.41v3.62h-5.41zM333.99 117.10h10.81v3.62h-10.81zM112.35 120.72h5.41v3.62h-5.41zM236.69 120.72h5.41v3.62h-5.41zM333.99 120.72h5.41v3.62h-5.41zM155.60 127.96h5.41v3.62h-5.41zM133.97 135.19h10.81v3.62h-10.81zM333.99 135.19h5.41v3.62h-5.41zM339.40 142.42h5.41v3.62h-5.41zM236.69 153.27h5.41v3.62h-5.41zM333.99 153.27h5.41v3.62h-5.41zM236.69 156.89h5.41v3.62h-5.41zM236.69 160.51h5.41v3.62h-5.41zM117.75 164.12h5.41v3.62h-5.41zM177.22 174.98h5.41v3.62h-5.41zM290.75 174.98h5.41v3.62h-5.41zM161.00 185.83h5.41v3.62h-5.41zM225.87 200.30h5.41v3.62h-5.41zM290.75 203.91h5.41v3.62h-5.41zM225.87 211.15h5.41v3.62h-5.41zM333.99 211.15h5.41v3.62h-5.41zM182.63 218.38h5.41v3.62h-5.41zM333.99 218.38h5.41v3.62h-5.41zM123.16 222.00h5.41v3.62h-5.41zM112.35 229.23h10.81v3.62h-10.81zM101.54 236.46h5.41v3.62h-5.41zM117.75 236.46h5.41v3.62h-5.41zM106.94 243.70h5.41v3.62h-5.41zM474.55 250.93h5.41v3.62h-5.41zM106.94 258.17h5.41v3.62h-5.41zM328.59 283.49h5.41v3.62h-5.41zM333.99 297.95h5.41v3.62h-5.41zM139.38 301.57h5.41v3.62h-5.41zM161.00 301.57h5.41v3.62h-5.41zM182.63 301.57h5.41v3.62h-5.41zM209.66 308.81h5.41v3.62h-5.41zM171.81 316.04h5.41v3.62h-5.41zM328.59 323.27h5.41v3.62h-5.41zM290.75 334.12h5.41v3.62h-5.41zM339.40 337.74h5.41v3.62h-5.41zM236.69 341.36h5.41v3.62h-5.41zM155.60 344.97h5.41v3.62h-5.41zM166.41 344.97h5.41v3.62h-5.41zM425.90 344.97h5.41v3.62h-5.41zM231.28 348.59h5.41v3.62h-5.41zM161.00 352.21h5.41v3.62h-5.41zM285.34 352.21h5.41v3.62h-5.41zM355.62 352.21h5.41v3.62h-5.41zM469.14 352.21h5.41v3.62h-5.41zM279.93 359.44h5.41v3.62h-5.41zM279.93 363.06h5.41v3.62h-5.41zM306.96 363.06h10.81v3.62h-10.81zM328.59 363.06h5.41v3.62h-5.41z"/>
<path fill="#4646f5" d="M328.59 80.93h5.41v3.62h-5.41zM382.65 84.55h10.81v3.62h-10.81zM404.27 84.55h5.41v3.62h-5.41zM415.08 84.55h5.41v3.62h-5.41zM442.11 84.55h21.62v3.62h-21.62zM215.06 88.17h5.41v3.62h-5.41zM333.99 88.17h10.81v3.62h-10.81zM425.90 91.78h5.41v3.62h-5.41zM144.78 95.40h5.41v3.62h-5.41zM144.78 99.02h5.41v3.62h-5.41zM350.21 99.02h5.41v3.62h-5.41zM393.46 99.02h5.41v3.62h-5.41zM420.49 99.02h10.81v3.62h-10.81zM469.14 99.02h10.81v3.62h-10.81zM204.25 102.64h5.41v3.62h-5.41zM242.09 102.64h5.41v3.62h-5.41zM306.96 102.64h5.41v3.62h-5.41zM323.18 102.64h5.41v3.62h-5.41zM479.96 106.25h5.41v3.62h-5.41zM209.66 109.87h10.81v3.62h-10.81zM306.96 109.87h5.41v3.62h-5.41zM204.25 113.49h10.81v3.62h-10.81zM306.96 113.49h5.41v3.62h-5.41zM344.81 113.49h5.41v3.62h-5.41zM220.47 117.10h5.41v3.62h-5.41zM479.96 117.10h5.41v3.62h-5.41zM106.94 124.34h5.41v3.62h-5.41zM204.25 124.34h5.41v3.62h-5.41zM317.78 124.34h5.41v3.62h-5.41zM485.36 124.34h5.41v3.62h-5.41zM215.06 127.96h5.41v3.62h-5.41zM479.96 127.96h5.41v3.62h-5.41zM182.63 131.57h5.41v3.62h-5.41zM204.25 131.57h5.41v3.62h-5.41zM215.06 131.57h5.41v3.62h-5.41zM317.78 131.57h10.81v3.62h-10.81zM182.63 135.19h5.41v3.62h-5.41zM193.44 135.19h5.41v3.62h-5.41zM317.78 135.19h10.81v3.62h-10.81zM479.96 135.19h5.41v3.62h-5.41zM204.25 138.81h16.22v3.62h-16.22zM242.09 138.81h5.41v3.62h-5.41zM479.96 138.81h5.41v3.62h-5.41zM182.63 142.42h10.81v3.62h-10.81zM204.25 142.42h5.41v3.62h-5.41zM306.96 142.42h5.41v3.62h-5.41zM479.96 142.42h5.41v3.62h-5.41zM182.63 146.04h10.81v3.62h-10.81zM285.34 146.04h5.41v3.62h-5.41zM301.56 146.04h10.81v3.62h-10.81zM479.96 146.04h5.41v3.62h-5.41zM182.63 149.66h5.41v3.62h-5.41zM204.25 149.66h5.41v3.62h-5.41zM215.06 149.66h10.81v3.62h-10.81zM215.06 153.27h5.41v3.62h-5.41zM209.66 156.89h5.41v3.62h-5.41zM220.47 156.89h5.41v3.62h-5.41zM242.09 156.89h10.81v3.62h-10.81zM269.12 156.89h5.41v3.62h-5.41zM198.84 160.51h5.41v3.62h-5.41zM215.06 160.51h5.41v3.62h-5.41zM306.96 160.51h5.41v3.62h-5.41zM328.59 160.51h5.41v3.62h-5.41zM106.94 164.12h5.41v3.62h-5.41zM215.06 164.12h5.41v3.62h-5.41zM242.09 164.12h5.41v3.62h-5.41zM317.78 164.12h5.41v3.62h-5.41zM485.36 164.12h5.41v3.62h-5.41zM106.94 167.74h5.41v3.62h-5.41zM215.06 167.74h10.81v3.62h-10.81zM301.56 167.74h5.41v3.62h-5.41zM106.94 171.36h5.41v3.62h-5.41zM215.06 171.36h10.81v3.62h-10.81zM258.31 171.36h5.41v3.62h-5.41zM317.78 171.36h10.81v3.62h-10.81zM182.63 174.98h5.41v3.62h-5.41zM215.06 174.98h5.41v3.62h-5.41zM182.63 178.59h16.22v3.62h-16.22zM204.25 178.59h5.41v3.62h-5.41zM123.16 182.21h5.41v3.62h-5.41zM144.78 182.21h5.41v3.62h-5.41zM182.63 182.21h5.41v3.62h-5.41zM198.84 182.21h21.62v3.62h-21.62zM182.63 185.83h10.81v3.62h-10.81zM215.06 185.83h5.41v3.62h-5.41zM242.09 185.83h10.81v3.62h-10.81zM317.78 185.83h10.81v3.62h-10.81zM204.25 189.44h10.81v3.62h-10.81zM242.09 189.44h10.81v3.62h-10.81zM123.16 193.06h5.41v3.62h-5.41zM215.06 193.06h5.41v3.62h-5.41zM242.09 193.06h5.41v3.62h-5.41zM263.72 193.06h5.41v3.62h-5.41zM193.44 196.68h5.41v3.62h-5.41zM317.78 196.68h5.41v3.62h-5.41zM188.03 200.30h16.22v3.62h-16.22zM209.66 200.30h5.41v3.62h-5.41zM242.09 200.30h5.41v3.62h-5.41zM106.94 203.91h5.41v3.62h-5.41zM209.66 203.91h10.81v3.62h-10.81zM177.22 207.53h5.41v3.62h-5.41zM242.09 207.53h5.41v3.62h-5.41zM209.66 211.15h10.81v3.62h-10.81zM263.72 211.15h5.41v3.62h-5.41zM209.66 214.76h5.41v3.62h-5.41zM242.09 214.76h5.41v3.62h-5.41zM285.34 214.76h5.41v3.62h-5.41zM323.18 214.76h5.41v3.62h-5.41zM215.06 218.38h5.41v3.62h-5.41zM247.50 218.38h5.41v3.62h-5.41zM301.56 218.38h5.41v3.62h-5.41zM242.09 222.00h21.62v3.62h-21.62zM285.34 222.00h5.41v3.62h-5.41zM106.94 225.61h5.41v3.62h-5.41zM220.47 225.61h5.41v3.62h-5.41zM306.96 225.61h5.41v3.62h-5.41zM323.18 225.61h5.41v3.62h-5.41zM301.56 232.85h10.81v3.62h-10.81zM301.56 236.46h10.81v3.62h-10.81zM209.66 240.08h5.41v3.62h-5.41zM269.12 243.70h5.41v3.62h-5.41zM285.34 243.70h5.41v3.62h-5.41zM182.63 247.32h5.41v3.62h-5.41zM204.25 247.32h16.22v3.62h-16.22zM317.78 247.32h5.41v3.62h-5.41zM479.96 247.32h10.81v3.62h-10.81zM188.03 250.93h5.41v3.62h-5.41zM204.25 250.93h10.81v3.62h-10.81zM247.50 250.93h5.41v3.62h-5.41zM306.96 250.93h5.41v3.62h-5.41zM317.78 250.93h5.41v3.62h-5.41zM328.59 250.93h5.41v3.62h-5.41zM209.66 254.55h5.41v3.62h-5.41zM247.50 254.55h5.41v3.62h-5.41zM301.56 254.55h5.41v3.62h-5.41zM323.18 254.55h10.81v3.62h-10.81zM209.66 258.17h5.41v3.62h-5.41zM252.90 258.17h43.25v3.62h-43.25zM106.94 261.78h5.41v3.62h-5.41zM182.63 261.78h5.41v3.62h-5.41zM198.84 261.78h10.81v3.62h-10.81zM215.06 261.78h5.41v3.62h-5.41zM301.56 261.78h10.81v3.62h-10.81zM323.18 261.78h10.81v3.62h-10.81zM485.36 261.78h5.41v3.62h-5.41zM209.66 265.40h5.41v3.62h-5.41zM247.50 265.40h5.41v3.62h-5.41zM317.78 265.40h5.41v3.62h-5.41zM263.72 269.02h5.41v3.62h-5.41zM306.96 269.02h5.41v3.62h-5.41zM182.63 276.25h5.41v3.62h-5.41zM144.78 283.49h5.41v3.62h-5.41zM242.09 283.49h5.41v3.62h-5.41zM301.56 283.49h5.41v3.62h-5.41zM161.00 287.10h5.41v3.62h-5.41zM242.09 287.10h5.41v3.62h-5.41zM209.66 290.72h16.22v3.62h-16.22zM285.34 290.72h5.41v3.62h-5.41zM301.56 290.72h5.41v3.62h-5.41zM485.36 297.95h5.41v3.62h-5.41zM106.94 301.57h5.41v3.62h-5.41zM215.06 301.57h5.41v3.62h-5.41zM301.56 301.57h10.81v3.62h-10.81zM317.78 301.57h21.62v3.62h-21.62zM133.97 308.81h5.41v3.62h-5.41zM128.57 312.42h5.41v3.62h-5.41zM188.03 312.42h5.41v3.62h-5.41zM312.37 312.42h5.41v3.62h-5.41zM117.75 316.04h5.41v3.62h-5.41zM139.38 316.04h5.41v3.62h-5.41zM177.22 316.04h5.41v3.62h-5.41zM231.28 316.04h5.41v3.62h-5.41zM263.72 316.04h5.41v3.62h-5.41zM215.06 319.66h5.41v3.62h-5.41zM301.56 319.66h16.22v3.62h-16.22zM323.18 319.66h10.81v3.62h-10.81zM144.78 323.27h5.41v3.62h-5.41zM182.63 323.27h21.62v3.62h-21.62zM220.47 323.27h5.41v3.62h-5.41zM301.56 330.51h10.81v3.62h-10.81zM344.81 330.51h5.41v3.62h-5.41zM112.35 334.12h5.41v3.62h-5.41zM301.56 334.12h5.41v3.62h-5.41zM328.59 334.12h5.41v3.62h-5.41zM344.81 334.12h5.41v3.62h-5.41zM479.96 334.12h5.41v3.62h-5.41zM328.59 337.74h5.41v3.62h-5.41zM96.13 341.36h10.81v3.62h-10.81zM323.18 341.36h5.41v3.62h-5.41zM420.49 341.36h5.41v3.62h-5.41zM447.52 341.36h10.81v3.62h-10.81zM220.47 344.97h5.41v3.62h-5.41zM258.31 344.97h5.41v3.62h-5.41zM225.87 355.83h10.81v3.62h-10.81zM139.38 359.44h5.41v3.62h-5.41zM150.19 359.44h5.41v3.62h-5.41zM161.00 359.44h5.41v3.62h-5.41zM339.40 359.44h5.41v3.62h-5.41zM204.25 363.06h21.62v3.62h-21.62zM209.66 366.68h5.41v3.62h-5.41zM220.47 366.68h5.41v3.62h-5.41zM317.78 366.68h5.41v3.62h-5.41zM344.81 366.68h5.41v3.62h-5.41z"/>
<path fill="#e4e3fa" d="M382.65 80.93h10.81v3.62h-10.81zM442.11 80.93h5.41v3.62h-5.41zM112.35 84.55h5.41v3.62h-5.41zM377.24 84.55h5.41v3.62h-5.41zM263.72 99.02h5.41v3.62h-5.41zM133.97 106.25h5.41v3.62h-5.41zM333.99 106.25h5.41v3.62h-5.41zM236.69 109.87h5.41v3.62h-5.41zM333.99 109.87h5.41v3.62h-5.41zM133.97 113.49h5.41v3.62h-5.41zM236.69 113.49h5.41v3.62h-5.41zM333.99 113.49h5.41v3.62h-5.41zM112.35 117.10h5.41v3.62h-5.41zM133.97 117.10h5.41v3.62h-5.41zM236.69 117.10h5.41v3.62h-5.41zM150.19 120.72h5.41v3.62h-5.41zM150.19 124.34h5.41v3.62h-5.41zM333.99 124.34h5.41v3.62h-5.41zM333.99 127.96h5.41v3.62h-5.41zM133.97 131.57h10.81v3.62h-10.81zM231.28 131.57h5.41v3.62h-5.41zM231.28 135.19h5.41v3.62h-5.41zM133.97 138.81h10.81v3.62h-10.81zM166.41 142.42h5.41v3.62h-5.41zM236.69 142.42h5.41v3.62h-5.41zM166.41 156.89h5.41v3.62h-5.41zM182.63 156.89h5.41v3.62h-5.41zM101.54 160.51h5.41v3.62h-5.41zM112.35 160.51h5.41v3.62h-5.41zM333.99 160.51h5.41v3.62h-5.41zM150.19 164.12h5.41v3.62h-5.41zM236.69 167.74h5.41v3.62h-5.41zM236.69 174.98h5.41v3.62h-5.41zM150.19 178.59h5.41v3.62h-5.41zM166.41 178.59h5.41v3.62h-5.41zM236.69 178.59h5.41v3.62h-5.41zM139.38 182.21h5.41v3.62h-5.41zM150.19 182.21h5.41v3.62h-5.41zM139.38 185.83h5.41v3.62h-5.41zM150.19 185.83h5.41v3.62h-5.41zM231.28 185.83h5.41v3.62h-5.41zM333.99 196.68h5.41v3.62h-5.41zM139.38 211.15h5.41v3.62h-5.41zM474.55 211.15h5.41v3.62h-5.41zM177.22 214.76h5.41v3.62h-5.41zM198.84 222.00h5.41v3.62h-5.41zM106.94 229.23h5.41v3.62h-5.41zM333.99 232.85h5.41v3.62h-5.41zM333.99 236.46h5.41v3.62h-5.41zM101.54 243.70h5.41v3.62h-5.41zM106.94 250.93h5.41v3.62h-5.41zM117.75 254.55h5.41v3.62h-5.41zM128.57 265.40h16.22v3.62h-16.22zM171.81 265.40h5.41v3.62h-5.41zM177.22 301.57h5.41v3.62h-5.41zM188.03 301.57h5.41v3.62h-5.41zM123.16 316.04h5.41v3.62h-5.41zM220.47 316.04h5.41v3.62h-5.41zM388.05 326.89h5.41v3.62h-5.41zM74.51 330.51h5.41v3.62h-5.41zM285.34 337.74h5.41v3.62h-5.41zM296.15 337.74h5.41v3.62h-5.41zM144.78 341.36h5.41v3.62h-5.41zM415.08 344.97h5.41v3.62h-5.41zM161.00 348.59h5.41v3.62h-5.41zM312.37 348.59h5.41v3.62h-5.41zM452.93 355.83h5.41v3.62h-5.41zM306.96 359.44h5.41v3.62h-5.41zM296.15 363.06h5.41v3.62h-5.41z"/>
<path fill="#f7e4ea" d="M74.51 84.55h5.41v3.62h-5.41zM182.63 84.55h10.81v3.62h-10.81zM263.72 88.17h5.41v3.62h-5.41zM274.53 88.17h5.41v3.62h-5.41zM306.96 88.17h5.41v3.62h-5.41zM242.09 91.78h5.41v3.62h-5.41zM415.08 91.78h5.41v3.62h-5.41zM123.16 99.02h5.41v3.62h-5.41zM333.99 102.64h5.41v3.62h-5.41zM361.02 102.64h5.41v3.62h-5.41zM415.08 102.64h5.41v3.62h-5.41zM393.46 117.10h5.41v3.62h-5.41zM388.05 120.72h5.41v3.62h-5.41zM393.46 124.34h5.41v3.62h-5.41zM112.35 135.19h5.41v3.62h-5.41zM112.35 138.81h5.41v3.62h-5.41zM112.35 142.42h5.41v3.62h-5.41zM382.65 171.36h5.41v3.62h-5.41zM339.40 185.83h5.41v3.62h-5.41zM388.05 185.83h5.41v3.62h-5.41zM339.40 189.44h10.81v3.62h-10.81zM355.62 189.44h5.41v3.62h-5.41zM355.62 193.06h5.41v3.62h-5.41zM350.21 196.68h5.41v3.62h-5.41zM339.40 200.30h5.41v3.62h-5.41zM339.40 207.53h5.41v3.62h-5.41zM96.13 232.85h5.41v3.62h-5.41zM344.81 232.85h5.41v3.62h-5.41zM469.14 243.70h5.41v3.62h-5.41zM150.19 261.78h10.81v3.62h-10.81zM166.41 261.78h5.41v3.62h-5.41zM344.81 272.63h5.41v3.62h-5.41zM474.55 290.72h5.41v3.62h-5.41zM398.87 301.57h5.41v3.62h-5.41zM409.68 301.57h5.41v3.62h-5.41zM398.87 363.06h10.81v3.62h-10.81zM415.08 363.06h5.41v3.62h-5.41z"/>
<path fill="#fad4d8" d="M90.72 84.55h5.41v3.62h-5.41zM177.22 88.17h5.41v3.62h-5.41zM85.32 102.64h5.41v3.62h-5.41zM355.62 109.87h5.41v3.62h-5.41zM344.81 127.96h5.41v3.62h-5.41zM344.81 167.74h5.41v3.62h-5.41zM344.81 174.98h5.41v3.62h-5.41zM382.65 182.21h5.41v3.62h-5.41zM469.14 229.23h5.41v3.62h-5.41zM469.14 240.08h5.41v3.62h-5.41zM469.14 258.17h5.41v3.62h-5.41zM404.27 261.78h5.41v3.62h-5.41zM404.27 283.49h5.41v3.62h-5.41zM425.90 294.34h5.41v3.62h-5.41zM355.62 297.95h5.41v3.62h-5.41zM101.54 301.57h5.41v3.62h-5.41zM393.46 312.42h10.81v3.62h-10.81z"/>
<path fill="#f8dfe4" d="M177.22 84.55h5.41v3.62h-5.41zM128.57 88.17h5.41v3.62h-5.41zM198.84 88.17h5.41v3.62h-5.41zM225.87 88.17h5.41v3.62h-5.41zM247.50 88.17h5.41v3.62h-5.41zM258.31 88.17h5.41v3.62h-5.41zM269.12 95.40h5.41v3.62h-5.41zM101.54 102.64h5.41v3.62h-5.41zM339.40 102.64h5.41v3.62h-5.41zM355.62 106.25h5.41v3.62h-5.41zM96.13 127.96h5.41v3.62h-5.41zM96.13 135.19h5.41v3.62h-5.41zM96.13 142.42h5.41v3.62h-5.41zM96.13 153.27h5.41v3.62h-5.41zM388.05 189.44h5.41v3.62h-5.41zM344.81 222.00h5.41v3.62h-5.41zM96.13 225.61h5.41v3.62h-5.41zM344.81 243.70h5.41v3.62h-5.41zM388.05 261.78h5.41v3.62h-5.41zM112.35 272.63h5.41v3.62h-5.41zM344.81 279.87h5.41v3.62h-5.41zM393.46 290.72h5.41v3.62h-5.41zM404.27 294.34h5.41v3.62h-5.41zM458.33 294.34h5.41v3.62h-5.41zM452.93 297.95h5.41v3.62h-5.41zM388.05 308.81h5.41v3.62h-5.41zM74.51 326.89h5.41v3.62h-5.41zM161.00 334.12h5.41v3.62h-5.41zM393.46 355.83h5.41v3.62h-5.41zM469.14 363.06h5.41v3.62h-5.41z"/>
<path fill="#f9d6db" d="M225.87 84.55h5.41v3.62h-5.41zM225.87 91.78h5.41v3.62h-5.41zM85.32 106.25h5.41v3.62h-5.41zM344.81 124.34h5.41v3.62h-5.41zM393.46 138.81h5.41v3.62h-5.41zM382.65 164.12h5.41v3.62h-5.41zM85.32 174.98h5.41v3.62h-5.41zM361.02 182.21h5.41v3.62h-5.41zM388.05 207.53h5.41v3.62h-5.41zM96.13 218.38h5.41v3.62h-5.41zM355.62 225.61h5.41v3.62h-5.41zM388.05 229.23h5.41v3.62h-5.41zM388.05 236.46h5.41v3.62h-5.41zM355.62 250.93h5.41v3.62h-5.41zM144.78 254.55h5.41v3.62h-5.41zM161.00 254.55h5.41v3.62h-5.41zM393.46 258.17h5.41v3.62h-5.41zM469.14 261.78h5.41v3.62h-5.41zM469.14 265.40h5.41v3.62h-5.41zM415.08 287.10h5.41v3.62h-5.41zM415.08 290.72h5.41v3.62h-5.41zM382.65 294.34h5.41v3.62h-5.41zM415.08 301.57h5.41v3.62h-5.41zM409.68 312.42h5.41v3.62h-5.41zM447.52 319.66h5.41v3.62h-5.41z"/>
<path fill="#dadafb" d="M323.18 84.55h5.41v3.62h-5.41zM479.96 84.55h5.41v3.62h-5.41zM252.90 99.02h5.41v3.62h-5.41zM155.60 102.64h5.41v3.62h-5.41zM150.19 106.25h5.41v3.62h-5.41zM236.69 106.25h5.41v3.62h-5.41zM198.84 109.87h5.41v3.62h-5.41zM177.22 120.72h5.41v3.62h-5.41zM252.90 124.34h5.41v3.62h-5.41zM150.19 127.96h5.41v3.62h-5.41zM252.90 127.96h5.41v3.62h-5.41zM236.69 131.57h5.41v3.62h-5.41zM150.19 135.19h10.81v3.62h-10.81zM177.22 138.81h5.41v3.62h-5.41zM117.75 167.74h5.41v3.62h-5.41zM258.31 174.98h5.41v3.62h-5.41zM285.34 174.98h5.41v3.62h-5.41zM236.69 185.83h5.41v3.62h-5.41zM290.75 196.68h5.41v3.62h-5.41zM236.69 200.30h5.41v3.62h-5.41zM128.57 203.91h5.41v3.62h-5.41zM155.60 214.76h5.41v3.62h-5.41zM133.97 218.38h10.81v3.62h-10.81zM193.44 218.38h10.81v3.62h-10.81zM198.84 225.61h5.41v3.62h-5.41zM123.16 240.08h5.41v3.62h-5.41zM177.22 240.08h5.41v3.62h-5.41zM333.99 240.08h5.41v3.62h-5.41zM485.36 243.70h5.41v3.62h-5.41zM333.99 247.32h5.41v3.62h-5.41zM177.22 254.55h5.41v3.62h-5.41zM317.78 272.63h10.81v3.62h-10.81zM171.81 294.34h5.41v3.62h-5.41zM263.72 297.95h5.41v3.62h-5.41zM231.28 301.57h5.41v3.62h-5.41zM252.90 301.57h5.41v3.62h-5.41zM479.96 301.57h5.41v3.62h-5.41zM123.16 312.42h5.41v3.62h-5.41zM242.09 312.42h5.41v3.62h-5.41zM204.25 316.04h5.41v3.62h-5.41zM290.75 326.89h5.41v3.62h-5.41zM101.54 330.51h5.41v3.62h-5.41zM323.18 344.97h5.41v3.62h-5.41zM188.03 352.21h10.81v3.62h-10.81zM220.47 352.21h5.41v3.62h-5.41zM485.36 352.21h5.41v3.62h-5.41zM133.97 366.68h5.41v3.62h-5.41zM231.28 366.68h5.41v3.62h-5.41zM247.50 366.68h5.41v3.62h-5.41zM263.72 366.68h5.41v3.62h-5.41z"/>
<path fill="#cacbfb" d="M333.99 84.55h5.41v3.62h-5.41zM355.62 91.78h5.41v3.62h-5.41zM436.71 95.40h5.41v3.62h-5.41zM209.66 99.02h5.41v3.62h-5.41zM296.15 138.81h5.41v3.62h-5.41zM198.84 146.04h5.41v3.62h-5.41zM247.50 160.51h5.41v3.62h-5.41zM252.90 240.08h5.41v3.62h-5.41zM323.18 243.70h5.41v3.62h-5.41zM204.25 301.57h5.41v3.62h-5.41zM317.78 323.27h5.41v3.62h-5.41zM155.60 355.83h5.41v3.62h-5.41z"/>
<path fill="#bcbffb" d="M344.81 84.55h5.41v3.62h-5.41zM198.84 117.10h5.41v3.62h-5.41zM198.84 164.12h5.41v3.62h-5.41zM117.75 334.12h5.41v3.62h-5.41zM106.94 337.74h5.41v3.62h-5.41z"/>
<path fill="#c6c8fb" d="M350.21 84.55h5.41v3.62h-5.41zM447.52 95.40h10.81v3.62h-10.81zM247.50 182.21h5.41v3.62h-5.41zM252.90 261.78h5.41v3.62h-5.41zM182.63 308.81h5.41v3.62h-5.41zM263.72 312.42h5.41v3.62h-5.41zM306.96 323.27h5.41v3.62h-5.41zM474.55 330.51h5.41v3.62h-5.41z"/>
<path fill="#fad1d5" d="M150.19 88.17h5.41v3.62h-5.41zM171.81 88.17h5.41v3.62h-5.41zM355.62 113.49h5.41v3.62h-5.41zM355.62 120.72h5.41v3.62h-5.41zM361.02 160.51h5.41v3.62h-5.41zM85.32 167.74h5.41v3.62h-5.41zM355.62 171.36h5.41v3.62h-5.41zM79.91 174.98h5.41v3.62h-5.41zM361.02 178.59h5.41v3.62h-5.41zM361.02 185.83h5.41v3.62h-5.41zM361.02 200.30h5.41v3.62h-5.41zM361.02 203.91h5.41v3.62h-5.41zM469.14 207.53h5.41v3.62h-5.41zM469.14 218.38h5.41v3.62h-5.41zM469.14 232.85h5.41v3.62h-5.41zM469.14 236.46h5.41v3.62h-5.41zM344.81 265.40h5.41v3.62h-5.41zM469.14 287.10h5.41v3.62h-5.41z"/>
<path fill="#fcc9cb" d="M155.60 88.17h5.41v3.62h-5.41zM355.62 135.19h5.41v3.62h-5.41zM415.08 146.04h5.41v3.62h-5.41zM361.02 225.61h5.41v3.62h-5.41zM361.02 236.46h5.41v3.62h-5.41zM409.68 247.32h5.41v3.62h-5.41zM361.02 250.93h5.41v3.62h-5.41zM393.46 250.93h5.41v3.62h-5.41zM361.02 316.04h5.41v3.62h-5.41zM425.90 316.04h5.41v3.62h-5.41zM382.65 348.59h5.41v3.62h-5.41z"/>
<path fill="#f9d9de" d="M182.63 88.17h5.41v3.62h-5.41zM96.13 102.64h5.41v3.62h-5.41zM393.46 106.25h5.41v3.62h-5.41zM344.81 178.59h5.41v3.62h-5.41zM388.05 193.06h5.41v3.62h-5.41zM388.05 200.30h5.41v3.62h-5.41zM355.62 218.38h5.41v3.62h-5.41zM355.62 240.08h5.41v3.62h-5.41zM469.14 254.55h5.41v3.62h-5.41zM398.87 261.78h5.41v3.62h-5.41zM474.55 272.63h5.41v3.62h-5.41zM474.55 276.25h5.41v3.62h-5.41zM474.55 279.87h5.41v3.62h-5.41zM355.62 294.34h5.41v3.62h-5.41zM344.81 297.95h5.41v3.62h-5.41zM106.94 308.81h5.41v3.62h-5.41zM101.54 312.42h10.81v3.62h-10.81zM415.08 330.51h5.41v3.62h-5.41zM74.51 341.36h5.41v3.62h-5.41zM382.65 352.21h5.41v3.62h-5.41zM474.55 363.06h5.41v3.62h-5.41z"/>
<path fill="#f0edfa" d="M69.10 95.40h5.41v3.62h-5.41zM485.36 225.61h5.41v3.62h-5.41zM485.36 326.89h5.41v3.62h-5.41zM69.10 337.74h5.41v3.62h-5.41zM485.36 341.36h5.41v3.62h-5.41zM485.36 348.59h5.41v3.62h-5.41z"/>
<path fill="#c3c5fb" d="M425.90 95.40h5.41v3.62h-5.41zM317.78 117.10h5.41v3.62h-5.41zM252.90 247.32h5.41v3.62h-5.41zM290.75 261.78h5.41v3.62h-5.41zM182.63 287.10h5.41v3.62h-5.41zM198.84 287.10h5.41v3.62h-5.41zM306.96 308.81h5.41v3.62h-5.41zM193.44 319.66h5.41v3.62h-5.41zM117.75 330.51h5.41v3.62h-5.41z"/>
<path fill="#fbced2" d="M361.02 106.25h5.41v3.62h-5.41zM361.02 117.10h5.41v3.62h-5.41zM355.62 124.34h5.41v3.62h-5.41zM355.62 131.57h5.41v3.62h-5.41zM355.62 153.27h5.41v3.62h-5.41zM393.46 153.27h5.41v3.62h-5.41zM469.14 185.83h5.41v3.62h-5.41zM469.14 193.06h5.41v3.62h-5.41zM361.02 196.68h5.41v3.62h-5.41zM469.14 196.68h5.41v3.62h-5.41zM382.65 200.30h5.41v3.62h-5.41zM469.14 200.30h5.41v3.62h-5.41zM469.14 203.91h5.41v3.62h-5.41zM469.14 211.15h5.41v3.62h-5.41zM361.02 222.00h5.41v3.62h-5.41zM106.94 319.66h5.41v3.62h-5.41zM409.68 337.74h5.41v3.62h-5.41zM355.62 341.36h5.41v3.62h-5.41z"/>
<path fill="#fdbebf" d="M382.65 106.25h5.41v3.62h-5.41zM458.33 142.42h5.41v3.62h-5.41zM415.08 160.51h5.41v3.62h-5.41zM85.32 290.72h5.41v3.62h-5.41z"/>
<path fill="#fcc3c5" d="M382.65 113.49h5.41v3.62h-5.41zM415.08 113.49h5.41v3.62h-5.41zM415.08 120.72h5.41v3.62h-5.41zM415.08 124.34h5.41v3.62h-5.41zM415.08 127.96h5.41v3.62h-5.41zM355.62 142.42h5.41v3.62h-5.41zM415.08 153.27h5.41v3.62h-5.41zM74.51 218.38h5.41v3.62h-5.41zM382.65 236.46h5.41v3.62h-5.41z"/>
<path fill="#fcc6c8" d="M415.08 117.10h5.41v3.62h-5.41zM415.08 131.57h5.41v3.62h-5.41zM85.32 146.04h5.41v3.62h-5.41zM415.08 149.66h5.41v3.62h-5.41zM361.02 153.27h5.41v3.62h-5.41zM404.27 156.89h5.41v3.62h-5.41zM415.08 167.74h5.41v3.62h-5.41zM361.02 214.76h5.41v3.62h-5.41zM425.90 287.10h5.41v3.62h-5.41zM415.08 308.81h5.41v3.62h-5.41z"/>
<path fill="#b2b6fc" d="M198.84 127.96h5.41v3.62h-5.41zM317.78 258.17h5.41v3.62h-5.41z"/>
<path fill="#fbcbcf" d="M355.62 127.96h10.81v3.62h-10.81zM415.08 135.19h5.41v3.62h-5.41zM415.08 142.42h5.41v3.62h-5.41zM361.02 171.36h5.41v3.62h-5.41zM74.51 174.98h5.41v3.62h-5.41zM469.14 189.44h5.41v3.62h-5.41zM361.02 193.06h5.41v3.62h-5.41zM361.02 240.08h5.41v3.62h-5.41zM393.46 243.70h5.41v3.62h-5.41zM355.62 247.32h5.41v3.62h-5.41zM344.81 287.10h5.41v3.62h-5.41zM436.71 330.51h5.41v3.62h-5.41zM382.65 363.06h5.41v3.62h-5.41z"/>
<path fill="#fdc0c2" d="M415.08 171.36h5.41v3.62h-5.41zM85.32 218.38h5.41v3.62h-5.41zM382.65 229.23h5.41v3.62h-5.41zM415.08 312.42h5.41v3.62h-5.41z"/>
<path fill="#b6b9fc" d="M112.35 178.59h5.41v3.62h-5.41zM215.06 287.10h5.41v3.62h-5.41zM209.66 326.89h5.41v3.62h-5.41z"/>
<path fill="#feb8b9" d="M415.08 218.38h5.41v3.62h-5.41zM96.13 301.57h5.41v3.62h-5.41zM177.22 334.12h5.41v3.62h-5.41z"/>
<path fill="#febbbc" d="M415.08 229.23h5.41v3.62h-5.41z"/>
<path fill="#ffb5b6" d="M425.90 243.70h5.41v3.62h-5.41z"/>
<path fill="#fbcfd2" d="M69.10 250.93h5.41v3.62h-5.41z"/>
<path fill="#fdbdbe" d="M69.10 319.66h5.41v3.62h-5.41z"/>
<path fill="#acb1fc" d="M312.37 337.74h5.41v3.62h-5.41z"/>
<path fill="#fad3d7" d="M485.36 363.06h5.41v3.62h-5.41z"/>
</g>
<use href="#hm" filter="url(#bl)" opacity="0.5"/>
<rect x="0" y="0" width="520" height="1.1" fill="#000"/>
<rect x="0" y="0" width="1.2" height="600" fill="#000"/>
<rect x="518.3" y="0" width="1.7" height="600" fill="#000"/>
<rect x="0" y="598.3" width="520" height="1.7" fill="#000"/>
<text x="7.6" y="17.1" font-size="11" font-weight="bold" fill="#111">A</text>
<text x="85.6" y="433.8" font-size="11" font-weight="bold" fill="#111">B</text>
<text x="270.2" y="434.4" font-size="11" font-weight="bold" fill="#111">C</text>
<path d="M77.21 70.50L77.21 73.70M82.61 70.50L82.61 73.70M77.21 70.50L82.61 70.50M71.80 63.30L71.80 73.70M79.91 63.30L79.91 70.50M71.80 63.30L79.91 63.30M88.02 62.80L88.02 73.70M93.43 62.80L93.43 73.70M88.02 62.80L93.43 62.80M75.86 50.70L75.86 63.30M90.72 50.70L90.72 62.80M75.86 50.70L90.72 50.70M98.83 71.30L98.83 73.70M104.24 71.30L104.24 73.70M98.83 71.30L104.24 71.30M109.64 69.20L109.64 73.70M115.05 69.20L115.05 73.70M109.64 69.20L115.05 69.20M120.46 62.30L120.46 73.70M125.86 62.30L125.86 73.70M120.46 62.30L125.86 62.30M112.35 61.30L112.35 69.20M123.16 61.30L123.16 62.30M112.35 61.30L123.16 61.30M101.54 50.20L101.54 71.30M117.75 50.20L117.75 61.30M101.54 50.20L117.75 50.20M83.29 40.50L83.29 50.70M109.64 40.50L109.64 50.20M83.29 40.50L109.64 40.50M131.27 71.50L131.27 73.70M136.68 71.50L136.68 73.70M131.27 71.50L136.68 71.50M142.08 71.80L142.08 73.70M147.49 71.80L147.49 73.70M142.08 71.80L147.49 71.80M169.11 72.20L169.11 73.70M174.52 72.20L174.52 73.70M169.11 72.20L174.52 72.20M163.70 71.60L163.70 73.70M171.81 71.60L171.81 72.20M163.70 71.60L171.81 71.60M158.30 71.20L158.30 73.70M167.76 71.20L167.76 71.60M158.30 71.20L167.76 71.20M152.89 70.80L152.89 73.70M163.03 70.80L163.03 71.20M152.89 70.80L163.03 70.80M144.78 70.50L144.78 71.80M157.96 70.50L157.96 70.80M144.78 70.50L157.96 70.50M133.97 69.20L133.97 71.50M151.37 69.20L151.37 70.50M133.97 69.20L151.37 69.20M185.33 71.50L185.33 73.70M190.73 71.50L190.73 73.70M185.33 71.50L190.73 71.50M196.14 71.00L196.14 73.70M201.55 71.00L201.55 73.70M196.14 71.00L201.55 71.00M188.03 69.20L188.03 71.50M198.84 69.20L198.84 71.00M188.03 69.20L198.84 69.20M179.92 66.20L179.92 73.70M193.44 66.20L193.44 69.20M179.92 66.20L193.44 66.20M217.76 72.30L217.76 73.70M223.17 72.30L223.17 73.70M217.76 72.30L223.17 72.30M212.36 71.00L212.36 73.70M220.47 71.00L220.47 72.30M212.36 71.00L220.47 71.00M233.98 72.50L233.98 73.70M239.39 72.50L239.39 73.70M233.98 72.50L239.39 72.50M228.58 71.50L228.58 73.70M236.69 71.50L236.69 72.50M228.58 71.50L236.69 71.50M244.79 71.50L244.79 73.70M250.20 71.50L250.20 73.70M244.79 71.50L250.20 71.50M261.01 72.00L261.01 73.70M266.42 72.00L266.42 73.70M261.01 72.00L266.42 72.00M255.61 70.50L255.61 73.70M263.72 70.50L263.72 72.00M255.61 70.50L263.72 70.50M247.50 69.80L247.50 71.50M259.66 69.80L259.66 70.50M247.50 69.80L259.66 69.80M271.82 72.00L271.82 73.70M277.23 72.00L277.23 73.70M271.82 72.00L277.23 72.00M282.64 71.40L282.64 73.70M288.04 71.40L288.04 73.70M282.64 71.40L288.04 71.40M274.53 70.80L274.53 72.00M285.34 70.80L285.34 71.40M274.53 70.80L285.34 70.80M293.45 71.60L293.45 73.70M298.86 71.60L298.86 73.70M293.45 71.60L298.86 71.60M309.67 72.40L309.67 73.70M315.07 72.40L315.07 73.70M309.67 72.40L315.07 72.40M304.26 71.00L304.26 73.70M312.37 71.00L312.37 72.40M304.26 71.00L312.37 71.00M296.15 70.20L296.15 71.60M308.32 70.20L308.32 71.00M296.15 70.20L308.32 70.20M279.93 69.20L279.93 70.80M302.23 69.20L302.23 70.20M279.93 69.20L302.23 69.20M253.58 68.50L253.58 69.80M291.08 68.50L291.08 69.20M253.58 68.50L291.08 68.50M232.63 67.70L232.63 71.50M272.33 67.70L272.33 68.50M232.63 67.70L272.33 67.70M216.41 64.60L216.41 71.00M252.48 64.60L252.48 67.70M216.41 64.60L252.48 64.60M206.95 63.40L206.95 73.70M234.45 63.40L234.45 64.60M206.95 63.40L234.45 63.40M186.68 63.00L186.68 66.20M220.70 63.00L220.70 63.40M186.68 63.00L220.70 63.00M142.67 62.30L142.67 69.20M203.69 62.30L203.69 63.00M142.67 62.30L203.69 62.30M325.88 70.00L325.88 73.70M331.29 70.00L331.29 73.70M325.88 70.00L331.29 70.00M342.10 71.20L342.10 73.70M347.51 71.20L347.51 73.70M342.10 71.20L347.51 71.20M336.70 67.70L336.70 73.70M344.81 67.70L344.81 71.20M336.70 67.70L344.81 67.70M328.59 64.20L328.59 70.00M340.75 64.20L340.75 67.70M328.59 64.20L340.75 64.20M320.48 61.30L320.48 73.70M334.67 61.30L334.67 64.20M320.48 61.30L334.67 61.30M173.18 56.20L173.18 62.30M327.57 56.20L327.57 61.30M173.18 56.20L327.57 56.20M358.32 71.30L358.32 73.70M363.73 71.30L363.73 73.70M358.32 71.30L363.73 71.30M352.91 64.80L352.91 73.70M361.02 64.80L361.02 71.30M352.91 64.80L361.02 64.80M374.54 72.80L374.54 73.70M379.94 72.80L379.94 73.70M374.54 72.80L379.94 72.80M369.13 72.10L369.13 73.70M377.24 72.10L377.24 72.80M369.13 72.10L377.24 72.10M385.35 61.20L385.35 73.70M390.76 61.20L390.76 73.70M385.35 61.20L390.76 61.20M401.57 71.20L401.57 73.70M406.98 71.20L406.98 73.70M401.57 71.20L406.98 71.20M412.38 71.00L412.38 73.70M417.79 71.00L417.79 73.70M412.38 71.00L417.79 71.00M404.27 69.40L404.27 71.20M415.08 69.40L415.08 71.00M404.27 69.40L415.08 69.40M396.16 64.80L396.16 73.70M409.68 64.80L409.68 69.40M396.16 64.80L409.68 64.80M434.00 71.80L434.00 73.70M439.41 71.80L439.41 73.70M434.00 71.80L439.41 71.80M428.60 70.20L428.60 73.70M436.71 70.20L436.71 71.80M428.60 70.20L436.71 70.20M444.82 72.00L444.82 73.70M450.22 72.00L450.22 73.70M444.82 72.00L450.22 72.00M461.03 72.40L461.03 73.70M466.44 72.40L466.44 73.70M461.03 72.40L466.44 72.40M455.63 71.20L455.63 73.70M463.74 71.20L463.74 72.40M455.63 71.20L463.74 71.20M447.52 70.50L447.52 72.00M459.68 70.50L459.68 71.20M447.52 70.50L459.68 70.50M432.65 67.80L432.65 70.20M453.60 67.80L453.60 70.50M432.65 67.80L453.60 67.80M423.19 61.20L423.19 73.70M443.13 61.20L443.13 67.80M423.19 61.20L443.13 61.20M402.92 58.60L402.92 64.80M433.16 58.60L433.16 61.20M402.92 58.60L433.16 58.60M471.85 67.10L471.85 73.70M477.25 67.10L477.25 73.70M471.85 67.10L477.25 67.10M482.66 63.60L482.66 73.70M488.06 63.60L488.06 73.70M482.66 63.60L488.06 63.60M474.55 57.60L474.55 67.10M485.36 57.60L485.36 63.60M474.55 57.60L485.36 57.60M418.04 49.00L418.04 58.60M479.96 49.00L479.96 57.60M418.04 49.00L479.96 49.00M388.05 45.90L388.05 61.20M449.00 45.90L449.00 49.00M388.05 45.90L449.00 45.90M373.19 36.90L373.19 72.10M418.53 36.90L418.53 45.90M373.19 36.90L418.53 36.90M356.97 32.40L356.97 64.80M395.86 32.40L395.86 36.90M356.97 32.40L395.86 32.40M250.38 29.70L250.38 56.20M376.41 29.70L376.41 32.40M250.38 29.70L376.41 29.70M96.47 24.30L96.47 40.50M313.40 24.30L313.40 29.70M96.47 24.30L313.40 24.30" stroke="#555" stroke-width="0.8" fill="none"/>
<path d="M63.00 75.51L69.10 75.51M63.00 79.13L69.10 79.13M63.00 75.51L63.00 79.13M41.00 77.32L63.00 77.32M41.00 82.74L69.10 82.74M41.00 77.32L41.00 82.74M32.40 80.03L41.00 80.03M32.40 86.36L69.10 86.36M32.40 80.03L32.40 86.36M38.30 89.98L69.10 89.98M38.30 93.59L69.10 93.59M38.30 89.98L38.30 93.59M52.50 97.21L69.10 97.21M52.50 100.83L69.10 100.83M52.50 97.21L52.50 100.83M33.00 91.78L38.30 91.78M33.00 99.02L52.50 99.02M33.00 91.78L33.00 99.02M26.30 83.19L32.40 83.19M26.30 95.40L33.00 95.40M26.30 83.19L26.30 95.40M65.50 104.44L69.10 104.44M65.50 108.06L69.10 108.06M65.50 104.44L65.50 108.06M66.30 111.68L69.10 111.68M66.30 115.30L69.10 115.30M66.30 111.68L66.30 115.30M63.58 106.25L65.50 106.25M63.58 113.49L66.30 113.49M63.58 106.25L63.58 113.49M63.56 109.87L63.58 109.87M63.56 118.91L69.10 118.91M63.56 109.87L63.56 118.91M66.30 122.53L69.10 122.53M66.30 126.15L69.10 126.15M66.30 122.53L66.30 126.15M63.54 114.39L63.56 114.39M63.54 124.34L66.30 124.34M63.54 114.39L63.54 124.34M65.50 129.76L69.10 129.76M65.50 133.38L69.10 133.38M65.50 129.76L65.50 133.38M63.52 119.36L63.54 119.36M63.52 131.57L65.50 131.57M63.52 119.36L63.52 131.57M63.50 125.47L63.52 125.47M63.50 137.00L69.10 137.00M63.50 125.47L63.50 137.00M65.50 140.61L69.10 140.61M65.50 144.23L69.10 144.23M65.50 140.61L65.50 144.23M63.48 131.23L63.50 131.23M63.48 142.42L65.50 142.42M63.48 131.23L63.48 142.42M66.30 147.85L69.10 147.85M66.30 151.47L69.10 151.47M66.30 147.85L66.30 151.47M63.46 136.83L63.48 136.83M63.46 149.66L66.30 149.66M63.46 136.83L63.46 149.66M63.44 143.24L63.46 143.24M63.44 155.08L69.10 155.08M63.44 143.24L63.44 155.08M66.30 158.70L69.10 158.70M66.30 162.32L69.10 162.32M66.30 158.70L66.30 162.32M63.42 149.16L63.44 149.16M63.42 160.51L66.30 160.51M63.42 149.16L63.42 160.51M65.50 165.93L69.10 165.93M65.50 169.55L69.10 169.55M65.50 165.93L65.50 169.55M63.40 154.84L63.42 154.84M63.40 167.74L65.50 167.74M63.40 154.84L63.40 167.74M63.38 161.29L63.40 161.29M63.38 173.17L69.10 173.17M63.38 161.29L63.38 173.17M65.50 176.78L69.10 176.78M65.50 180.40L69.10 180.40M65.50 176.78L65.50 180.40M63.36 167.23L63.38 167.23M63.36 178.59L65.50 178.59M63.36 167.23L63.36 178.59M66.30 184.02L69.10 184.02M66.30 187.64L69.10 187.64M66.30 184.02L66.30 187.64M63.34 172.91L63.36 172.91M63.34 185.83L66.30 185.83M63.34 172.91L63.34 185.83M63.32 179.37L63.34 179.37M63.32 191.25L69.10 191.25M63.32 179.37L63.32 191.25M66.30 194.87L69.10 194.87M66.30 198.49L69.10 198.49M66.30 194.87L66.30 198.49M63.30 185.31L63.32 185.31M63.30 196.68L66.30 196.68M63.30 185.31L63.30 196.68M65.50 202.10L69.10 202.10M65.50 205.72L69.10 205.72M65.50 202.10L65.50 205.72M63.28 190.99L63.30 190.99M63.28 203.91L65.50 203.91M63.28 190.99L63.28 203.91M63.26 197.45L63.28 197.45M63.26 209.34L69.10 209.34M63.26 197.45L63.26 209.34M65.50 212.95L69.10 212.95M65.50 216.57L69.10 216.57M65.50 212.95L65.50 216.57M63.24 203.40L63.26 203.40M63.24 214.76L65.50 214.76M63.24 203.40L63.24 214.76M66.30 220.19L69.10 220.19M66.30 223.81L69.10 223.81M66.30 220.19L66.30 223.81M63.22 209.08L63.24 209.08M63.22 222.00L66.30 222.00M63.22 209.08L63.22 222.00M63.20 215.54L63.22 215.54M63.20 227.42L69.10 227.42M63.20 215.54L63.20 227.42M66.30 231.04L69.10 231.04M66.30 234.66L69.10 234.66M66.30 231.04L66.30 234.66M63.18 221.48L63.20 221.48M63.18 232.85L66.30 232.85M63.18 221.48L63.18 232.85M65.50 238.27L69.10 238.27M65.50 241.89L69.10 241.89M65.50 238.27L65.50 241.89M63.16 227.16L63.18 227.16M63.16 240.08L65.50 240.08M63.16 227.16L63.16 240.08M63.50 245.51L69.10 245.51M63.50 249.12L69.10 249.12M63.50 245.51L63.50 249.12M58.30 233.62L63.16 233.62M58.30 247.32L63.50 247.32M58.30 233.62L58.30 247.32M58.00 240.47L58.30 240.47M58.00 252.74L69.10 252.74M58.00 240.47L58.00 252.74M64.00 256.36L69.10 256.36M64.00 259.98L69.10 259.98M64.00 256.36L64.00 259.98M57.70 246.61L58.00 246.61M57.70 258.17L64.00 258.17M57.70 246.61L57.70 258.17M57.30 252.39L57.70 252.39M57.30 263.59L69.10 263.59M57.30 252.39L57.30 263.59M65.00 270.83L69.10 270.83M65.00 274.44L69.10 274.44M65.00 270.83L65.00 274.44M62.50 267.21L69.10 267.21M62.50 272.63L65.00 272.63M62.50 267.21L62.50 272.63M56.90 257.99L57.30 257.99M56.90 269.92L62.50 269.92M56.90 257.99L56.90 269.92M64.50 281.68L69.10 281.68M64.50 285.29L69.10 285.29M64.50 281.68L64.50 285.29M61.00 278.06L69.10 278.06M61.00 283.49L64.50 283.49M61.00 278.06L61.00 283.49M56.30 263.96L56.90 263.96M56.30 280.77L61.00 280.77M56.30 263.96L56.30 280.77M63.80 288.91L69.10 288.91M63.80 292.53L69.10 292.53M63.80 288.91L63.80 292.53M63.80 296.15L69.10 296.15M63.80 299.76L69.10 299.76M63.80 296.15L63.80 299.76M59.80 290.72L63.80 290.72M59.80 297.95L63.80 297.95M59.80 290.72L59.80 297.95M55.00 272.36L56.30 272.36M55.00 294.34L59.80 294.34M55.00 272.36L55.00 294.34M53.50 283.35L55.00 283.35M53.50 303.38L69.10 303.38M53.50 283.35L53.50 303.38M61.50 307.00L69.10 307.00M61.50 310.61L69.10 310.61M61.50 307.00L61.50 310.61M52.20 293.37L53.50 293.37M52.20 308.81L61.50 308.81M52.20 293.37L52.20 308.81M58.50 314.23L69.10 314.23M58.50 317.85L69.10 317.85M58.50 314.23L58.50 317.85M50.50 301.09L52.20 301.09M50.50 316.04L58.50 316.04M50.50 301.09L50.50 316.04M57.00 321.46L69.10 321.46M57.00 325.08L69.10 325.08M57.00 321.46L57.00 325.08M48.70 308.56L50.50 308.56M48.70 323.27L57.00 323.27M48.70 308.56L48.70 323.27M46.30 315.92L48.70 315.92M46.30 328.70L69.10 328.70M46.30 315.92L46.30 328.70M60.50 332.32L69.10 332.32M60.50 335.93L69.10 335.93M60.50 332.32L60.50 335.93M52.80 334.12L60.50 334.12M52.80 339.55L69.10 339.55M52.80 334.12L52.80 339.55M44.00 322.31L46.30 322.31M44.00 336.84L52.80 336.84M44.00 322.31L44.00 336.84M41.70 329.57L44.00 329.57M41.70 343.17L69.10 343.17M41.70 329.57L41.70 343.17M60.00 346.78L69.10 346.78M60.00 350.40L69.10 350.40M60.00 346.78L60.00 350.40M58.00 354.02L69.10 354.02M58.00 357.63L69.10 357.63M58.00 354.02L58.00 357.63M52.40 348.59L60.00 348.59M52.40 355.83L58.00 355.83M52.40 348.59L52.40 355.83M62.00 361.25L69.10 361.25M62.00 364.87L69.10 364.87M62.00 361.25L62.00 364.87M55.50 363.06L62.00 363.06M55.50 368.49L69.10 368.49M55.50 363.06L55.50 368.49M48.60 352.21L52.40 352.21M48.60 365.77L55.50 365.77M48.60 352.21L48.60 365.77M39.00 336.37L41.70 336.37M39.00 358.99L48.60 358.99M39.00 336.37L39.00 358.99M19.00 89.30L26.30 89.30M19.00 347.68L39.00 347.68M19.00 89.30L19.00 347.68" stroke="#555" stroke-width="0.8" fill="none"/>
<defs><linearGradient id="lg" x1="0" y1="0" x2="0" y2="1">
<stop offset="0" stop-color="#f00"/><stop offset="0.5" stop-color="#fff"/><stop offset="1" stop-color="#00f"/>
</linearGradient></defs>
<rect x="22.1" y="127.7" width="15.9" height="116.9" fill="url(#lg)"/>
<line x1="38.2" y1="127.70" x2="42.6" y2="127.70" stroke="#999" stroke-width="0.6"/>
<text x="46.0" y="129.60" font-size="5.4" fill="#333">2.0</text>
<line x1="38.2" y1="139.39" x2="42.6" y2="139.39" stroke="#999" stroke-width="0.6"/>
<text x="46.0" y="141.29" font-size="5.4" fill="#333">1.6</text>
<line x1="38.2" y1="151.08" x2="42.6" y2="151.08" stroke="#999" stroke-width="0.6"/>
<text x="46.0" y="152.98" font-size="5.4" fill="#333">1.2</text>
<line x1="38.2" y1="162.77" x2="42.6" y2="162.77" stroke="#999" stroke-width="0.6"/>
<text x="46.0" y="164.67" font-size="5.4" fill="#333">0.8</text>
<line x1="38.2" y1="174.46" x2="42.6" y2="174.46" stroke="#999" stroke-width="0.6"/>
<text x="46.0" y="176.36" font-size="5.4" fill="#333">0.4</text>
<line x1="38.2" y1="186.15" x2="42.6" y2="186.15" stroke="#999" stroke-width="0.6"/>
<text x="46.0" y="188.05" font-size="5.4" fill="#333">0.0</text>
<line x1="38.2" y1="197.84" x2="42.6" y2="197.84" stroke="#999" stroke-width="0.6"/>
<text x="44.2" y="199.74" font-size="5.4" fill="#333">-0.4</text>
<line x1="38.2" y1="209.53" x2="42.6" y2="209.53" stroke="#999" stroke-width="0.6"/>
<text x="44.2" y="211.43" font-size="5.4" fill="#333">-0.8</text>
<line x1="38.2" y1="221.22" x2="42.6" y2="221.22" stroke="#999" stroke-width="0.6"/>
<text x="44.2" y="223.12" font-size="5.4" fill="#333">-1.2</text>
<line x1="38.2" y1="232.91" x2="42.6" y2="232.91" stroke="#999" stroke-width="0.6"/>
<text x="44.2" y="234.81" font-size="5.4" fill="#333">-1.6</text>
<line x1="38.2" y1="244.60" x2="42.6" y2="244.60" stroke="#999" stroke-width="0.6"/>
<text x="44.2" y="246.50" font-size="5.4" fill="#333">-2.0</text>
<text x="495.2" y="76.81" font-size="3.85" fill="#1a1a1a">Hoxa9ab</text>
<text x="495.2" y="80.43" font-size="3.85" fill="#1a1a1a">Mpl1ar1</text>
<text x="495.2" y="84.04" font-size="3.85" fill="#1a1a1a">Bach2ip3</text>
<text x="495.2" y="87.66" font-size="3.85" fill="#1a1a1a">Pamk3c</text>
<text x="495.2" y="91.28" font-size="3.85" fill="#1a1a1a">Ivl1ba1</text>
<text x="495.2" y="94.89" font-size="3.85" fill="#1a1a1a">Dmdb3ab</text>
<text x="495.2" y="98.51" font-size="3.85" fill="#1a1a1a">Cd1d1r1</text>
<text x="495.2" y="102.13" font-size="3.85" fill="#1a1a1a">Eteaw2</text>
<text x="495.2" y="105.74" font-size="3.85" fill="#1a1a1a">Mxafo3</text>
<text x="495.2" y="109.36" font-size="3.85" fill="#1a1a1a">Myo1ca1</text>
<text x="495.2" y="112.98" font-size="3.85" fill="#1a1a1a">Ndufc1</text>
<text x="495.2" y="116.60" font-size="3.85" fill="#1a1a1a">Zmiz3r1</text>
<text x="495.2" y="120.21" font-size="3.85" fill="#1a1a1a">Ndufa4</text>
<text x="495.2" y="123.83" font-size="3.85" fill="#1a1a1a">Aifm1c</text>
<text x="495.2" y="127.45" font-size="3.85" fill="#1a1a1a">Chst3a1</text>
<text x="495.2" y="131.06" font-size="3.85" fill="#1a1a1a">Ndufb4</text>
<text x="495.2" y="134.68" font-size="3.85" fill="#1a1a1a">Mcph1r1</text>
<text x="495.2" y="138.30" font-size="3.85" fill="#1a1a1a">Cd7a2ip3</text>
<text x="495.2" y="141.91" font-size="3.85" fill="#1a1a1a">Rpel1c</text>
<text x="495.2" y="145.53" font-size="3.85" fill="#1a1a1a">Atp6v1b</text>
<text x="495.2" y="149.15" font-size="3.85" fill="#1a1a1a">Pbnd1ab</text>
<text x="495.2" y="152.77" font-size="3.85" fill="#1a1a1a">Ndufb8</text>
<text x="495.2" y="156.38" font-size="3.85" fill="#1a1a1a">Rbl1ip3</text>
<text x="495.2" y="160.00" font-size="3.85" fill="#1a1a1a">Cnbd2c</text>
<text x="495.2" y="163.62" font-size="3.85" fill="#1a1a1a">Lgd3a1</text>
<text x="495.2" y="167.23" font-size="3.85" fill="#1a1a1a">Sf1a1ab</text>
<text x="495.2" y="170.85" font-size="3.85" fill="#1a1a1a">Rkbs2r1</text>
<text x="495.2" y="174.47" font-size="3.85" fill="#1a1a1a">Ttyh4ip3</text>
<text x="495.2" y="178.08" font-size="3.85" fill="#1a1a1a">Fbxl5c</text>
<text x="495.2" y="181.70" font-size="3.85" fill="#1a1a1a">Vamp5a1</text>
<text x="495.2" y="185.32" font-size="3.85" fill="#1a1a1a">Cd3bab</text>
<text x="495.2" y="188.94" font-size="3.85" fill="#1a1a1a">Nfkb1r1</text>
<text x="495.2" y="192.55" font-size="3.85" fill="#1a1a1a">Sox4ip3</text>
<text x="495.2" y="196.17" font-size="3.85" fill="#1a1a1a">Tlx3c</text>
<text x="495.2" y="199.79" font-size="3.85" fill="#1a1a1a">Rag1a1</text>
<text x="495.2" y="203.40" font-size="3.85" fill="#1a1a1a">Cd24aab</text>
<text x="495.2" y="207.02" font-size="3.85" fill="#1a1a1a">Egfl7r1</text>
<text x="495.2" y="210.64" font-size="3.85" fill="#1a1a1a">Bcl11a</text>
<text x="495.2" y="214.25" font-size="3.85" fill="#1a1a1a">Lig4c</text>
<text x="495.2" y="217.87" font-size="3.85" fill="#1a1a1a">Pax5a1</text>
<text x="495.2" y="221.49" font-size="3.85" fill="#1a1a1a">Snx9ab</text>
<text x="495.2" y="225.11" font-size="3.85" fill="#1a1a1a">Vpreb1</text>
<text x="495.2" y="228.72" font-size="3.85" fill="#1a1a1a">Ebf1ip3</text>
<text x="495.2" y="232.34" font-size="3.85" fill="#1a1a1a">Irf4c</text>
<text x="495.2" y="235.96" font-size="3.85" fill="#1a1a1a">Igll1a1</text>
<text x="495.2" y="239.57" font-size="3.85" fill="#1a1a1a">Kitab</text>
<text x="495.2" y="243.19" font-size="3.85" fill="#1a1a1a">Flt3r1</text>
<text x="495.2" y="246.81" font-size="3.85" fill="#1a1a1a">Cd34ip3</text>
<text x="495.2" y="250.42" font-size="3.85" fill="#1a1a1a">Rbm47c</text>
<text x="495.2" y="254.04" font-size="3.85" fill="#1a1a1a">Lmo2a1</text>
<text x="495.2" y="257.66" font-size="3.85" fill="#1a1a1a">Meis1ab</text>
<text x="495.2" y="261.28" font-size="3.85" fill="#1a1a1a">Ergic1</text>
<text x="495.2" y="264.89" font-size="3.85" fill="#1a1a1a">Gata2ip3</text>
<text x="495.2" y="268.51" font-size="3.85" fill="#1a1a1a">Mycnc</text>
<text x="495.2" y="272.13" font-size="3.85" fill="#1a1a1a">Hlfa1</text>
<text x="495.2" y="275.74" font-size="3.85" fill="#1a1a1a">Prdm16</text>
<text x="495.2" y="279.36" font-size="3.85" fill="#1a1a1a">Tcf3r1</text>
<text x="495.2" y="282.98" font-size="3.85" fill="#1a1a1a">Ikzf1ip3</text>
<text x="495.2" y="286.59" font-size="3.85" fill="#1a1a1a">Runx1c</text>
<text x="495.2" y="290.21" font-size="3.85" fill="#1a1a1a">Cbfa2t3</text>
<text x="495.2" y="293.83" font-size="3.85" fill="#1a1a1a">Id2ab</text>
<text x="495.2" y="297.45" font-size="3.85" fill="#1a1a1a">Mef2cr1</text>
<text x="495.2" y="301.06" font-size="3.85" fill="#1a1a1a">Klf2ip3</text>
<text x="495.2" y="304.68" font-size="3.85" fill="#1a1a1a">Cd93c</text>
<text x="495.2" y="308.30" font-size="3.85" fill="#1a1a1a">Il7ra1</text>
<text x="495.2" y="311.91" font-size="3.85" fill="#1a1a1a">Dnttab</text>
<text x="495.2" y="315.53" font-size="3.85" fill="#1a1a1a">Ptprcr1</text>
<text x="495.2" y="319.15" font-size="3.85" fill="#1a1a1a">Spi1ip3</text>
<text x="495.2" y="322.76" font-size="3.85" fill="#1a1a1a">Mybc</text>
<text x="495.2" y="326.38" font-size="3.85" fill="#1a1a1a">Ccnd2a1</text>
<text x="495.2" y="330.00" font-size="3.85" fill="#1a1a1a">Tmsb4x</text>
<text x="495.2" y="333.62" font-size="3.85" fill="#1a1a1a">Lyl1r1</text>
<text x="495.2" y="337.23" font-size="3.85" fill="#1a1a1a">Ptk2bip3</text>
<text x="495.2" y="340.85" font-size="3.85" fill="#1a1a1a">Klf3c</text>
<text x="495.2" y="344.47" font-size="3.85" fill="#1a1a1a">Toxa1</text>
<text x="495.2" y="348.08" font-size="3.85" fill="#1a1a1a">Aff3ab</text>
<text x="495.2" y="351.70" font-size="3.85" fill="#1a1a1a">Cdk6r1</text>
<text x="495.2" y="355.32" font-size="3.85" fill="#1a1a1a">Lef1ip3</text>
<text x="495.2" y="358.93" font-size="3.85" fill="#1a1a1a">Cd19c</text>
<text x="495.2" y="362.55" font-size="3.85" fill="#1a1a1a">Fam69a</text>
<text x="495.2" y="366.17" font-size="3.85" fill="#1a1a1a">Pcdh7ab</text>
<text x="495.2" y="369.79" font-size="3.85" fill="#1a1a1a">Rag2r1</text>
<text transform="translate(73.10 400.90) rotate(-90)" font-size="3.9" fill="#111" textLength="28.4" lengthAdjust="spacingAndGlyphs">ProB_FrC_BM</text>
<text transform="translate(78.51 400.90) rotate(-90)" font-size="3.9" fill="#111" textLength="28.4" lengthAdjust="spacingAndGlyphs">ProB_FrC_BM</text>
<text transform="translate(83.91 400.90) rotate(-90)" font-size="3.9" fill="#111" textLength="28.4" lengthAdjust="spacingAndGlyphs">ProB_FrC_BM</text>
<text transform="translate(89.32 405.00) rotate(-90)" font-size="3.9" fill="#111" textLength="32.5" lengthAdjust="spacingAndGlyphs">ProB_HSC_BM_</text>
<text transform="translate(94.73 405.00) rotate(-90)" font-size="3.9" fill="#111" textLength="32.5" lengthAdjust="spacingAndGlyphs">ProB_HSC_BM_</text>
<text transform="translate(100.13 400.90) rotate(-90)" font-size="3.9" fill="#111" textLength="28.4" lengthAdjust="spacingAndGlyphs">ProB_FrC_BM</text>
<text transform="translate(105.54 400.90) rotate(-90)" font-size="3.9" fill="#111" textLength="28.4" lengthAdjust="spacingAndGlyphs">ProB_FrC_BM</text>
<text transform="translate(110.94 400.90) rotate(-90)" font-size="3.9" fill="#111" textLength="28.4" lengthAdjust="spacingAndGlyphs">ProB_FrC_BM</text>
<text transform="translate(116.35 400.90) rotate(-90)" font-size="3.9" fill="#111" textLength="28.4" lengthAdjust="spacingAndGlyphs">ProB_FrC_BM</text>
<text transform="translate(121.76 400.90) rotate(-90)" font-size="3.9" fill="#111" textLength="28.4" lengthAdjust="spacingAndGlyphs">ProB_FrC_BM</text>
<text transform="translate(127.16 400.90) rotate(-90)" font-size="3.9" fill="#111" textLength="28.4" lengthAdjust="spacingAndGlyphs">ProB_FrC_BM</text>
<text transform="translate(132.57 389.00) rotate(-90)" font-size="3.9" fill="#111" textLength="16.5" lengthAdjust="spacingAndGlyphs">B_T1_BM</text>
<text transform="translate(137.98 389.00) rotate(-90)" font-size="3.9" fill="#111" textLength="16.5" lengthAdjust="spacingAndGlyphs">B_T1_BM</text>
<text transform="translate(143.38 389.00) rotate(-90)" font-size="3.9" fill="#111" textLength="16.5" lengthAdjust="spacingAndGlyphs">B_T1_BM</text>
<text transform="translate(148.79 389.00) rotate(-90)" font-size="3.9" fill="#111" textLength="16.5" lengthAdjust="spacingAndGlyphs">B_T1_BM</text>
<text transform="translate(154.19 389.00) rotate(-90)" font-size="3.9" fill="#111" textLength="16.5" lengthAdjust="spacingAndGlyphs">B_T1_BM</text>
<text transform="translate(159.60 389.00) rotate(-90)" font-size="3.9" fill="#111" textLength="16.5" lengthAdjust="spacingAndGlyphs">B_T1_BM</text>
<text transform="translate(165.00 389.00) rotate(-90)" font-size="3.9" fill="#111" textLength="16.5" lengthAdjust="spacingAndGlyphs">B_T1_BM</text>
<text transform="translate(170.41 389.00) rotate(-90)" font-size="3.9" fill="#111" textLength="16.5" lengthAdjust="spacingAndGlyphs">B_T1_BM</text>
<text transform="translate(175.82 389.00) rotate(-90)" font-size="3.9" fill="#111" textLength="16.5" lengthAdjust="spacingAndGlyphs">B_T1_BM</text>
<text transform="translate(181.22 392.70) rotate(-90)" font-size="3.9" fill="#111" textLength="20.2" lengthAdjust="spacingAndGlyphs">B_FrL_BM</text>
<text transform="translate(186.63 392.70) rotate(-90)" font-size="3.9" fill="#111" textLength="20.2" lengthAdjust="spacingAndGlyphs">B_FrL_BM</text>
<text transform="translate(192.03 392.70) rotate(-90)" font-size="3.9" fill="#111" textLength="20.2" lengthAdjust="spacingAndGlyphs">B_FrL_BM</text>
<text transform="translate(197.44 392.70) rotate(-90)" font-size="3.9" fill="#111" textLength="20.2" lengthAdjust="spacingAndGlyphs">B_FrL_BM</text>
<text transform="translate(202.85 392.70) rotate(-90)" font-size="3.9" fill="#111" textLength="20.2" lengthAdjust="spacingAndGlyphs">B_FrL_BM</text>
<text transform="translate(208.25 389.00) rotate(-90)" font-size="3.9" fill="#111" textLength="16.5" lengthAdjust="spacingAndGlyphs">B_T1_BM</text>
<text transform="translate(213.66 389.00) rotate(-90)" font-size="3.9" fill="#111" textLength="16.5" lengthAdjust="spacingAndGlyphs">B_T1_BM</text>
<text transform="translate(219.06 389.00) rotate(-90)" font-size="3.9" fill="#111" textLength="16.5" lengthAdjust="spacingAndGlyphs">B_T1_BM</text>
<text transform="translate(224.47 389.00) rotate(-90)" font-size="3.9" fill="#111" textLength="16.5" lengthAdjust="spacingAndGlyphs">B_T1_BM</text>
<text transform="translate(229.88 389.00) rotate(-90)" font-size="3.9" fill="#111" textLength="16.5" lengthAdjust="spacingAndGlyphs">B_T1_BM</text>
<text transform="translate(235.28 389.00) rotate(-90)" font-size="3.9" fill="#111" textLength="16.5" lengthAdjust="spacingAndGlyphs">B_T1_BM</text>
<text transform="translate(240.69 389.00) rotate(-90)" font-size="3.9" fill="#111" textLength="16.5" lengthAdjust="spacingAndGlyphs">B_T1_BM</text>
<text transform="translate(246.09 389.00) rotate(-90)" font-size="3.9" fill="#111" textLength="16.5" lengthAdjust="spacingAndGlyphs">B_T1_BM</text>
<text transform="translate(251.50 389.00) rotate(-90)" font-size="3.9" fill="#111" textLength="16.5" lengthAdjust="spacingAndGlyphs">B_T1_BM</text>
<text transform="translate(256.91 389.00) rotate(-90)" font-size="3.9" fill="#111" textLength="16.5" lengthAdjust="spacingAndGlyphs">B_T1_BM</text>
<text transform="translate(262.31 389.00) rotate(-90)" font-size="3.9" fill="#111" textLength="16.5" lengthAdjust="spacingAndGlyphs">B_T1_BM</text>
<text transform="translate(267.72 389.00) rotate(-90)" font-size="3.9" fill="#111" textLength="16.5" lengthAdjust="spacingAndGlyphs">B_T1_BM</text>
<text transform="translate(273.12 389.00) rotate(-90)" font-size="3.9" fill="#111" textLength="16.5" lengthAdjust="spacingAndGlyphs">B_T1_BM</text>
<text transform="translate(278.53 389.00) rotate(-90)" font-size="3.9" fill="#111" textLength="16.5" lengthAdjust="spacingAndGlyphs">B_T1_BM</text>
<text transform="translate(283.94 389.00) rotate(-90)" font-size="3.9" fill="#111" textLength="16.5" lengthAdjust="spacingAndGlyphs">B_T1_BM</text>
<text transform="translate(289.34 389.00) rotate(-90)" font-size="3.9" fill="#111" textLength="16.5" lengthAdjust="spacingAndGlyphs">B_T1_BM</text>
<text transform="translate(294.75 389.00) rotate(-90)" font-size="3.9" fill="#111" textLength="16.5" lengthAdjust="spacingAndGlyphs">B_T1_BM</text>
<text transform="translate(300.16 389.00) rotate(-90)" font-size="3.9" fill="#111" textLength="16.5" lengthAdjust="spacingAndGlyphs">B_T1_BM</text>
<text transform="translate(305.56 389.00) rotate(-90)" font-size="3.9" fill="#111" textLength="16.5" lengthAdjust="spacingAndGlyphs">B_T1_BM</text>
<text transform="translate(310.97 389.00) rotate(-90)" font-size="3.9" fill="#111" textLength="16.5" lengthAdjust="spacingAndGlyphs">B_T1_BM</text>
<text transform="translate(316.37 389.00) rotate(-90)" font-size="3.9" fill="#111" textLength="16.5" lengthAdjust="spacingAndGlyphs">B_T1_BM</text>
<text transform="translate(321.78 392.70) rotate(-90)" font-size="3.9" fill="#111" textLength="20.2" lengthAdjust="spacingAndGlyphs">B_FrL_BM</text>
<text transform="translate(327.19 392.70) rotate(-90)" font-size="3.9" fill="#111" textLength="20.2" lengthAdjust="spacingAndGlyphs">B_FrL_BM</text>
<text transform="translate(332.59 392.70) rotate(-90)" font-size="3.9" fill="#111" textLength="20.2" lengthAdjust="spacingAndGlyphs">B_FrL_BM</text>
<text transform="translate(338.00 390.40) rotate(-90)" font-size="3.9" fill="#111" textLength="17.9" lengthAdjust="spacingAndGlyphs">B_T1_BM</text>
<text transform="translate(343.40 390.40) rotate(-90)" font-size="3.9" fill="#111" textLength="17.9" lengthAdjust="spacingAndGlyphs">B_T1_BM</text>
<text transform="translate(348.81 390.40) rotate(-90)" font-size="3.9" fill="#111" textLength="17.9" lengthAdjust="spacingAndGlyphs">B_T1_BM</text>
<text transform="translate(354.21 389.00) rotate(-90)" font-size="3.9" fill="#111" textLength="16.5" lengthAdjust="spacingAndGlyphs">B_T1_BM</text>
<text transform="translate(359.62 389.00) rotate(-90)" font-size="3.9" fill="#111" textLength="16.5" lengthAdjust="spacingAndGlyphs">B_T1_BM</text>
<text transform="translate(365.03 389.00) rotate(-90)" font-size="3.9" fill="#111" textLength="16.5" lengthAdjust="spacingAndGlyphs">B_T1_BM</text>
<text transform="translate(370.43 400.00) rotate(-90)" font-size="3.9" fill="#111" textLength="27.5" lengthAdjust="spacingAndGlyphs">ProB_CLP_BM</text>
<text transform="translate(375.84 400.00) rotate(-90)" font-size="3.9" fill="#111" textLength="27.5" lengthAdjust="spacingAndGlyphs">ProB_CLP_BM</text>
<text transform="translate(381.24 400.00) rotate(-90)" font-size="3.9" fill="#111" textLength="27.5" lengthAdjust="spacingAndGlyphs">ProB_CLP_BM</text>
<text transform="translate(386.65 401.40) rotate(-90)" font-size="3.9" fill="#111" textLength="28.9" lengthAdjust="spacingAndGlyphs">ProB_CLP_BM</text>
<text transform="translate(392.06 399.00) rotate(-90)" font-size="3.9" fill="#111" textLength="26.5" lengthAdjust="spacingAndGlyphs">ProB_CLP_BM</text>
<text transform="translate(397.46 401.40) rotate(-90)" font-size="3.9" fill="#111" textLength="28.9" lengthAdjust="spacingAndGlyphs">ProB_CLP_BM</text>
<text transform="translate(402.87 390.00) rotate(-90)" font-size="3.9" fill="#111" textLength="17.5" lengthAdjust="spacingAndGlyphs">B_T1_BM</text>
<text transform="translate(408.28 390.00) rotate(-90)" font-size="3.9" fill="#111" textLength="17.5" lengthAdjust="spacingAndGlyphs">B_T1_BM</text>
<text transform="translate(413.68 390.00) rotate(-90)" font-size="3.9" fill="#111" textLength="17.5" lengthAdjust="spacingAndGlyphs">B_T1_BM</text>
<text transform="translate(419.09 390.00) rotate(-90)" font-size="3.9" fill="#111" textLength="17.5" lengthAdjust="spacingAndGlyphs">B_T1_BM</text>
<text transform="translate(424.49 387.50) rotate(-90)" font-size="3.9" fill="#111" textLength="15.0" lengthAdjust="spacingAndGlyphs">B_T1_BM</text>
<text transform="translate(429.90 397.40) rotate(-90)" font-size="3.9" fill="#111" textLength="24.9" lengthAdjust="spacingAndGlyphs">ProB_FL_</text>
<text transform="translate(435.31 397.40) rotate(-90)" font-size="3.9" fill="#111" textLength="24.9" lengthAdjust="spacingAndGlyphs">ProB_FL_</text>
<text transform="translate(440.71 397.40) rotate(-90)" font-size="3.9" fill="#111" textLength="24.9" lengthAdjust="spacingAndGlyphs">ProB_FL_</text>
<text transform="translate(446.12 388.00) rotate(-90)" font-size="3.9" fill="#111" textLength="15.5" lengthAdjust="spacingAndGlyphs">B_T1_BM</text>
<text transform="translate(451.52 388.00) rotate(-90)" font-size="3.9" fill="#111" textLength="15.5" lengthAdjust="spacingAndGlyphs">B_T1_BM</text>
<text transform="translate(456.93 399.00) rotate(-90)" font-size="3.9" fill="#111" textLength="26.5" lengthAdjust="spacingAndGlyphs">ProB_CLP_BM</text>
<text transform="translate(462.33 399.00) rotate(-90)" font-size="3.9" fill="#111" textLength="26.5" lengthAdjust="spacingAndGlyphs">ProB_CLP_BM</text>
<text transform="translate(467.74 399.00) rotate(-90)" font-size="3.9" fill="#111" textLength="26.5" lengthAdjust="spacingAndGlyphs">ProB_CLP_BM</text>
<text transform="translate(473.15 399.00) rotate(-90)" font-size="3.9" fill="#111" textLength="26.5" lengthAdjust="spacingAndGlyphs">ProB_CLP_BM</text>
<text transform="translate(478.55 401.00) rotate(-90)" font-size="3.9" fill="#111" textLength="28.5" lengthAdjust="spacingAndGlyphs">ProB_CLP_BM</text>
<text transform="translate(483.96 399.00) rotate(-90)" font-size="3.9" fill="#111" textLength="26.5" lengthAdjust="spacingAndGlyphs">ProB_CLP_BM</text>
<text transform="translate(489.36 399.00) rotate(-90)" font-size="3.9" fill="#111" textLength="26.5" lengthAdjust="spacingAndGlyphs">ProB_CLP_BM</text>
<rect x="85.5" y="370.1" width="11.3" height="37.4" fill="none" stroke="#3a3a6a" stroke-width="0.9"/>
<rect x="366.6" y="370.1" width="15.2" height="37.3" fill="none" stroke="#c0392b" stroke-width="0.9"/>
<text x="108.1" y="444.0" font-size="6.5" fill="#222">Gene set:</text>
<text x="108.1" y="451.4" font-size="6.5" fill="#222">NP23 leukemia core genes</text>
<line x1="138.4" y1="456.4" x2="138.4" y2="500.5" stroke="#f3f3f3" stroke-width="0.5"/>
<line x1="156.5" y1="456.4" x2="156.5" y2="500.5" stroke="#f3f3f3" stroke-width="0.5"/>
<line x1="174.6" y1="456.4" x2="174.6" y2="500.5" stroke="#f3f3f3" stroke-width="0.5"/>
<line x1="192.7" y1="456.4" x2="192.7" y2="500.5" stroke="#f3f3f3" stroke-width="0.5"/>
<line x1="210.8" y1="456.4" x2="210.8" y2="500.5" stroke="#f3f3f3" stroke-width="0.5"/>
<line x1="228.9" y1="456.4" x2="228.9" y2="500.5" stroke="#f3f3f3" stroke-width="0.5"/>
<line x1="247.0" y1="456.4" x2="247.0" y2="500.5" stroke="#f3f3f3" stroke-width="0.5"/>
<line x1="120.4" y1="500.50" x2="253.7" y2="500.50" stroke="#f0f0f0" stroke-width="0.5"/>
<line x1="120.4" y1="492.50" x2="253.7" y2="492.50" stroke="#f0f0f0" stroke-width="0.5"/>
<line x1="120.4" y1="484.50" x2="253.7" y2="484.50" stroke="#f0f0f0" stroke-width="0.5"/>
<line x1="120.4" y1="476.50" x2="253.7" y2="476.50" stroke="#f0f0f0" stroke-width="0.5"/>
<line x1="120.4" y1="468.50" x2="253.7" y2="468.50" stroke="#f0f0f0" stroke-width="0.5"/>
<line x1="120.4" y1="460.50" x2="253.7" y2="460.50" stroke="#f0f0f0" stroke-width="0.5"/>
<line x1="120.4" y1="500.50" x2="253.7" y2="500.50" stroke="#bbb" stroke-width="0.6"/>
<line x1="120.4" y1="506.30" x2="253.7" y2="506.30" stroke="#e8c8c8" stroke-width="0.5"/>
<rect x="122.90" y="508.00" width="2.00" height="15.60" fill="#151515"/>
<rect x="125.10" y="508.00" width="3.80" height="15.60" fill="#aaa"/>
<rect x="129.20" y="508.00" width="3.70" height="15.60" fill="#1a1a1a"/>
<rect x="133.30" y="508.00" width="1.40" height="15.60" fill="#ccc"/>
<rect x="136.10" y="508.00" width="1.60" height="15.60" fill="#999"/>
<rect x="138.40" y="508.00" width="2.60" height="15.60" fill="#aaa"/>
<rect x="142.40" y="508.00" width="2.10" height="15.60" fill="#555"/>
<rect x="145.30" y="508.00" width="2.10" height="15.60" fill="#bbb"/>
<rect x="148.20" y="508.00" width="1.60" height="15.60" fill="#999"/>
<rect x="150.00" y="508.00" width="2.00" height="15.60" fill="#999"/>
<rect x="152.80" y="508.00" width="2.10" height="15.60" fill="#555"/>
<rect x="155.70" y="508.00" width="2.00" height="15.60" fill="#bbb"/>
<rect x="158.60" y="508.00" width="1.60" height="15.60" fill="#222"/>
<rect x="163.30" y="508.00" width="1.50" height="15.60" fill="#999"/>
<rect x="165.50" y="508.00" width="1.50" height="15.60" fill="#333"/>
<rect x="170.20" y="508.00" width="1.90" height="15.60" fill="#aaa"/>
<rect x="186.10" y="508.00" width="1.40" height="15.60" fill="#999"/>
<rect x="189.90" y="508.00" width="1.40" height="15.60" fill="#888"/>
<rect x="191.50" y="508.00" width="1.20" height="15.60" fill="#aaa"/>
<rect x="196.20" y="508.00" width="1.40" height="15.60" fill="#999"/>
<rect x="198.30" y="508.00" width="1.40" height="15.60" fill="#999"/>
<rect x="204.30" y="508.00" width="1.40" height="15.60" fill="#888"/>
<rect x="208.80" y="508.00" width="1.40" height="15.60" fill="#999"/>
<rect x="219.10" y="508.00" width="1.40" height="15.60" fill="#999"/>
<rect x="224.10" y="508.00" width="1.30" height="15.60" fill="#aaa"/>
<rect x="236.60" y="508.00" width="1.70" height="15.60" fill="#999"/>
<rect x="242.70" y="508.00" width="1.60" height="15.60" fill="#888"/>
<rect x="245.10" y="508.00" width="1.30" height="15.60" fill="#aaa"/>
<defs><linearGradient id="gb" x1="0" y1="0" x2="1" y2="0"><stop offset="0.000" stop-color="#e8303c"/><stop offset="0.250" stop-color="#ec4f5c"/><stop offset="0.430" stop-color="#f07a86"/><stop offset="0.450" stop-color="#f3b2cf"/><stop offset="0.550" stop-color="#eec0e0"/><stop offset="0.560" stop-color="#d0c4f0"/><stop offset="0.730" stop-color="#c0b8f0"/><stop offset="0.740" stop-color="#7070e4"/><stop offset="0.950" stop-color="#4848d8"/><stop offset="0.955" stop-color="#14148c"/><stop offset="1.000" stop-color="#101080"/></linearGradient></defs>
<rect x="120.90" y="523.60" width="126.30" height="4.50" fill="url(#gb)"/>
<path d="M120.9 545.5 L120.9 542.8 L125 543.4 L135 544.0 L150 544.6 L165 545.1 L178.5 545.5 L200 545.9 L220 546.3 L235 546.9 L242 547.6 L245 548.6 L246.5 550.5 L247.0 553.5 L247.2 545.5 Z" fill="#dcdcdc" stroke="#c4c4c4" stroke-width="0.5"/>
<line x1="120.4" y1="545.50" x2="247.2" y2="545.50" stroke="#999" stroke-width="0.4"/>
<text x="122.2" y="531.0" font-size="2.6" fill="#e03030" textLength="40.5" lengthAdjust="spacingAndGlyphs">'ProB' (positively correlated)</text>
<text x="121.8" y="536.9" font-size="5.4" fill="#8a3a66" textLength="32.0" lengthAdjust="spacingAndGlyphs">ProB hSC FL</text>
<text x="196.0" y="536.9" font-size="5.4" fill="#6c6c96" textLength="35.5" lengthAdjust="spacingAndGlyphs">ProB hSC BM</text>
<text x="177.5" y="546.9" font-size="2.6" fill="#333" textLength="25.0" lengthAdjust="spacingAndGlyphs">Zero cross at 3879</text>
<text x="187.0" y="560.6" font-size="2.6" fill="#3030c0" textLength="43.5" lengthAdjust="spacingAndGlyphs">'hSC' (negatively correlated)</text>
<polyline points="120.6,500.4 122.0,493.8 124.8,481.3 127.5,479.9 130.3,475.7 131.5,470.0 133.1,463.2 135.9,461.8 137.3,459.8 142.9,459.5 147.0,459.9 151.3,459.0 154.0,459.8 156.8,460.4 159.6,458.1 163.8,459.8 170.8,462.6 184.7,471.5 198.7,479.9 212.6,486.9 226.5,495.2 234.9,500.8 239.1,502.2 241.9,503.6 244.7,501.6 247.2,500.0" fill="none" stroke="#44d444" stroke-width="1.25" stroke-linejoin="round"/>
<text x="192.8" y="463.9" font-size="5.6" fill="#333">NES= 2.166</text>
<text x="192.8" y="470.6" font-size="5.6" fill="#333">FDR q value= 0</text>
<rect x="120.40" y="456.40" width="133.30" height="106.00" fill="none" stroke="#111" stroke-width="1"/>
<line x1="116.6" y1="500.50" x2="120.4" y2="500.50" stroke="#111" stroke-width="0.7"/>
<text x="115.2" y="501.80" font-size="4.3" fill="#333" text-anchor="end">0.0</text>
<line x1="116.6" y1="492.50" x2="120.4" y2="492.50" stroke="#111" stroke-width="0.7"/>
<text x="115.2" y="493.80" font-size="4.3" fill="#333" text-anchor="end">0.1</text>
<line x1="116.6" y1="484.50" x2="120.4" y2="484.50" stroke="#111" stroke-width="0.7"/>
<text x="115.2" y="485.80" font-size="4.3" fill="#333" text-anchor="end">0.2</text>
<line x1="116.6" y1="476.50" x2="120.4" y2="476.50" stroke="#111" stroke-width="0.7"/>
<text x="115.2" y="477.80" font-size="4.3" fill="#333" text-anchor="end">0.3</text>
<line x1="116.6" y1="468.50" x2="120.4" y2="468.50" stroke="#111" stroke-width="0.7"/>
<text x="115.2" y="469.80" font-size="4.3" fill="#333" text-anchor="end">0.4</text>
<line x1="116.6" y1="460.50" x2="120.4" y2="460.50" stroke="#111" stroke-width="0.7"/>
<text x="115.2" y="461.80" font-size="4.3" fill="#333" text-anchor="end">0.5</text>
<line x1="116.6" y1="529.70" x2="120.4" y2="529.70" stroke="#111" stroke-width="0.7"/>
<text x="115.2" y="531.10" font-size="4.2" fill="#333" text-anchor="end">2</text>
<line x1="116.6" y1="537.80" x2="120.4" y2="537.80" stroke="#111" stroke-width="0.7"/>
<text x="115.2" y="539.20" font-size="4.2" fill="#333" text-anchor="end">1</text>
<line x1="116.6" y1="545.80" x2="120.4" y2="545.80" stroke="#111" stroke-width="0.7"/>
<text x="115.2" y="547.20" font-size="4.2" fill="#333" text-anchor="end">0</text>
<line x1="116.6" y1="553.90" x2="120.4" y2="553.90" stroke="#111" stroke-width="0.7"/>
<text x="115.2" y="555.30" font-size="4.2" fill="#333" text-anchor="end">-1</text>
<line x1="116.6" y1="562.00" x2="120.4" y2="562.00" stroke="#111" stroke-width="0.7"/>
<text x="115.2" y="563.40" font-size="4.2" fill="#333" text-anchor="end">-2</text>
<line x1="120.30" y1="562.40" x2="120.30" y2="565.00" stroke="#111" stroke-width="0.7"/>
<text x="120.30" y="572.80" font-size="4.5" fill="#444" text-anchor="middle">0</text>
<line x1="138.40" y1="562.40" x2="138.40" y2="565.00" stroke="#111" stroke-width="0.7"/>
<text x="138.40" y="572.80" font-size="4.5" fill="#444" text-anchor="middle">1,000</text>
<line x1="156.50" y1="562.40" x2="156.50" y2="565.00" stroke="#111" stroke-width="0.7"/>
<text x="156.50" y="572.80" font-size="4.5" fill="#444" text-anchor="middle">2,000</text>
<line x1="174.60" y1="562.40" x2="174.60" y2="565.00" stroke="#111" stroke-width="0.7"/>
<text x="174.60" y="572.80" font-size="4.5" fill="#444" text-anchor="middle">3,000</text>
<line x1="192.70" y1="562.40" x2="192.70" y2="565.00" stroke="#111" stroke-width="0.7"/>
<text x="192.70" y="572.80" font-size="4.5" fill="#444" text-anchor="middle">4,000</text>
<line x1="210.80" y1="562.40" x2="210.80" y2="565.00" stroke="#111" stroke-width="0.7"/>
<text x="210.80" y="572.80" font-size="4.5" fill="#444" text-anchor="middle">5,000</text>
<line x1="228.90" y1="562.40" x2="228.90" y2="565.00" stroke="#111" stroke-width="0.7"/>
<text x="228.90" y="572.80" font-size="4.5" fill="#444" text-anchor="middle">6,000</text>
<line x1="247.00" y1="562.40" x2="247.00" y2="565.00" stroke="#111" stroke-width="0.7"/>
<text x="247.00" y="572.80" font-size="4.5" fill="#444" text-anchor="middle">7,000</text>
<text transform="translate(101.4 501.3) rotate(-90)" font-size="4.9" fill="#222" textLength="44.6" lengthAdjust="spacingAndGlyphs">Enrichment score (ES)</text>
<text transform="translate(101.4 579.0) rotate(-90)" font-size="4.9" fill="#222" textLength="67.5" lengthAdjust="spacingAndGlyphs">Ranked list metric (Signal2Noise)</text>
<text x="162.3" y="582.7" font-size="6.9" fill="#111" stroke="#111" stroke-width="0.25" textLength="50.0" lengthAdjust="spacingAndGlyphs">Rank in ordered dataset</text>
<line x1="123.6" y1="590.0" x2="129.0" y2="590.0" stroke="#3fd13f" stroke-width="1.2"/>
<text x="131.4" y="591.5" font-size="4.8" fill="#222" textLength="35.5" lengthAdjust="spacingAndGlyphs">Enrichment profile</text>
<line x1="169.8" y1="590.0" x2="174.8" y2="590.0" stroke="#111" stroke-width="1.3"/>
<text x="178.1" y="591.5" font-size="4.8" fill="#222" textLength="9" lengthAdjust="spacingAndGlyphs">Hits</text>
<line x1="190.3" y1="590.0" x2="195.1" y2="590.0" stroke="#ddd" stroke-width="0.8"/>
<line x1="199.1" y1="590.0" x2="204.1" y2="590.0" stroke="#ddd" stroke-width="0.8"/>
<text x="207.6" y="591.5" font-size="4.8" fill="#222" textLength="43.0" lengthAdjust="spacingAndGlyphs">Ranking metric scores</text>
<text x="297.8" y="448.7" font-size="6.5" fill="#222">Gene set:</text>
<text x="297.8" y="456.7" font-size="6.5" fill="#222">NP23 leukemia core genes</text>
<line x1="322.0" y1="460.6" x2="322.0" y2="507.0" stroke="#f3f3f3" stroke-width="0.5"/>
<line x1="336.4" y1="460.6" x2="336.4" y2="507.0" stroke="#f3f3f3" stroke-width="0.5"/>
<line x1="350.9" y1="460.6" x2="350.9" y2="507.0" stroke="#f3f3f3" stroke-width="0.5"/>
<line x1="365.3" y1="460.6" x2="365.3" y2="507.0" stroke="#f3f3f3" stroke-width="0.5"/>
<line x1="379.7" y1="460.6" x2="379.7" y2="507.0" stroke="#f3f3f3" stroke-width="0.5"/>
<line x1="394.1" y1="460.6" x2="394.1" y2="507.0" stroke="#f3f3f3" stroke-width="0.5"/>
<line x1="408.5" y1="460.6" x2="408.5" y2="507.0" stroke="#f3f3f3" stroke-width="0.5"/>
<line x1="423.0" y1="460.6" x2="423.0" y2="507.0" stroke="#f3f3f3" stroke-width="0.5"/>
<line x1="307.6" y1="506.60" x2="434.9" y2="506.60" stroke="#f0f0f0" stroke-width="0.5"/>
<line x1="307.6" y1="502.15" x2="434.9" y2="502.15" stroke="#f0f0f0" stroke-width="0.5"/>
<line x1="307.6" y1="497.70" x2="434.9" y2="497.70" stroke="#f0f0f0" stroke-width="0.5"/>
<line x1="307.6" y1="493.25" x2="434.9" y2="493.25" stroke="#f0f0f0" stroke-width="0.5"/>
<line x1="307.6" y1="488.80" x2="434.9" y2="488.80" stroke="#f0f0f0" stroke-width="0.5"/>
<line x1="307.6" y1="484.35" x2="434.9" y2="484.35" stroke="#f0f0f0" stroke-width="0.5"/>
<line x1="307.6" y1="479.90" x2="434.9" y2="479.90" stroke="#f0f0f0" stroke-width="0.5"/>
<line x1="307.6" y1="475.45" x2="434.9" y2="475.45" stroke="#f0f0f0" stroke-width="0.5"/>
<line x1="307.6" y1="471.00" x2="434.9" y2="471.00" stroke="#f0f0f0" stroke-width="0.5"/>
<line x1="307.6" y1="466.55" x2="434.9" y2="466.55" stroke="#f0f0f0" stroke-width="0.5"/>
<line x1="307.6" y1="462.10" x2="434.9" y2="462.10" stroke="#f0f0f0" stroke-width="0.5"/>
<line x1="307.6" y1="507.00" x2="434.9" y2="507.00" stroke="#bbb" stroke-width="0.6"/>
<line x1="307.6" y1="508.60" x2="434.9" y2="508.60" stroke="#e8c8c8" stroke-width="0.5"/>
<rect x="308.40" y="510.20" width="1.80" height="15.70" fill="#999"/>
<rect x="310.20" y="510.20" width="2.80" height="15.70" fill="#444"/>
<rect x="317.50" y="510.20" width="1.80" height="15.70" fill="#222"/>
<rect x="319.20" y="510.20" width="2.40" height="15.70" fill="#999"/>
<rect x="327.50" y="510.20" width="1.80" height="15.70" fill="#aaa"/>
<rect x="329.80" y="510.20" width="1.70" height="15.70" fill="#999"/>
<rect x="331.60" y="510.20" width="1.60" height="15.70" fill="#aaa"/>
<rect x="336.00" y="510.20" width="1.40" height="15.70" fill="#999"/>
<rect x="337.00" y="510.20" width="1.70" height="15.70" fill="#222"/>
<rect x="339.00" y="510.20" width="1.90" height="15.70" fill="#999"/>
<rect x="343.60" y="510.20" width="2.60" height="15.70" fill="#ccc"/>
<rect x="348.30" y="510.20" width="1.40" height="15.70" fill="#999"/>
<rect x="349.60" y="510.20" width="2.00" height="15.70" fill="#333"/>
<rect x="352.80" y="510.20" width="1.60" height="15.70" fill="#888"/>
<rect x="354.20" y="510.20" width="1.40" height="15.70" fill="#aaa"/>
<rect x="356.80" y="510.20" width="1.40" height="15.70" fill="#999"/>
<rect x="358.10" y="510.20" width="1.30" height="15.70" fill="#aaa"/>
<rect x="361.30" y="510.20" width="1.80" height="15.70" fill="#aaa"/>
<rect x="366.80" y="510.20" width="1.90" height="15.70" fill="#222"/>
<rect x="369.20" y="510.20" width="1.70" height="15.70" fill="#555"/>
<rect x="371.40" y="510.20" width="1.60" height="15.70" fill="#222"/>
<rect x="372.80" y="510.20" width="1.40" height="15.70" fill="#777"/>
<rect x="375.20" y="510.20" width="1.80" height="15.70" fill="#aaa"/>
<rect x="378.50" y="510.20" width="1.40" height="15.70" fill="#888"/>
<rect x="383.30" y="510.20" width="1.40" height="15.70" fill="#999"/>
<rect x="385.70" y="510.20" width="1.30" height="15.70" fill="#999"/>
<rect x="403.40" y="510.20" width="1.40" height="15.70" fill="#999"/>
<rect x="409.20" y="510.20" width="1.40" height="15.70" fill="#999"/>
<rect x="419.80" y="510.20" width="1.50" height="15.70" fill="#999"/>
<defs><linearGradient id="gc" x1="0" y1="0" x2="1" y2="0"><stop offset="0.000" stop-color="#e8303c"/><stop offset="0.200" stop-color="#ec5060"/><stop offset="0.310" stop-color="#f08090"/><stop offset="0.320" stop-color="#f3b8cf"/><stop offset="0.450" stop-color="#e8c0e0"/><stop offset="0.460" stop-color="#d4cdf2"/><stop offset="0.680" stop-color="#c8c4f0"/><stop offset="0.690" stop-color="#8080e8"/><stop offset="0.880" stop-color="#5050dc"/><stop offset="0.890" stop-color="#2a2ab0"/><stop offset="1.000" stop-color="#1a1a90"/></linearGradient></defs>
<rect x="308.10" y="525.90" width="121.10" height="3.70" fill="url(#gc)"/>
<path d="M308.1 546.0 L308.1 539.6 L312 542.0 L318 543.8 L325 544.9 L335 545.6 L348 546.0 L368 546.3 L385 547.0 L398 547.9 L410 549.0 L419 550.3 L424 552.0 L427 554.5 L428.8 559.0 L429.2 546.0 Z" fill="#dcdcdc" stroke="#c4c4c4" stroke-width="0.5"/>
<line x1="307.6" y1="546.00" x2="429.2" y2="546.00" stroke="#999" stroke-width="0.4"/>
<line x1="359.0" y1="529.60" x2="359.0" y2="562.20" stroke="#ddd" stroke-width="0.5"/>
<text x="312.7" y="532.3" font-size="2.6" fill="#e03030" textLength="36.0" lengthAdjust="spacingAndGlyphs">'proB1' (positively correlated)</text>
<text x="319.6" y="539.9" font-size="5.8" fill="#8c4060" textLength="14.4" lengthAdjust="spacingAndGlyphs">proB1</text>
<text x="392.8" y="539.9" font-size="5.8" fill="#66709c" textLength="15.3" lengthAdjust="spacingAndGlyphs">proB2</text>
<text x="348.5" y="547.3" font-size="2.6" fill="#333" textLength="22.5" lengthAdjust="spacingAndGlyphs">Zero cross at 4146</text>
<text x="370.8" y="561.2" font-size="2.6" fill="#3030c0" textLength="42.0" lengthAdjust="spacingAndGlyphs">'proB2' (negatively correlated)</text>
<polyline points="307.9,499.6 310.0,488.0 312.1,470.4 313.8,468.0 314.8,467.1 316.2,469.0 318.3,469.8 319.2,466.0 321.6,463.1 324.0,464.0 327.0,466.3 332.3,467.7 337.7,466.3 341.0,463.6 347.2,467.1 353.9,470.6 362.0,475.2 367.4,477.9 372.8,478.7 378.2,481.1 386.3,484.6 394.3,489.5 402.4,495.4 406.5,497.6 409.2,496.8 413.2,499.5 418.6,504.1 421.3,502.2 425.3,504.9 429.4,507.0" fill="none" stroke="#44d444" stroke-width="1.25" stroke-linejoin="round"/>
<text x="376.4" y="469.0" font-size="5.6" fill="#333">NES= 1.918</text>
<text x="376.4" y="476.0" font-size="5.6" fill="#333">FDR q value= 0</text>
<rect x="307.60" y="460.60" width="127.30" height="101.60" fill="none" stroke="#111" stroke-width="1"/>
<line x1="303.8" y1="506.60" x2="307.6" y2="506.60" stroke="#111" stroke-width="0.7"/>
<text x="302.4" y="507.90" font-size="3.8" fill="#333" text-anchor="end">0.00</text>
<line x1="303.8" y1="502.15" x2="307.6" y2="502.15" stroke="#111" stroke-width="0.7"/>
<text x="302.4" y="503.45" font-size="3.8" fill="#333" text-anchor="end">0.05</text>
<line x1="303.8" y1="497.70" x2="307.6" y2="497.70" stroke="#111" stroke-width="0.7"/>
<text x="302.4" y="499.00" font-size="3.8" fill="#333" text-anchor="end">0.10</text>
<line x1="303.8" y1="493.25" x2="307.6" y2="493.25" stroke="#111" stroke-width="0.7"/>
<text x="302.4" y="494.55" font-size="3.8" fill="#333" text-anchor="end">0.15</text>
<line x1="303.8" y1="488.80" x2="307.6" y2="488.80" stroke="#111" stroke-width="0.7"/>
<text x="302.4" y="490.10" font-size="3.8" fill="#333" text-anchor="end">0.20</text>
<line x1="303.8" y1="484.35" x2="307.6" y2="484.35" stroke="#111" stroke-width="0.7"/>
<text x="302.4" y="485.65" font-size="3.8" fill="#333" text-anchor="end">0.25</text>
<line x1="303.8" y1="479.90" x2="307.6" y2="479.90" stroke="#111" stroke-width="0.7"/>
<text x="302.4" y="481.20" font-size="3.8" fill="#333" text-anchor="end">0.30</text>
<line x1="303.8" y1="475.45" x2="307.6" y2="475.45" stroke="#111" stroke-width="0.7"/>
<text x="302.4" y="476.75" font-size="3.8" fill="#333" text-anchor="end">0.35</text>
<line x1="303.8" y1="471.00" x2="307.6" y2="471.00" stroke="#111" stroke-width="0.7"/>
<text x="302.4" y="472.30" font-size="3.8" fill="#333" text-anchor="end">0.40</text>
<line x1="303.8" y1="466.55" x2="307.6" y2="466.55" stroke="#111" stroke-width="0.7"/>
<text x="302.4" y="467.85" font-size="3.8" fill="#333" text-anchor="end">0.45</text>
<line x1="303.8" y1="462.10" x2="307.6" y2="462.10" stroke="#111" stroke-width="0.7"/>
<text x="302.4" y="463.40" font-size="3.8" fill="#333" text-anchor="end">0.50</text>
<line x1="303.8" y1="536.60" x2="307.6" y2="536.60" stroke="#111" stroke-width="0.7"/>
<text x="302.4" y="538.00" font-size="4.2" fill="#333" text-anchor="end">0.5</text>
<line x1="303.8" y1="546.00" x2="307.6" y2="546.00" stroke="#111" stroke-width="0.7"/>
<text x="302.4" y="547.40" font-size="4.2" fill="#333" text-anchor="end">0</text>
<line x1="303.8" y1="555.30" x2="307.6" y2="555.30" stroke="#111" stroke-width="0.7"/>
<text x="302.4" y="556.70" font-size="4.2" fill="#333" text-anchor="end">-0.5</text>
<line x1="307.60" y1="562.20" x2="307.60" y2="564.80" stroke="#111" stroke-width="0.7"/>
<text x="307.60" y="572.60" font-size="4.5" fill="#444" text-anchor="middle">0</text>
<line x1="322.02" y1="562.20" x2="322.02" y2="564.80" stroke="#111" stroke-width="0.7"/>
<text x="322.02" y="572.60" font-size="4.5" fill="#444" text-anchor="middle">1,000</text>
<line x1="336.44" y1="562.20" x2="336.44" y2="564.80" stroke="#111" stroke-width="0.7"/>
<text x="336.44" y="572.60" font-size="4.5" fill="#444" text-anchor="middle">2,000</text>
<line x1="350.86" y1="562.20" x2="350.86" y2="564.80" stroke="#111" stroke-width="0.7"/>
<text x="350.86" y="572.60" font-size="4.5" fill="#444" text-anchor="middle">3,000</text>
<line x1="365.28" y1="562.20" x2="365.28" y2="564.80" stroke="#111" stroke-width="0.7"/>
<text x="365.28" y="572.60" font-size="4.5" fill="#444" text-anchor="middle">4,000</text>
<line x1="379.70" y1="562.20" x2="379.70" y2="564.80" stroke="#111" stroke-width="0.7"/>
<text x="379.70" y="572.60" font-size="4.5" fill="#444" text-anchor="middle">5,000</text>
<line x1="394.12" y1="562.20" x2="394.12" y2="564.80" stroke="#111" stroke-width="0.7"/>
<text x="394.12" y="572.60" font-size="4.5" fill="#444" text-anchor="middle">6,000</text>
<line x1="408.54" y1="562.20" x2="408.54" y2="564.80" stroke="#111" stroke-width="0.7"/>
<text x="408.54" y="572.60" font-size="4.5" fill="#444" text-anchor="middle">7,000</text>
<line x1="422.96" y1="562.20" x2="422.96" y2="564.80" stroke="#111" stroke-width="0.7"/>
<text x="422.96" y="572.60" font-size="4.5" fill="#444" text-anchor="middle">8,000</text>
<text transform="translate(288.6 505.5) rotate(-90)" font-size="4.9" fill="#222" textLength="45.5" lengthAdjust="spacingAndGlyphs">Enrichment score (ES)</text>
<text transform="translate(288.6 580.0) rotate(-90)" font-size="4.9" fill="#222" textLength="68.0" lengthAdjust="spacingAndGlyphs">Ranked list metric (Signal2Noise)</text>
<text x="345.8" y="583.2" font-size="6.9" fill="#111" stroke="#111" stroke-width="0.25" textLength="49.9" lengthAdjust="spacingAndGlyphs">Rank in ordered dataset</text>
<line x1="307.6" y1="590.3" x2="313.0" y2="590.3" stroke="#3fd13f" stroke-width="1.2"/>
<text x="315.4" y="591.8" font-size="4.8" fill="#222" textLength="35.5" lengthAdjust="spacingAndGlyphs">Enrichment profile</text>
<line x1="353.8" y1="590.3" x2="358.8" y2="590.3" stroke="#111" stroke-width="1.3"/>
<text x="362.1" y="591.8" font-size="4.8" fill="#222" textLength="9" lengthAdjust="spacingAndGlyphs">Hits</text>
<line x1="374.3" y1="590.3" x2="379.1" y2="590.3" stroke="#ddd" stroke-width="0.8"/>
<line x1="383.1" y1="590.3" x2="388.1" y2="590.3" stroke="#ddd" stroke-width="0.8"/>
<text x="391.6" y="591.8" font-size="4.8" fill="#222" textLength="42.0" lengthAdjust="spacingAndGlyphs">Ranking metric scores</text>
</svg>
</body></html>
